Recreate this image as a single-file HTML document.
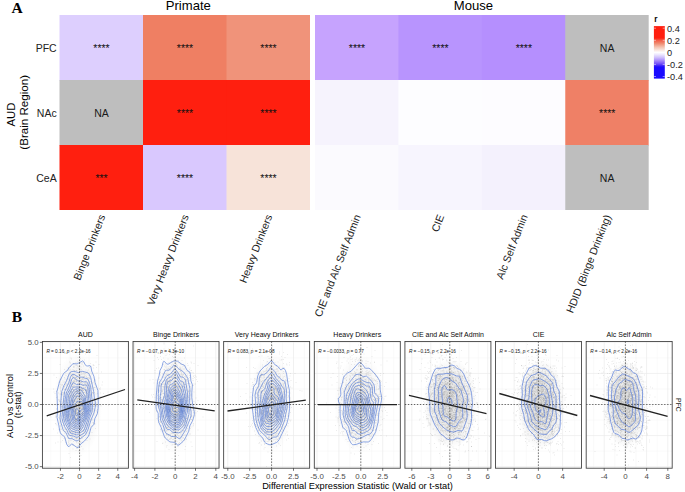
<!DOCTYPE html>
<html><head><meta charset="utf-8"><style>
html,body{margin:0;padding:0;background:#fff;}
svg{display:block;}
</style></head><body>
<svg width="685" height="492" viewBox="0 0 685 492" font-family="'Liberation Sans', sans-serif">
<rect width="685" height="492" fill="#fff"/>
<rect x="59.50" y="15.00" width="84.20" height="65.70" fill="#DDCFFE"/>
<rect x="143.00" y="15.00" width="84.20" height="65.70" fill="#EF7F63"/>
<rect x="226.50" y="15.00" width="83.50" height="65.70" fill="#F0937A"/>
<rect x="315.00" y="15.00" width="84.12" height="65.70" fill="#C6A3FE"/>
<rect x="398.42" y="15.00" width="84.12" height="65.70" fill="#B894FE"/>
<rect x="481.84" y="15.00" width="84.12" height="65.70" fill="#B58FFE"/>
<rect x="565.26" y="15.00" width="83.42" height="65.70" fill="#BEBEBE"/>
<rect x="59.50" y="80.00" width="84.20" height="65.70" fill="#BEBEBE"/>
<rect x="143.00" y="80.00" width="84.20" height="65.70" fill="#FF1F0F"/>
<rect x="226.50" y="80.00" width="83.50" height="65.70" fill="#FF1F0F"/>
<rect x="315.00" y="80.00" width="84.12" height="65.70" fill="#F6F3FD"/>
<rect x="398.42" y="80.00" width="84.12" height="65.70" fill="#FDFDFF"/>
<rect x="481.84" y="80.00" width="84.12" height="65.70" fill="#FDFCFF"/>
<rect x="565.26" y="80.00" width="83.42" height="65.70" fill="#EF8066"/>
<rect x="59.50" y="145.00" width="84.20" height="65.00" fill="#FF1F0F"/>
<rect x="143.00" y="145.00" width="84.20" height="65.00" fill="#D9C8FE"/>
<rect x="226.50" y="145.00" width="83.50" height="65.00" fill="#F7E3D9"/>
<rect x="315.00" y="145.00" width="84.12" height="65.00" fill="#FBFAFE"/>
<rect x="398.42" y="145.00" width="84.12" height="65.00" fill="#F7F5FE"/>
<rect x="481.84" y="145.00" width="84.12" height="65.00" fill="#F4F1FD"/>
<rect x="565.26" y="145.00" width="83.42" height="65.00" fill="#BEBEBE"/>
<text x="101.55" y="52.00" font-size="10.5" text-anchor="middle" fill="#111">****</text>
<text x="185.05" y="52.00" font-size="10.5" text-anchor="middle" fill="#111">****</text>
<text x="268.55" y="52.00" font-size="10.5" text-anchor="middle" fill="#111">****</text>
<text x="357.01" y="52.00" font-size="10.5" text-anchor="middle" fill="#111">****</text>
<text x="440.43" y="52.00" font-size="10.5" text-anchor="middle" fill="#111">****</text>
<text x="523.85" y="52.00" font-size="10.5" text-anchor="middle" fill="#111">****</text>
<text x="607.17" y="51.80" font-size="10.5" text-anchor="middle" fill="#1a1a1a">NA</text>
<text x="101.45" y="116.80" font-size="10.5" text-anchor="middle" fill="#1a1a1a">NA</text>
<text x="185.05" y="117.00" font-size="10.5" text-anchor="middle" fill="#111">****</text>
<text x="268.55" y="117.00" font-size="10.5" text-anchor="middle" fill="#111">****</text>
<text x="607.27" y="117.00" font-size="10.5" text-anchor="middle" fill="#111">****</text>
<text x="101.55" y="182.00" font-size="10.5" text-anchor="middle" fill="#111">***</text>
<text x="185.05" y="182.00" font-size="10.5" text-anchor="middle" fill="#111">****</text>
<text x="268.55" y="182.00" font-size="10.5" text-anchor="middle" fill="#111">****</text>
<text x="607.17" y="181.80" font-size="10.5" text-anchor="middle" fill="#1a1a1a">NA</text>
<text x="188.3" y="9.9" font-size="13.1" text-anchor="middle" fill="#000">Primate</text>
<text x="473.5" y="9.9" font-size="13.1" text-anchor="middle" fill="#000">Mouse</text>
<text x="11.4" y="12.7" font-size="15.5" font-family="Liberation Serif, serif" font-weight="bold" fill="#000">A</text>
<text x="11.8" y="321.5" font-size="15.5" font-family="Liberation Serif, serif" font-weight="bold" fill="#000">B</text>
<text x="56.7" y="52.00" font-size="10.5" text-anchor="end" fill="#222">PFC</text>
<text x="56.7" y="117.00" font-size="10.5" text-anchor="end" fill="#222">NAc</text>
<text x="56.7" y="182.00" font-size="10.5" text-anchor="end" fill="#222">CeA</text>
<text transform="translate(14.5,114.6) rotate(-90)" font-size="11.3" text-anchor="middle" fill="#000">AUD</text>
<text transform="translate(27.6,112.3) rotate(-90)" font-size="11.6" text-anchor="middle" fill="#000">(Brain Region)</text>
<text transform="translate(102.10,215) rotate(-68.5)" font-size="10.6" text-anchor="end" dy="0.35em" fill="#1A1A1A">Binge Drinkers</text>
<text transform="translate(185.60,215) rotate(-68.5)" font-size="10.6" text-anchor="end" dy="0.35em" fill="#1A1A1A">Very Heavy Drinkers</text>
<text transform="translate(269.10,215) rotate(-68.5)" font-size="10.6" text-anchor="end" dy="0.35em" fill="#1A1A1A">Heavy Drinkers</text>
<text transform="translate(357.56,215) rotate(-68.5)" font-size="10.6" text-anchor="end" dy="0.35em" fill="#1A1A1A">CIE and Alc Self Admin</text>
<text transform="translate(440.98,215) rotate(-68.5)" font-size="10.6" text-anchor="end" dy="0.35em" fill="#1A1A1A">CIE</text>
<text transform="translate(524.40,215) rotate(-68.5)" font-size="10.6" text-anchor="end" dy="0.35em" fill="#1A1A1A">Alc Self Admin</text>
<text transform="translate(607.82,215) rotate(-68.5)" font-size="10.6" text-anchor="end" dy="0.35em" fill="#1A1A1A">HDID (Binge Drinking)</text>
<defs><linearGradient id="cb" x1="0" y1="0" x2="0" y2="1"><stop offset="0" stop-color="#FF1F0F"/><stop offset="0.226" stop-color="#FF1F0F"/><stop offset="0.27" stop-color="#F45A45"/><stop offset="0.33" stop-color="#EF8A70"/><stop offset="0.4" stop-color="#F4C2B0"/><stop offset="0.47" stop-color="#FBEDE8"/><stop offset="0.5" stop-color="#FFFFFF"/><stop offset="0.54" stop-color="#EEE8FE"/><stop offset="0.595" stop-color="#D0C2FC"/><stop offset="0.65" stop-color="#AC90FA"/><stop offset="0.708" stop-color="#7C5AF8"/><stop offset="0.735" stop-color="#5E3CF8"/><stop offset="0.763" stop-color="#2E18FA"/><stop offset="0.79" stop-color="#1A0AFF"/><stop offset="1" stop-color="#1A0AFF"/></linearGradient></defs>
<rect x="653.9" y="26.1" width="10.9" height="52.5" fill="url(#cb)"/>
<line x1="653.9" x2="656" y1="28.2" y2="28.2" stroke="#fff" stroke-width="0.5"/>
<line x1="662.7" x2="664.8" y1="28.2" y2="28.2" stroke="#fff" stroke-width="0.5"/>
<text x="667.0" y="31.60" font-size="9.2" fill="#222">0.4</text>
<line x1="653.9" x2="656" y1="40.3" y2="40.3" stroke="#fff" stroke-width="0.5"/>
<line x1="662.7" x2="664.8" y1="40.3" y2="40.3" stroke="#fff" stroke-width="0.5"/>
<text x="667.0" y="43.70" font-size="9.2" fill="#222">0.2</text>
<line x1="653.9" x2="656" y1="52.4" y2="52.4" stroke="#fff" stroke-width="0.5"/>
<line x1="662.7" x2="664.8" y1="52.4" y2="52.4" stroke="#fff" stroke-width="0.5"/>
<text x="667.0" y="55.80" font-size="9.2" fill="#222">0</text>
<line x1="653.9" x2="656" y1="64.4" y2="64.4" stroke="#fff" stroke-width="0.5"/>
<line x1="662.7" x2="664.8" y1="64.4" y2="64.4" stroke="#fff" stroke-width="0.5"/>
<text x="667.0" y="67.80" font-size="9.2" fill="#222">-0.2</text>
<line x1="653.9" x2="656" y1="76.5" y2="76.5" stroke="#fff" stroke-width="0.5"/>
<line x1="662.7" x2="664.8" y1="76.5" y2="76.5" stroke="#fff" stroke-width="0.5"/>
<text x="667.0" y="79.90" font-size="9.2" fill="#222">-0.4</text>
<text x="654.3" y="21.9" font-size="8.2" font-weight="bold" fill="#000">r</text>
<defs><radialGradient id="cloud" cx="0.5" cy="0.5" r="0.5"><stop offset="0" stop-color="#C8C8C8" stop-opacity="0.55"/><stop offset="0.6" stop-color="#C8C8C8" stop-opacity="0.35"/><stop offset="1" stop-color="#C8C8C8" stop-opacity="0"/></radialGradient></defs>
<g font-family="Liberation Sans, sans-serif">
<path d="M42.40 451.11H128.40M42.40 420.04H128.40M42.40 388.96H128.40M42.40 357.89H128.40M50.90 341.5V468.2M70.00 341.5V468.2M89.10 341.5V468.2M108.20 341.5V468.2M127.30 341.5V468.2" stroke="#F3F3F3" stroke-width="0.45" fill="none"/>
<path d="M42.40 466.65H128.40M42.40 435.57H128.40M42.40 404.50H128.40M42.40 373.43H128.40M42.40 342.35H128.40M60.45 341.5V468.2M79.55 341.5V468.2M98.65 341.5V468.2M117.75 341.5V468.2" stroke="#EBEBEB" stroke-width="0.7" fill="none"/>
<ellipse cx="77.6" cy="404.3" rx="24.8" ry="52.1" fill="url(#cloud)" opacity="0.55"/>
<path transform="scale(0.5)" d="M148 690h0m1 12h0m10 6h0m12 0h0m23 3h0m-38 4h0m-14 1h0m19 1h0m-18 1h0m26 2h0m-30 4h0m16 0h0m4 0h0m33 0h0m-40 1h0m14 0h0m-25 1h0m19 0h0m3 0h0m2 0h0m-19 1h0m4 0h0m31 0h0m-34 1h0m-27 1h0m44 0h0m34 0h0m-12 1h0m1 0h0m-35 1h0m2 0h0m26 0h0m8 0h0m-40 1h0m8 0h0m11 0h0m-26 1h0m6 0h0m9 0h0m26 0h0m-33 1h0m13 0h0m-25 1h0m10 0h0m32 0h0m14 0h0m-57 1h0m18 0h0m3 0h0m30 0h0m-50 2h0m21 0h0m-29 1h0m11 0h0m6 0h0m17 0h0m-4 1h0m2 0h0m11 0h0m5 0h0m-39 1h0m10 0h0m1 0h0m3 0h0m1 0h0m1 0h0m-12 1h0m17 0h0m16 0h0m-26 2h0m14 0h0m3 0h0m14 0h0m23 0h0m-40 1h0m10 0h0m3 0h0m-36 1h0m2 0h0m26 0h0m8 0h0m18 0h0m-53 1h0m5 0h0m25 0h0m8 0h0m-49 1h0m8 0h0m20 0h0m5 0h0m2 0h0m2 0h0m2 0h0m14 0h0m-41 1h0m4 0h0m3 0h0m1 0h0m8 0h0m4 0h0m-54 1h0m29 0h0m5 0h0m2 0h0m13 0h0m13 0h0m4 0h0m-42 1h0m15 0h0m8 0h0m5 0h0m18 0h0m-33 1h0m0 0h0m1 0h0m7 0h0m17 0h0m11 0h0m-46 1h0m11 0h0m21 0h0m1 0h0m1 0h0m4 0h0m-24 1h0m3 0h0m1 0h0m1 0h0m12 0h0m-53 1h0m16 0h0m16 0h0m1 0h0m4 0h0m2 0h0m13 0h0m3 0h0m0 0h0m5 0h0m2 0h0m2 0h0m2 0h0m-32 1h0m4 0h0m1 0h0m9 0h0m37 0h0m-62 1h0m28 0h0m1 0h0m13 0h0m1 0h0m-59 1h0m3 0h0m7 0h0m19 0h0m6 0h0m0 0h0m5 0h0m7 0h0m6 0h0m9 0h0m-48 1h0m4 0h0m5 0h0m7 0h0m2 0h0m0 0h0m7 0h0m5 0h0m1 0h0m5 0h0m5 0h0m-56 1h0m21 0h0m3 0h0m10 0h0m9 0h0m1 0h0m4 0h0m9 0h0m15 0h0m-50 1h0m6 0h0m3 0h0m6 0h0m1 0h0m15 0h0m-46 1h0m13 0h0m9 0h0m1 0h0m4 0h0m5 0h0m30 0h0m-68 1h0m10 0h0m15 0h0m3 0h0m1 0h0m3 0h0m0 0h0m1 0h0m10 0h0m2 0h0m16 0h0m-63 1h0m19 0h0m10 0h0m0 0h0m15 0h0m1 0h0m9 0h0m4 0h0m1 0h0m1 0h0m5 0h0m22 0h0m-86 1h0m9 0h0m12 0h0m3 0h0m2 0h0m14 0h0m1 0h0m2 0h0m10 0h0m14 0h0m-62 1h0m16 0h0m7 0h0m5 0h0m5 0h0m1 0h0m4 0h0m2 0h0m6 0h0m0 0h0m13 0h0m-47 1h0m5 0h0m0 0h0m8 0h0m6 0h0m17 0h0m12 0h0m-52 1h0m1 0h0m10 0h0m2 0h0m11 0h0m9 0h0m4 0h0m4 0h0m3 0h0m13 0h0m-69 1h0m5 0h0m10 0h0m2 0h0m8 0h0m0 0h0m0 0h0m3 0h0m11 0h0m4 0h0m4 0h0m8 0h0m-52 1h0m1 0h0m7 0h0m25 0h0m3 0h0m8 0h0m5 0h0m3 0h0m5 0h0m24 0h0m-71 1h0m11 0h0m3 0h0m2 0h0m16 0h0m2 0h0m4 0h0m3 0h0m2 0h0m-58 1h0m8 0h0m14 0h0m12 0h0m3 0h0m2 0h0m11 0h0m3 0h0m8 0h0m0 0h0m13 0h0m-63 1h0m8 0h0m6 0h0m2 0h0m1 0h0m0 0h0m14 0h0m21 0h0m-59 1h0m7 0h0m13 0h0m3 0h0m9 0h0m0 0h0m9 0h0m8 0h0m7 0h0m5 0h0m-46 1h0m12 0h0m7 0h0m2 0h0m1 0h0m0 0h0m4 0h0m4 0h0m3 0h0m1 0h0m18 0h0m1 0h0m-70 1h0m38 0h0m1 0h0m1 0h0m7 0h0m2 0h0m9 0h0m8 0h0m1 0h0m14 0h0m-74 1h0m29 0h0m2 0h0m0 0h0m1 0h0m4 0h0m1 0h0m0 0h0m1 0h0m13 0h0m1 0h0m4 0h0m16 0h0m-92 1h0m24 0h0m3 0h0m3 0h0m9 0h0m6 0h0m0 0h0m2 0h0m7 0h0m2 0h0m2 0h0m5 0h0m1 0h0m-43 1h0m1 0h0m3 0h0m12 0h0m0 0h0m1 0h0m2 0h0m0 0h0m6 0h0m5 0h0m0 0h0m6 0h0m9 0h0m3 0h0m24 0h0m-63 1h0m6 0h0m5 0h0m5 0h0m8 0h0m2 0h0m1 0h0m1 0h0m0 0h0m2 0h0m4 0h0m2 0h0m0 0h0m4 0h0m13 0h0m-50 1h0m7 0h0m0 0h0m8 0h0m0 0h0m3 0h0m0 0h0m4 0h0m3 0h0m1 0h0m1 0h0m4 0h0m0 0h0m0 0h0m1 0h0m2 0h0m5 0h0m1 0h0m-67 1h0m8 0h0m22 0h0m8 0h0m1 0h0m3 0h0m1 0h0m4 0h0m2 0h0m1 0h0m5 0h0m4 0h0m1 0h0m1 0h0m8 0h0m-69 1h0m24 0h0m0 0h0m1 0h0m4 0h0m0 0h0m2 0h0m3 0h0m2 0h0m4 0h0m0 0h0m0 0h0m1 0h0m0 0h0m0 0h0m0 0h0m1 0h0m2 0h0m1 0h0m2 0h0m13 0h0m-65 1h0m25 0h0m4 0h0m4 0h0m2 0h0m0 0h0m5 0h0m0 0h0m3 0h0m5 0h0m10 0h0m7 0h0m3 0h0m1 0h0m1 0h0m38 0h0m-91 1h0m3 0h0m2 0h0m13 0h0m13 0h0m6 0h0m2 0h0m2 0h0m1 0h0m1 0h0m1 0h0m2 0h0m2 0h0m5 0h0m7 0h0m1 0h0m3 0h0m-72 1h0m10 0h0m6 0h0m1 0h0m6 0h0m1 0h0m3 0h0m3 0h0m3 0h0m2 0h0m1 0h0m2 0h0m1 0h0m3 0h0m1 0h0m22 0h0m3 0h0m16 0h0m-91 1h0m12 0h0m7 0h0m11 0h0m14 0h0m0 0h0m6 0h0m5 0h0m6 0h0m2 0h0m0 0h0m2 0h0m1 0h0m11 0h0m8 0h0m12 0h0m-87 1h0m5 0h0m2 0h0m13 0h0m6 0h0m1 0h0m2 0h0m6 0h0m2 0h0m0 0h0m1 0h0m2 0h0m1 0h0m1 0h0m11 0h0m11 0h0m8 0h0m-70 1h0m1 0h0m10 0h0m6 0h0m7 0h0m0 0h0m6 0h0m6 0h0m3 0h0m6 0h0m10 0h0m3 0h0m2 0h0m-57 1h0m11 0h0m2 0h0m2 0h0m7 0h0m0 0h0m6 0h0m1 0h0m5 0h0m0 0h0m4 0h0m6 0h0m3 0h0m2 0h0m4 0h0m-39 1h0m3 0h0m1 0h0m3 0h0m2 0h0m1 0h0m5 0h0m2 0h0m3 0h0m1 0h0m3 0h0m2 0h0m1 0h0m8 0h0m3 0h0m3 0h0m1 0h0m-44 1h0m0 0h0m4 0h0m1 0h0m2 0h0m0 0h0m3 0h0m1 0h0m0 0h0m3 0h0m2 0h0m4 0h0m3 0h0m3 0h0m6 0h0m1 0h0m0 0h0m1 0h0m-43 1h0m0 0h0m10 0h0m1 0h0m6 0h0m5 0h0m1 0h0m2 0h0m2 0h0m2 0h0m1 0h0m0 0h0m15 0h0m1 0h0m3 0h0m3 0h0m20 0h0m-85 1h0m21 0h0m0 0h0m5 0h0m1 0h0m3 0h0m0 0h0m2 0h0m1 0h0m1 0h0m2 0h0m1 0h0m1 0h0m0 0h0m1 0h0m3 0h0m4 0h0m2 0h0m1 0h0m0 0h0m12 0h0m2 0h0m24 0h0m-89 1h0m26 0h0m2 0h0m6 0h0m16 0h0m10 0h0m0 0h0m2 0h0m4 0h0m-46 1h0m5 0h0m1 0h0m6 0h0m2 0h0m6 0h0m1 0h0m3 0h0m0 0h0m11 0h0m0 0h0m4 0h0m6 0h0m-50 1h0m11 0h0m7 0h0m3 0h0m3 0h0m3 0h0m1 0h0m1 0h0m6 0h0m1 0h0m0 0h0m7 0h0m16 0h0m-49 1h0m6 0h0m7 0h0m1 0h0m3 0h0m3 0h0m2 0h0m2 0h0m4 0h0m2 0h0m2 0h0m0 0h0m1 0h0m17 0h0m-71 1h0m6 0h0m12 0h0m10 0h0m3 0h0m2 0h0m1 0h0m3 0h0m4 0h0m1 0h0m0 0h0m1 0h0m1 0h0m3 0h0m1 0h0m4 0h0m7 0h0m16 0h0m2 0h0m3 0h0m-78 1h0m10 0h0m7 0h0m3 0h0m5 0h0m0 0h0m2 0h0m3 0h0m1 0h0m4 0h0m1 0h0m5 0h0m0 0h0m3 0h0m0 0h0m5 0h0m1 0h0m1 0h0m7 0h0m3 0h0m8 0h0m-70 1h0m13 0h0m1 0h0m4 0h0m2 0h0m2 0h0m3 0h0m1 0h0m2 0h0m2 0h0m1 0h0m3 0h0m8 0h0m5 0h0m2 0h0m0 0h0m0 0h0m0 0h0m3 0h0m13 0h0m5 0h0m-60 1h0m1 0h0m9 0h0m2 0h0m3 0h0m0 0h0m2 0h0m1 0h0m2 0h0m1 0h0m2 0h0m3 0h0m1 0h0m9 0h0m2 0h0m1 0h0m0 0h0m1 0h0m23 0h0m-72 1h0m1 0h0m10 0h0m2 0h0m11 0h0m2 0h0m4 0h0m0 0h0m1 0h0m4 0h0m0 0h0m4 0h0m1 0h0m0 0h0m1 0h0m2 0h0m0 0h0m2 0h0m1 0h0m2 0h0m1 0h0m9 0h0m0 0h0m-54 1h0m4 0h0m7 0h0m4 0h0m2 0h0m2 0h0m4 0h0m0 0h0m1 0h0m5 0h0m2 0h0m2 0h0m1 0h0m3 0h0m0 0h0m1 0h0m0 0h0m2 0h0m1 0h0m1 0h0m13 0h0m7 0h0m-58 1h0m5 0h0m2 0h0m1 0h0m9 0h0m1 0h0m8 0h0m1 0h0m2 0h0m0 0h0m0 0h0m3 0h0m0 0h0m1 0h0m1 0h0m0 0h0m1 0h0m4 0h0m2 0h0m9 0h0m1 0h0m1 0h0m-42 1h0m1 0h0m6 0h0m3 0h0m2 0h0m0 0h0m4 0h0m0 0h0m3 0h0m1 0h0m1 0h0m1 0h0m2 0h0m1 0h0m1 0h0m1 0h0m5 0h0m1 0h0m1 0h0m8 0h0m9 0h0m4 0h0m0 0h0m-70 1h0m6 0h0m1 0h0m5 0h0m11 0h0m6 0h0m4 0h0m8 0h0m0 0h0m1 0h0m3 0h0m0 0h0m2 0h0m6 0h0m8 0h0m6 0h0m-66 1h0m5 0h0m22 0h0m7 0h0m1 0h0m0 0h0m1 0h0m3 0h0m4 0h0m1 0h0m0 0h0m3 0h0m2 0h0m-44 1h0m3 0h0m4 0h0m5 0h0m4 0h0m1 0h0m8 0h0m3 0h0m0 0h0m7 0h0m2 0h0m1 0h0m2 0h0m6 0h0m6 0h0m-75 1h0m9 0h0m1 0h0m19 0h0m0 0h0m4 0h0m1 0h0m3 0h0m1 0h0m8 0h0m1 0h0m0 0h0m5 0h0m2 0h0m2 0h0m3 0h0m1 0h0m3 0h0m0 0h0m1 0h0m4 0h0m0 0h0m2 0h0m5 0h0m0 0h0m2 0h0m20 0h0m-81 1h0m5 0h0m6 0h0m5 0h0m4 0h0m0 0h0m2 0h0m6 0h0m4 0h0m2 0h0m2 0h0m4 0h0m1 0h0m4 0h0m1 0h0m2 0h0m2 0h0m4 0h0m3 0h0m10 0h0m3 0h0m0 0h0m2 0h0m4 0h0m20 0h0m-90 1h0m6 0h0m5 0h0m1 0h0m1 0h0m0 0h0m3 0h0m2 0h0m1 0h0m7 0h0m5 0h0m0 0h0m3 0h0m2 0h0m1 0h0m0 0h0m0 0h0m0 0h0m2 0h0m2 0h0m3 0h0m1 0h0m6 0h0m3 0h0m0 0h0m7 0h0m1 0h0m13 0h0m-78 1h0m0 0h0m10 0h0m9 0h0m0 0h0m1 0h0m3 0h0m5 0h0m2 0h0m3 0h0m0 0h0m3 0h0m3 0h0m3 0h0m1 0h0m8 0h0m2 0h0m0 0h0m6 0h0m4 0h0m1 0h0m6 0h0m-72 1h0m3 0h0m4 0h0m0 0h0m11 0h0m1 0h0m1 0h0m0 0h0m0 0h0m5 0h0m1 0h0m6 0h0m2 0h0m1 0h0m9 0h0m2 0h0m0 0h0m0 0h0m2 0h0m6 0h0m4 0h0m-54 1h0m2 0h0m6 0h0m1 0h0m1 0h0m0 0h0m3 0h0m2 0h0m3 0h0m1 0h0m0 0h0m2 0h0m0 0h0m0 0h0m3 0h0m1 0h0m2 0h0m1 0h0m0 0h0m3 0h0m4 0h0m0 0h0m1 0h0m1 0h0m2 0h0m2 0h0m10 0h0m-62 1h0m21 0h0m3 0h0m1 0h0m2 0h0m2 0h0m4 0h0m1 0h0m1 0h0m2 0h0m5 0h0m1 0h0m0 0h0m3 0h0m3 0h0m1 0h0m1 0h0m1 0h0m0 0h0m1 0h0m0 0h0m2 0h0m2 0h0m2 0h0m2 0h0m7 0h0m-49 1h0m6 0h0m3 0h0m3 0h0m2 0h0m0 0h0m0 0h0m4 0h0m4 0h0m1 0h0m2 0h0m2 0h0m1 0h0m0 0h0m2 0h0m1 0h0m2 0h0m2 0h0m2 0h0m0 0h0m1 0h0m1 0h0m6 0h0m3 0h0m4 0h0m-73 1h0m0 0h0m21 0h0m7 0h0m4 0h0m1 0h0m5 0h0m1 0h0m3 0h0m1 0h0m2 0h0m1 0h0m1 0h0m3 0h0m2 0h0m4 0h0m4 0h0m5 0h0m10 0h0m-49 1h0m3 0h0m2 0h0m0 0h0m1 0h0m0 0h0m2 0h0m3 0h0m0 0h0m0 0h0m1 0h0m1 0h0m2 0h0m4 0h0m1 0h0m0 0h0m1 0h0m4 0h0m2 0h0m1 0h0m0 0h0m1 0h0m0 0h0m1 0h0m1 0h0m6 0h0m1 0h0m0 0h0m18 0h0m-70 1h0m16 0h0m1 0h0m1 0h0m1 0h0m1 0h0m1 0h0m0 0h0m2 0h0m3 0h0m1 0h0m0 0h0m1 0h0m0 0h0m1 0h0m1 0h0m3 0h0m4 0h0m5 0h0m2 0h0m1 0h0m1 0h0m6 0h0m3 0h0m1 0h0m1 0h0m2 0h0m3 0h0m2 0h0m-60 1h0m3 0h0m2 0h0m4 0h0m7 0h0m2 0h0m2 0h0m1 0h0m2 0h0m1 0h0m5 0h0m1 0h0m1 0h0m4 0h0m6 0h0m5 0h0m6 0h0m1 0h0m10 0h0m-70 1h0m0 0h0m12 0h0m3 0h0m10 0h0m0 0h0m2 0h0m2 0h0m0 0h0m4 0h0m2 0h0m0 0h0m3 0h0m2 0h0m2 0h0m2 0h0m1 0h0m1 0h0m6 0h0m1 0h0m1 0h0m-63 1h0m8 0h0m11 0h0m5 0h0m1 0h0m2 0h0m3 0h0m4 0h0m1 0h0m0 0h0m1 0h0m1 0h0m2 0h0m0 0h0m1 0h0m4 0h0m2 0h0m1 0h0m3 0h0m1 0h0m3 0h0m7 0h0m1 0h0m11 0h0m8 0h0m-66 1h0m1 0h0m1 0h0m2 0h0m0 0h0m5 0h0m0 0h0m5 0h0m4 0h0m3 0h0m1 0h0m1 0h0m0 0h0m2 0h0m6 0h0m1 0h0m6 0h0m0 0h0m1 0h0m1 0h0m1 0h0m1 0h0m3 0h0m1 0h0m3 0h0m5 0h0m2 0h0m-51 1h0m4 0h0m4 0h0m5 0h0m3 0h0m1 0h0m2 0h0m2 0h0m0 0h0m0 0h0m1 0h0m1 0h0m2 0h0m0 0h0m3 0h0m4 0h0m11 0h0m1 0h0m1 0h0m17 0h0m-68 1h0m2 0h0m5 0h0m4 0h0m11 0h0m2 0h0m3 0h0m1 0h0m2 0h0m0 0h0m1 0h0m1 0h0m1 0h0m3 0h0m1 0h0m1 0h0m4 0h0m0 0h0m1 0h0m3 0h0m15 0h0m6 0h0m-71 1h0m3 0h0m12 0h0m3 0h0m4 0h0m5 0h0m0 0h0m1 0h0m1 0h0m0 0h0m1 0h0m1 0h0m0 0h0m0 0h0m2 0h0m2 0h0m2 0h0m1 0h0m4 0h0m5 0h0m1 0h0m6 0h0m-49 1h0m2 0h0m0 0h0m2 0h0m2 0h0m3 0h0m0 0h0m2 0h0m3 0h0m1 0h0m4 0h0m3 0h0m2 0h0m3 0h0m0 0h0m2 0h0m0 0h0m5 0h0m3 0h0m0 0h0m0 0h0m0 0h0m1 0h0m2 0h0m0 0h0m5 0h0m1 0h0m1 0h0m8 0h0m-56 1h0m4 0h0m0 0h0m3 0h0m3 0h0m1 0h0m2 0h0m3 0h0m8 0h0m5 0h0m0 0h0m0 0h0m1 0h0m1 0h0m0 0h0m1 0h0m4 0h0m2 0h0m0 0h0m1 0h0m3 0h0m-57 1h0m6 0h0m3 0h0m3 0h0m11 0h0m2 0h0m3 0h0m1 0h0m1 0h0m0 0h0m3 0h0m0 0h0m3 0h0m0 0h0m2 0h0m1 0h0m3 0h0m0 0h0m0 0h0m2 0h0m6 0h0m2 0h0m0 0h0m4 0h0m1 0h0m1 0h0m3 0h0m3 0h0m1 0h0m3 0h0m8 0h0m5 0h0m-65 1h0m0 0h0m2 0h0m4 0h0m3 0h0m7 0h0m1 0h0m0 0h0m1 0h0m2 0h0m3 0h0m2 0h0m1 0h0m1 0h0m1 0h0m4 0h0m3 0h0m2 0h0m3 0h0m9 0h0m-65 1h0m10 0h0m10 0h0m0 0h0m3 0h0m1 0h0m2 0h0m0 0h0m4 0h0m0 0h0m1 0h0m0 0h0m4 0h0m2 0h0m0 0h0m1 0h0m3 0h0m1 0h0m0 0h0m4 0h0m3 0h0m1 0h0m3 0h0m1 0h0m4 0h0m10 0h0m-67 1h0m14 0h0m6 0h0m6 0h0m4 0h0m2 0h0m3 0h0m3 0h0m10 0h0m8 0h0m1 0h0m2 0h0m-70 1h0m9 0h0m10 0h0m7 0h0m0 0h0m3 0h0m5 0h0m2 0h0m0 0h0m3 0h0m1 0h0m7 0h0m6 0h0m1 0h0m0 0h0m0 0h0m1 0h0m1 0h0m3 0h0m1 0h0m1 0h0m6 0h0m4 0h0m2 0h0m-58 1h0m12 0h0m8 0h0m4 0h0m3 0h0m2 0h0m2 0h0m2 0h0m0 0h0m1 0h0m18 0h0m-41 1h0m7 0h0m1 0h0m1 0h0m6 0h0m2 0h0m2 0h0m2 0h0m1 0h0m2 0h0m0 0h0m11 0h0m2 0h0m1 0h0m5 0h0m1 0h0m2 0h0m1 0h0m9 0h0m-64 1h0m10 0h0m2 0h0m7 0h0m2 0h0m9 0h0m1 0h0m0 0h0m2 0h0m2 0h0m0 0h0m1 0h0m1 0h0m4 0h0m1 0h0m3 0h0m1 0h0m6 0h0m-57 1h0m16 0h0m5 0h0m4 0h0m3 0h0m1 0h0m1 0h0m2 0h0m2 0h0m2 0h0m0 0h0m1 0h0m1 0h0m0 0h0m3 0h0m2 0h0m2 0h0m0 0h0m6 0h0m2 0h0m2 0h0m1 0h0m3 0h0m2 0h0m5 0h0m-56 1h0m4 0h0m3 0h0m8 0h0m6 0h0m1 0h0m4 0h0m2 0h0m0 0h0m1 0h0m1 0h0m1 0h0m4 0h0m1 0h0m0 0h0m1 0h0m6 0h0m2 0h0m2 0h0m9 0h0m3 0h0m-63 1h0m5 0h0m1 0h0m8 0h0m1 0h0m2 0h0m2 0h0m1 0h0m1 0h0m8 0h0m0 0h0m1 0h0m1 0h0m1 0h0m0 0h0m1 0h0m2 0h0m1 0h0m0 0h0m5 0h0m4 0h0m1 0h0m1 0h0m18 0h0m-55 1h0m4 0h0m0 0h0m3 0h0m0 0h0m10 0h0m3 0h0m0 0h0m2 0h0m1 0h0m2 0h0m0 0h0m1 0h0m1 0h0m7 0h0m9 0h0m8 0h0m-58 1h0m1 0h0m5 0h0m1 0h0m3 0h0m7 0h0m3 0h0m4 0h0m0 0h0m3 0h0m3 0h0m0 0h0m1 0h0m0 0h0m2 0h0m1 0h0m4 0h0m3 0h0m0 0h0m0 0h0m2 0h0m0 0h0m1 0h0m0 0h0m9 0h0m-57 1h0m8 0h0m18 0h0m5 0h0m1 0h0m8 0h0m1 0h0m3 0h0m2 0h0m9 0h0m3 0h0m-40 1h0m2 0h0m1 0h0m2 0h0m7 0h0m2 0h0m0 0h0m8 0h0m1 0h0m6 0h0m3 0h0m8 0h0m-53 1h0m16 0h0m0 0h0m6 0h0m2 0h0m1 0h0m2 0h0m3 0h0m4 0h0m2 0h0m3 0h0m22 0h0m-67 1h0m20 0h0m1 0h0m6 0h0m1 0h0m0 0h0m3 0h0m12 0h0m11 0h0m14 0h0m-76 1h0m20 0h0m10 0h0m1 0h0m3 0h0m9 0h0m5 0h0m5 0h0m8 0h0m1 0h0m2 0h0m13 0h0m1 0h0m-77 1h0m21 0h0m6 0h0m0 0h0m2 0h0m3 0h0m5 0h0m1 0h0m2 0h0m2 0h0m1 0h0m1 0h0m3 0h0m19 0h0m12 0h0m-67 1h0m20 0h0m13 0h0m0 0h0m2 0h0m2 0h0m3 0h0m13 0h0m-62 1h0m14 0h0m1 0h0m11 0h0m5 0h0m4 0h0m3 0h0m1 0h0m3 0h0m1 0h0m4 0h0m2 0h0m1 0h0m6 0h0m2 0h0m2 0h0m-48 1h0m3 0h0m4 0h0m0 0h0m9 0h0m6 0h0m3 0h0m1 0h0m8 0h0m5 0h0m1 0h0m8 0h0m3 0h0m-58 1h0m2 0h0m19 0h0m5 0h0m5 0h0m4 0h0m11 0h0m6 0h0m9 0h0m4 0h0m-51 1h0m5 0h0m0 0h0m4 0h0m2 0h0m6 0h0m4 0h0m4 0h0m2 0h0m0 0h0m-34 1h0m17 0h0m3 0h0m4 0h0m2 0h0m7 0h0m1 0h0m2 0h0m0 0h0m8 0h0m2 0h0m-25 1h0m2 0h0m3 0h0m4 0h0m0 0h0m0 0h0m4 0h0m5 0h0m1 0h0m7 0h0m-45 1h0m8 0h0m5 0h0m1 0h0m6 0h0m1 0h0m1 0h0m5 0h0m2 0h0m3 0h0m11 0h0m-31 1h0m3 0h0m4 0h0m6 0h0m1 0h0m5 0h0m1 0h0m1 0h0m3 0h0m13 0h0m14 0h0m-84 1h0m12 0h0m4 0h0m7 0h0m8 0h0m1 0h0m2 0h0m16 0h0m2 0h0m3 0h0m-44 1h0m4 0h0m8 0h0m2 0h0m14 0h0m0 0h0m3 0h0m6 0h0m6 0h0m6 0h0m1 0h0m3 0h0m1 0h0m8 0h0m-45 1h0m17 0h0m2 0h0m5 0h0m-40 1h0m7 0h0m31 0h0m1 0h0m5 0h0m2 0h0m3 0h0m8 0h0m-49 1h0m14 0h0m7 0h0m19 0h0m4 0h0m-41 1h0m2 0h0m5 0h0m5 0h0m1 0h0m2 0h0m5 0h0m8 0h0m2 0h0m4 0h0m4 0h0m-28 1h0m2 0h0m4 0h0m4 0h0m1 0h0m1 0h0m0 0h0m17 0h0m5 0h0m-34 1h0m5 0h0m10 0h0m13 0h0m16 0h0m-69 1h0m14 0h0m5 0h0m7 0h0m0 0h0m1 0h0m5 0h0m4 0h0m0 0h0m4 0h0m2 0h0m2 0h0m8 0h0m10 0h0m-43 1h0m4 0h0m12 0h0m15 0h0m3 0h0m3 0h0m3 1h0m-30 1h0m1 0h0m17 0h0m-24 1h0m1 0h0m4 0h0m7 0h0m6 0h0m5 0h0m-23 1h0m3 0h0m3 0h0m7 0h0m28 0h0m-21 1h0m4 0h0m2 0h0m-12 1h0m4 0h0m-32 1h0m21 0h0m18 0h0m-25 1h0m5 0h0m5 0h0m11 0h0m13 0h0m-36 1h0m8 0h0m8 0h0m2 0h0m2 0h0m-28 1h0m22 0h0m3 0h0m11 0h0m-33 1h0m22 0h0m3 0h0m24 0h0m-34 1h0m4 0h0m-25 2h0m17 0h0m12 0h0m20 0h0m-37 1h0m1 0h0m9 1h0m14 0h0m-45 1h0m6 0h0m31 0h0m11 0h0m-32 1h0m5 0h0m24 0h0m-50 1h0m43 0h0m3 0h0m2 0h0m-21 1h0m-2 2h0m2 0h0m9 0h0m12 1h0m-13 1h0m11 0h0m-2 1h0m8 1h0m-8 1h0m-1 2h0m0 1h0m-8 1h0m20 0h0m-14 3h0m6 1h0m0 0h0m-20 5h0m24 4h0m-21 4h0m18 5h0" stroke="#999999" stroke-opacity="0.35" stroke-width="1.1" stroke-linecap="square" fill="none"/>
<path d="M98.3 403.3 98.1 408.4 97.4 413.6 94.8 418.7 94.0 424.2 93.4 425.2 91.6 426.6 91.0 427.6 89.2 434.3 88.0 436.9 84.4 441.1 80.7 444.0 78.3 447.6 77.1 447.5 71.7 443.8 69.3 446.4 68.1 446.4 66.8 444.5 64.6 436.8 61.2 434.2 60.3 432.6 59.6 430.3 58.8 425.2 57.0 417.5 57.6 411.0 56.9 391.7 59.6 381.4 63.5 373.7 64.5 372.5 66.9 371.0 69.3 367.5 72.9 363.7 77.1 363.9 82.6 360.9 83.8 361.8 85.1 364.7 86.2 365.7 87.4 366.0 89.8 365.7 90.4 366.0 91.0 367.3 91.7 371.1 93.9 376.3 95.1 382.7 97.9 390.4 98.3 403.3ZM95.3 402.0 95.5 405.9 94.2 412.3 91.0 420.0 87.7 430.3 85.6 434.6 78.9 439.9 77.1 440.9 75.3 440.6 72.3 438.7 68.7 438.6 66.0 432.9 63.5 430.3 62.8 429.0 60.2 420.0 59.9 417.5 60.9 411.0 60.7 403.3 61.7 391.7 63.9 385.6 66.3 381.4 69.3 373.7 70.5 372.0 71.7 371.5 74.1 371.3 78.3 372.6 81.4 371.4 82.6 371.4 87.4 372.6 89.2 374.2 90.7 377.6 93.7 391.7 94.4 398.1 95.3 402.0ZM92.3 402.0 92.6 407.2 91.9 412.3 89.4 418.7 86.8 427.8 85.0 432.2 83.8 433.5 81.4 434.7 78.9 436.6 77.1 437.3 75.9 437.2 73.5 436.1 69.8 435.5 68.7 434.3 66.9 430.3 64.5 426.5 62.3 420.0 61.9 417.5 62.9 409.7 63.1 403.3 64.6 391.7 68.7 382.8 70.5 377.1 71.7 375.0 72.9 374.4 74.1 374.5 78.3 377.0 82.6 377.2 84.4 378.1 87.4 378.7 88.0 379.2 89.2 381.8 90.6 386.6 92.3 402.0ZM91.0 405.9 90.9 409.7 90.3 412.3 83.9 430.3 77.7 434.7 76.5 434.8 70.5 433.0 65.4 423.9 63.7 418.7 63.5 416.2 64.5 408.4 65.0 400.7 66.2 393.0 69.3 386.6 71.7 379.5 72.9 377.8 73.5 377.6 74.7 378.1 77.7 381.1 80.7 380.8 83.2 381.9 86.2 381.7 87.5 382.7 89.0 386.6 91.0 405.9ZM89.9 405.9 89.7 409.7 89.1 412.3 83.2 426.8 81.8 429.0 79.5 431.6 77.7 432.7 76.5 432.7 71.1 430.6 69.9 429.0 66.6 422.6 65.3 418.7 64.9 414.9 67.0 395.6 67.9 393.0 69.9 389.6 71.7 384.7 72.9 382.8 74.1 382.9 76.5 384.6 80.1 384.1 83.2 385.3 85.6 384.8 86.8 385.4 87.9 389.1 88.7 399.4 89.9 405.9ZM88.6 405.9 88.8 408.4 88.1 412.3 85.0 419.4 80.0 429.0 78.3 430.6 77.1 430.9 71.7 428.5 69.9 426.4 67.5 421.3 66.4 417.5 66.2 413.6 67.8 403.3 68.4 395.6 72.9 387.4 74.1 387.0 80.1 387.0 85.6 389.7 86.8 393.4 87.4 402.0 88.6 405.9ZM87.7 407.2 87.7 409.7 86.6 413.6 84.4 418.2 81.5 422.6 78.9 428.1 77.7 428.9 76.5 428.8 71.7 426.3 69.9 424.0 68.2 420.0 67.3 416.2 67.2 413.6 69.6 402.0 70.0 396.9 72.9 391.6 74.1 390.1 75.9 389.0 77.7 388.8 80.1 389.6 82.0 391.0 85.0 395.9 86.1 402.0 87.7 407.2ZM86.8 408.4 86.6 411.0 85.6 413.8 83.8 417.1 81.4 420.3 78.3 426.4 77.1 427.0 75.9 426.9 72.3 424.8 70.6 422.6 69.1 418.7 68.3 414.9 68.4 412.3 72.0 396.9 74.4 393.0 76.5 390.8 77.7 390.7 79.6 391.7 83.8 397.2 84.7 399.4 86.8 408.4ZM85.6 405.9 86.0 409.7 85.4 412.3 84.4 414.3 80.9 418.7 77.7 424.8 76.5 425.3 74.7 424.8 72.9 423.3 71.7 421.3 69.9 415.0 69.8 411.0 70.4 407.2 72.0 403.3 73.2 398.1 76.5 393.2 77.1 392.9 78.3 393.1 83.2 398.7 84.4 401.5 85.6 405.9ZM85.2 407.2 85.2 409.7 84.5 412.3 80.7 416.7 77.9 422.6 76.5 423.7 74.7 423.2 73.5 421.9 72.7 420.0 71.0 409.7 71.5 407.2 74.7 399.5 77.1 396.0 78.3 396.1 83.0 400.7 85.2 407.2ZM84.4 407.2 84.4 409.7 83.8 411.4 80.7 414.1 77.3 421.3 76.5 421.9 75.3 421.8 74.0 420.0 72.3 411.0 72.4 408.4 73.5 406.0 75.9 402.7 77.1 401.6 78.3 401.2 81.4 401.5 82.6 402.3 83.8 404.7 84.4 407.2ZM83.3 407.2 83.2 409.3 82.6 409.9 81.4 409.9 80.7 410.3 77.7 418.2 76.5 419.7 75.9 419.8 75.3 419.3 74.7 417.7 73.7 412.3 73.6 409.7 74.1 407.9 75.3 406.4 76.5 405.7 77.7 405.5 80.1 406.0 82.0 404.9 82.6 405.3 83.3 407.2ZM78.6 411.0 78.3 413.3 77.7 414.8 76.5 415.8 75.9 415.1 75.3 413.2 75.3 409.7 75.9 408.9 77.1 408.7 78.3 409.7 78.6 411.0Z" stroke="#5C80D8" stroke-width="0.68" fill="none" stroke-linejoin="round"/>
<line x1="42.40" x2="128.40" y1="404.5" y2="404.5" stroke="#000" stroke-width="0.6" stroke-dasharray="1.3 1.7"/>
<line x1="79.55" x2="79.55" y1="341.5" y2="468.2" stroke="#000" stroke-width="0.6" stroke-dasharray="1.3 1.7"/>
<line x1="46.7" y1="415.8" x2="125" y2="389.5" stroke="#222" stroke-width="1.3"/>
<text x="46.40" y="352.60" font-size="4.7" fill="#111"><tspan font-style="italic">R</tspan> = 0.16, <tspan font-style="italic">p</tspan> &lt; 2.2e-16</text>
<rect x="42.40" y="341.5" width="86.00" height="126.70" fill="none" stroke="#3A3A3A" stroke-width="0.85"/>
<text x="85.40" y="336.9" font-size="7.0" text-anchor="middle" fill="#0A0A0A">AUD</text>
<line x1="60.45" x2="60.45" y1="468.2" y2="470.8" stroke="#333" stroke-width="0.7"/>
<text x="60.45" y="478.9" font-size="7.9" text-anchor="middle" fill="#4D4D4D">-2</text>
<line x1="79.55" x2="79.55" y1="468.2" y2="470.8" stroke="#333" stroke-width="0.7"/>
<text x="79.55" y="478.9" font-size="7.9" text-anchor="middle" fill="#4D4D4D">0</text>
<line x1="98.65" x2="98.65" y1="468.2" y2="470.8" stroke="#333" stroke-width="0.7"/>
<text x="98.65" y="478.9" font-size="7.9" text-anchor="middle" fill="#4D4D4D">2</text>
<line x1="117.75" x2="117.75" y1="468.2" y2="470.8" stroke="#333" stroke-width="0.7"/>
<text x="117.75" y="478.9" font-size="7.9" text-anchor="middle" fill="#4D4D4D">4</text>
<path d="M133.03 451.11H219.03M133.03 420.04H219.03M133.03 388.96H219.03M133.03 357.89H219.03M144.75 341.5V468.2M165.05 341.5V468.2M185.35 341.5V468.2M205.65 341.5V468.2" stroke="#F3F3F3" stroke-width="0.45" fill="none"/>
<path d="M133.03 466.65H219.03M133.03 435.57H219.03M133.03 404.50H219.03M133.03 373.43H219.03M133.03 342.35H219.03M134.60 341.5V468.2M154.90 341.5V468.2M175.20 341.5V468.2M195.50 341.5V468.2M215.80 341.5V468.2" stroke="#EBEBEB" stroke-width="0.7" fill="none"/>
<ellipse cx="175.2" cy="403.1" rx="23.0" ry="50.7" fill="url(#cloud)" opacity="0.55"/>
<path transform="scale(0.5)" d="M328 686h0m0 2h0m59 4h0m-38 5h0m-21 1h0m9 0h0m-24 1h0m9 0h0m31 2h0m-24 1h0m14 2h0m-20 1h0m24 1h0m1 0h0m-22 1h0m8 1h0m5 1h0m19 0h0m-26 2h0m-23 1h0m12 1h0m24 0h0m-30 2h0m32 0h0m-20 1h0m42 0h0m-33 2h0m-19 1h0m6 0h0m-15 2h0m44 0h0m5 0h0m7 0h0m-38 1h0m17 1h0m4 0h0m7 1h0m28 0h0m-44 1h0m8 1h0m12 0h0m25 0h0m-8 1h0m13 0h0m-57 1h0m22 0h0m9 0h0m-35 1h0m17 0h0m3 0h0m15 0h0m5 0h0m-20 1h0m6 0h0m1 0h0m-10 1h0m7 0h0m19 0h0m6 0h0m20 0h0m-67 1h0m4 0h0m22 0h0m-15 1h0m10 0h0m16 0h0m-35 1h0m5 0h0m6 0h0m12 0h0m6 0h0m10 0h0m-25 1h0m1 0h0m3 0h0m-32 1h0m16 0h0m8 0h0m8 0h0m10 0h0m2 0h0m3 0h0m16 0h0m-67 1h0m23 0h0m1 0h0m2 0h0m12 0h0m10 0h0m7 0h0m-21 1h0m2 0h0m-21 1h0m1 0h0m6 0h0m4 0h0m12 0h0m6 0h0m5 0h0m6 0h0m11 0h0m-42 1h0m4 0h0m23 0h0m-54 1h0m20 0h0m1 0h0m19 0h0m32 0h0m1 0h0m-47 1h0m11 0h0m5 0h0m9 0h0m1 0h0m-15 1h0m4 0h0m9 0h0m14 0h0m-40 1h0m18 0h0m1 0h0m24 0h0m-56 1h0m31 0h0m11 0h0m21 0h0m-74 1h0m34 0h0m13 0h0m22 0h0m8 0h0m-57 1h0m13 0h0m2 0h0m0 0h0m9 0h0m9 0h0m-38 1h0m3 0h0m5 0h0m3 0h0m12 0h0m0 0h0m2 0h0m17 0h0m-33 1h0m17 0h0m12 0h0m1 0h0m3 0h0m-46 1h0m11 0h0m15 0h0m3 0h0m1 0h0m8 0h0m2 0h0m4 0h0m10 0h0m-40 1h0m1 0h0m1 0h0m3 0h0m3 0h0m6 0h0m0 0h0m6 0h0m11 0h0m13 0h0m9 0h0m-58 1h0m24 0h0m9 0h0m9 0h0m19 0h0m-53 1h0m0 0h0m7 0h0m2 0h0m1 0h0m6 0h0m11 0h0m5 0h0m17 0h0m-63 1h0m3 0h0m12 0h0m3 0h0m13 0h0m0 0h0m3 0h0m3 0h0m9 0h0m23 0h0m-64 1h0m14 0h0m1 0h0m4 0h0m8 0h0m0 0h0m10 0h0m7 0h0m6 0h0m10 0h0m-53 1h0m10 0h0m0 0h0m12 0h0m0 0h0m-19 1h0m5 0h0m9 0h0m10 0h0m7 0h0m7 0h0m9 0h0m-40 1h0m3 0h0m-43 1h0m12 0h0m15 0h0m1 0h0m6 0h0m1 0h0m0 0h0m2 0h0m2 0h0m19 0h0m7 0h0m1 0h0m2 0h0m19 0h0m-93 1h0m12 0h0m6 0h0m17 0h0m1 0h0m4 0h0m32 0h0m-43 1h0m3 0h0m3 0h0m4 0h0m0 0h0m21 0h0m0 0h0m13 0h0m5 0h0m8 0h0m-63 1h0m4 0h0m3 0h0m7 0h0m7 0h0m4 0h0m4 0h0m2 0h0m10 0h0m6 0h0m-51 1h0m6 0h0m9 0h0m0 0h0m1 0h0m0 0h0m3 0h0m2 0h0m7 0h0m2 0h0m2 0h0m0 0h0m1 0h0m0 0h0m4 0h0m6 0h0m12 0h0m21 0h0m-58 1h0m1 0h0m0 0h0m1 0h0m2 0h0m1 0h0m7 0h0m4 0h0m8 0h0m5 0h0m0 0h0m2 0h0m-50 1h0m16 0h0m0 0h0m7 0h0m5 0h0m4 0h0m18 0h0m-60 1h0m7 0h0m6 0h0m5 0h0m12 0h0m2 0h0m9 0h0m4 0h0m0 0h0m10 0h0m0 0h0m1 0h0m4 0h0m-53 1h0m7 0h0m8 0h0m5 0h0m1 0h0m2 0h0m8 0h0m8 0h0m1 0h0m1 0h0m20 0h0m1 0h0m2 0h0m-56 1h0m1 0h0m4 0h0m5 0h0m1 0h0m7 0h0m7 0h0m1 0h0m0 0h0m17 0h0m3 0h0m2 0h0m9 0h0m8 0h0m3 0h0m-69 1h0m2 0h0m2 0h0m4 0h0m1 0h0m1 0h0m5 0h0m1 0h0m3 0h0m0 0h0m5 0h0m1 0h0m4 0h0m3 0h0m4 0h0m6 0h0m5 0h0m1 0h0m0 0h0m1 0h0m-50 1h0m18 0h0m0 0h0m6 0h0m0 0h0m3 0h0m2 0h0m1 0h0m1 0h0m3 0h0m0 0h0m3 0h0m-40 1h0m2 0h0m23 0h0m2 0h0m7 0h0m12 0h0m21 0h0m2 0h0m-68 1h0m0 0h0m4 0h0m9 0h0m2 0h0m2 0h0m12 0h0m4 0h0m2 0h0m0 0h0m4 0h0m2 0h0m6 0h0m8 0h0m-56 1h0m4 0h0m4 0h0m0 0h0m3 0h0m2 0h0m3 0h0m1 0h0m2 0h0m10 0h0m1 0h0m2 0h0m2 0h0m4 0h0m0 0h0m2 0h0m0 0h0m0 0h0m2 0h0m3 0h0m3 0h0m1 0h0m5 0h0m8 0h0m-53 1h0m6 0h0m2 0h0m0 0h0m4 0h0m0 0h0m5 0h0m0 0h0m11 0h0m3 0h0m2 0h0m1 0h0m2 0h0m1 0h0m5 0h0m12 0h0m-51 1h0m4 0h0m2 0h0m3 0h0m7 0h0m1 0h0m3 0h0m7 0h0m1 0h0m3 0h0m1 0h0m3 0h0m4 0h0m2 0h0m2 0h0m-49 1h0m4 0h0m0 0h0m5 0h0m2 0h0m0 0h0m6 0h0m2 0h0m7 0h0m3 0h0m6 0h0m19 0h0m-42 1h0m8 0h0m3 0h0m6 0h0m5 0h0m3 0h0m2 0h0m-47 1h0m16 0h0m7 0h0m1 0h0m2 0h0m1 0h0m4 0h0m10 0h0m3 0h0m12 0h0m-44 1h0m14 0h0m3 0h0m0 0h0m1 0h0m1 0h0m1 0h0m3 0h0m4 0h0m8 0h0m0 0h0m1 0h0m4 0h0m-52 1h0m1 0h0m8 0h0m1 0h0m9 0h0m1 0h0m1 0h0m2 0h0m4 0h0m3 0h0m0 0h0m2 0h0m1 0h0m6 0h0m0 0h0m2 0h0m4 0h0m1 0h0m0 0h0m6 0h0m4 0h0m2 0h0m3 0h0m-61 1h0m4 0h0m15 0h0m3 0h0m3 0h0m2 0h0m1 0h0m3 0h0m10 0h0m3 0h0m0 0h0m10 0h0m2 0h0m-55 1h0m6 0h0m2 0h0m8 0h0m0 0h0m4 0h0m1 0h0m1 0h0m2 0h0m5 0h0m1 0h0m3 0h0m2 0h0m2 0h0m0 0h0m5 0h0m6 0h0m1 0h0m0 0h0m11 0h0m1 0h0m2 0h0m1 0h0m-67 1h0m4 0h0m7 0h0m7 0h0m1 0h0m9 0h0m0 0h0m2 0h0m3 0h0m0 0h0m1 0h0m2 0h0m10 0h0m2 0h0m0 0h0m4 0h0m5 0h0m6 0h0m-54 1h0m9 0h0m7 0h0m1 0h0m2 0h0m5 0h0m1 0h0m2 0h0m1 0h0m0 0h0m5 0h0m2 0h0m1 0h0m3 0h0m15 0h0m11 0h0m-71 1h0m0 0h0m20 0h0m2 0h0m2 0h0m2 0h0m5 0h0m1 0h0m0 0h0m4 0h0m2 0h0m1 0h0m7 0h0m9 0h0m-46 1h0m5 0h0m1 0h0m7 0h0m4 0h0m2 0h0m4 0h0m4 0h0m1 0h0m0 0h0m1 0h0m2 0h0m4 0h0m3 0h0m8 0h0m3 0h0m3 0h0m-52 1h0m2 0h0m0 0h0m5 0h0m6 0h0m2 0h0m0 0h0m1 0h0m2 0h0m8 0h0m8 0h0m2 0h0m10 0h0m7 0h0m-66 1h0m10 0h0m19 0h0m10 0h0m12 0h0m4 0h0m-61 1h0m13 0h0m2 0h0m8 0h0m11 0h0m5 0h0m1 0h0m1 0h0m1 0h0m2 0h0m0 0h0m1 0h0m3 0h0m1 0h0m2 0h0m7 0h0m3 0h0m1 0h0m1 0h0m4 0h0m8 0h0m-79 1h0m19 0h0m9 0h0m2 0h0m3 0h0m0 0h0m3 0h0m6 0h0m7 0h0m2 0h0m0 0h0m1 0h0m3 0h0m0 0h0m1 0h0m3 0h0m1 0h0m3 0h0m2 0h0m8 0h0m-61 1h0m22 0h0m2 0h0m4 0h0m5 0h0m1 0h0m3 0h0m1 0h0m7 0h0m13 0h0m5 0h0m4 0h0m-51 1h0m0 0h0m3 0h0m0 0h0m6 0h0m3 0h0m1 0h0m1 0h0m0 0h0m2 0h0m0 0h0m3 0h0m0 0h0m1 0h0m0 0h0m1 0h0m1 0h0m3 0h0m5 0h0m2 0h0m8 0h0m4 0h0m-55 1h0m12 0h0m3 0h0m0 0h0m4 0h0m7 0h0m1 0h0m1 0h0m0 0h0m0 0h0m5 0h0m1 0h0m2 0h0m0 0h0m0 0h0m12 0h0m7 0h0m2 0h0m-72 1h0m8 0h0m14 0h0m1 0h0m0 0h0m1 0h0m5 0h0m4 0h0m10 0h0m5 0h0m3 0h0m10 0h0m3 0h0m0 0h0m5 0h0m-64 1h0m11 0h0m0 0h0m1 0h0m7 0h0m4 0h0m6 0h0m2 0h0m5 0h0m0 0h0m5 0h0m5 0h0m2 0h0m0 0h0m12 0h0m2 0h0m5 0h0m1 0h0m-57 1h0m15 0h0m9 0h0m2 0h0m0 0h0m1 0h0m0 0h0m3 0h0m1 0h0m1 0h0m5 0h0m3 0h0m3 0h0m0 0h0m2 0h0m2 0h0m1 0h0m2 0h0m3 0h0m18 0h0m-78 1h0m5 0h0m11 0h0m7 0h0m1 0h0m1 0h0m1 0h0m4 0h0m2 0h0m2 0h0m1 0h0m3 0h0m0 0h0m0 0h0m2 0h0m13 0h0m5 0h0m8 0h0m-58 1h0m21 0h0m5 0h0m1 0h0m1 0h0m4 0h0m3 0h0m6 0h0m2 0h0m3 0h0m-44 1h0m8 0h0m2 0h0m1 0h0m0 0h0m1 0h0m1 0h0m5 0h0m4 0h0m8 0h0m0 0h0m2 0h0m8 0h0m0 0h0m5 0h0m10 0h0m1 0h0m-63 1h0m5 0h0m1 0h0m0 0h0m3 0h0m0 0h0m6 0h0m6 0h0m1 0h0m6 0h0m0 0h0m0 0h0m2 0h0m5 0h0m1 0h0m2 0h0m5 0h0m0 0h0m0 0h0m0 0h0m1 0h0m0 0h0m0 0h0m0 0h0m3 0h0m5 0h0m-56 1h0m13 0h0m3 0h0m1 0h0m1 0h0m3 0h0m9 0h0m0 0h0m2 0h0m0 0h0m2 0h0m1 0h0m1 0h0m5 0h0m1 0h0m1 0h0m5 0h0m9 0h0m1 0h0m0 0h0m2 0h0m2 0h0m21 0h0m-60 1h0m2 0h0m3 0h0m0 0h0m2 0h0m5 0h0m2 0h0m2 0h0m0 0h0m7 0h0m0 0h0m2 0h0m2 0h0m2 0h0m0 0h0m1 0h0m8 0h0m3 0h0m-76 1h0m14 0h0m7 0h0m5 0h0m0 0h0m4 0h0m8 0h0m3 0h0m2 0h0m4 0h0m2 0h0m1 0h0m2 0h0m0 0h0m1 0h0m1 0h0m3 0h0m0 0h0m1 0h0m1 0h0m1 0h0m0 0h0m3 0h0m1 0h0m1 0h0m1 0h0m5 0h0m16 0h0m-63 1h0m9 0h0m4 0h0m14 0h0m2 0h0m3 0h0m1 0h0m11 0h0m-54 1h0m5 0h0m15 0h0m3 0h0m0 0h0m2 0h0m5 0h0m0 0h0m1 0h0m0 0h0m1 0h0m1 0h0m4 0h0m5 0h0m2 0h0m1 0h0m5 0h0m7 0h0m-56 1h0m12 0h0m10 0h0m0 0h0m2 0h0m2 0h0m3 0h0m0 0h0m0 0h0m1 0h0m0 0h0m1 0h0m0 0h0m3 0h0m1 0h0m2 0h0m1 0h0m2 0h0m3 0h0m2 0h0m5 0h0m0 0h0m5 0h0m20 0h0m-67 1h0m5 0h0m4 0h0m0 0h0m0 0h0m3 0h0m11 0h0m6 0h0m1 0h0m2 0h0m0 0h0m1 0h0m1 0h0m7 0h0m19 0h0m-57 1h0m1 0h0m7 0h0m0 0h0m2 0h0m0 0h0m6 0h0m1 0h0m0 0h0m5 0h0m1 0h0m0 0h0m3 0h0m3 0h0m2 0h0m0 0h0m2 0h0m2 0h0m3 0h0m1 0h0m2 0h0m3 0h0m-50 1h0m0 0h0m6 0h0m7 0h0m11 0h0m2 0h0m1 0h0m4 0h0m3 0h0m0 0h0m1 0h0m3 0h0m1 0h0m1 0h0m0 0h0m2 0h0m0 0h0m1 0h0m5 0h0m8 0h0m4 0h0m2 0h0m-68 1h0m12 0h0m1 0h0m5 0h0m6 0h0m1 0h0m0 0h0m1 0h0m0 0h0m2 0h0m1 0h0m4 0h0m0 0h0m3 0h0m0 0h0m2 0h0m1 0h0m3 0h0m0 0h0m2 0h0m1 0h0m1 0h0m2 0h0m2 0h0m0 0h0m12 0h0m-63 1h0m0 0h0m6 0h0m0 0h0m5 0h0m6 0h0m5 0h0m2 0h0m0 0h0m2 0h0m2 0h0m0 0h0m2 0h0m2 0h0m1 0h0m0 0h0m0 0h0m0 0h0m0 0h0m1 0h0m0 0h0m4 0h0m0 0h0m2 0h0m3 0h0m2 0h0m1 0h0m3 0h0m9 0h0m1 0h0m-51 1h0m13 0h0m2 0h0m3 0h0m2 0h0m3 0h0m1 0h0m4 0h0m0 0h0m2 0h0m3 0h0m1 0h0m1 0h0m2 0h0m0 0h0m1 0h0m1 0h0m5 0h0m0 0h0m1 0h0m8 0h0m9 0h0m-68 1h0m3 0h0m0 0h0m8 0h0m6 0h0m1 0h0m5 0h0m4 0h0m3 0h0m1 0h0m1 0h0m0 0h0m1 0h0m6 0h0m2 0h0m2 0h0m1 0h0m0 0h0m5 0h0m1 0h0m6 0h0m2 0h0m3 0h0m5 0h0m-65 1h0m5 0h0m7 0h0m0 0h0m1 0h0m1 0h0m4 0h0m2 0h0m2 0h0m1 0h0m5 0h0m0 0h0m6 0h0m6 0h0m1 0h0m1 0h0m0 0h0m1 0h0m8 0h0m2 0h0m2 0h0m-53 1h0m4 0h0m2 0h0m4 0h0m0 0h0m4 0h0m3 0h0m4 0h0m4 0h0m0 0h0m6 0h0m2 0h0m1 0h0m0 0h0m2 0h0m0 0h0m4 0h0m0 0h0m2 0h0m2 0h0m3 0h0m2 0h0m3 0h0m1 0h0m17 0h0m-65 1h0m10 0h0m1 0h0m2 0h0m3 0h0m2 0h0m1 0h0m2 0h0m1 0h0m1 0h0m0 0h0m1 0h0m1 0h0m0 0h0m1 0h0m0 0h0m2 0h0m4 0h0m2 0h0m5 0h0m2 0h0m1 0h0m6 0h0m1 0h0m1 0h0m1 0h0m6 0h0m-63 1h0m9 0h0m1 0h0m0 0h0m0 0h0m4 0h0m2 0h0m5 0h0m4 0h0m2 0h0m2 0h0m0 0h0m2 0h0m1 0h0m1 0h0m6 0h0m0 0h0m0 0h0m1 0h0m1 0h0m2 0h0m1 0h0m-41 1h0m3 0h0m10 0h0m5 0h0m2 0h0m0 0h0m3 0h0m0 0h0m3 0h0m4 0h0m1 0h0m1 0h0m1 0h0m2 0h0m2 0h0m0 0h0m3 0h0m2 0h0m0 0h0m6 0h0m0 0h0m1 0h0m4 0h0m-48 1h0m6 0h0m2 0h0m1 0h0m2 0h0m0 0h0m0 0h0m1 0h0m0 0h0m1 0h0m5 0h0m2 0h0m2 0h0m0 0h0m6 0h0m0 0h0m1 0h0m4 0h0m0 0h0m0 0h0m1 0h0m1 0h0m4 0h0m6 0h0m7 0h0m2 0h0m-55 1h0m5 0h0m1 0h0m2 0h0m1 0h0m4 0h0m0 0h0m1 0h0m4 0h0m0 0h0m2 0h0m0 0h0m2 0h0m4 0h0m1 0h0m4 0h0m4 0h0m1 0h0m2 0h0m4 0h0m10 0h0m1 0h0m1 0h0m3 0h0m-69 1h0m8 0h0m9 0h0m2 0h0m3 0h0m4 0h0m0 0h0m1 0h0m2 0h0m3 0h0m2 0h0m2 0h0m5 0h0m0 0h0m0 0h0m1 0h0m7 0h0m0 0h0m2 0h0m0 0h0m1 0h0m5 0h0m1 0h0m15 0h0m4 0h0m-65 1h0m1 0h0m8 0h0m4 0h0m2 0h0m0 0h0m3 0h0m3 0h0m1 0h0m2 0h0m1 0h0m7 0h0m1 0h0m1 0h0m0 0h0m0 0h0m1 0h0m1 0h0m3 0h0m0 0h0m0 0h0m0 0h0m4 0h0m0 0h0m1 0h0m0 0h0m8 0h0m6 0h0m-70 1h0m7 0h0m4 0h0m5 0h0m1 0h0m6 0h0m3 0h0m0 0h0m0 0h0m2 0h0m1 0h0m1 0h0m0 0h0m2 0h0m2 0h0m1 0h0m1 0h0m0 0h0m1 0h0m2 0h0m0 0h0m1 0h0m1 0h0m0 0h0m3 0h0m1 0h0m2 0h0m5 0h0m0 0h0m0 0h0m2 0h0m5 0h0m4 0h0m19 0h0m-70 1h0m3 0h0m6 0h0m2 0h0m8 0h0m1 0h0m0 0h0m3 0h0m5 0h0m2 0h0m3 0h0m0 0h0m2 0h0m4 0h0m0 0h0m5 0h0m7 0h0m-77 1h0m36 0h0m2 0h0m0 0h0m5 0h0m4 0h0m2 0h0m3 0h0m2 0h0m5 0h0m1 0h0m0 0h0m0 0h0m2 0h0m3 0h0m1 0h0m6 0h0m16 0h0m-64 1h0m6 0h0m12 0h0m0 0h0m0 0h0m1 0h0m4 0h0m2 0h0m5 0h0m0 0h0m2 0h0m1 0h0m1 0h0m7 0h0m4 0h0m1 0h0m2 0h0m19 0h0m2 0h0m-67 1h0m9 0h0m6 0h0m2 0h0m2 0h0m4 0h0m6 0h0m0 0h0m1 0h0m7 0h0m5 0h0m11 0h0m-56 1h0m11 0h0m1 0h0m2 0h0m7 0h0m0 0h0m5 0h0m2 0h0m4 0h0m2 0h0m0 0h0m0 0h0m1 0h0m3 0h0m4 0h0m3 0h0m3 0h0m-49 1h0m12 0h0m9 0h0m1 0h0m1 0h0m1 0h0m1 0h0m2 0h0m2 0h0m2 0h0m1 0h0m1 0h0m0 0h0m1 0h0m1 0h0m2 0h0m2 0h0m1 0h0m1 0h0m9 0h0m10 0h0m-57 1h0m7 0h0m1 0h0m5 0h0m5 0h0m1 0h0m5 0h0m1 0h0m0 0h0m2 0h0m1 0h0m6 0h0m1 0h0m0 0h0m5 0h0m26 0h0m-64 1h0m1 0h0m1 0h0m10 0h0m9 0h0m5 0h0m3 0h0m0 0h0m1 0h0m3 0h0m0 0h0m6 0h0m11 0h0m6 0h0m-56 1h0m8 0h0m3 0h0m1 0h0m2 0h0m1 0h0m0 0h0m1 0h0m1 0h0m4 0h0m1 0h0m0 0h0m4 0h0m1 0h0m0 0h0m1 0h0m0 0h0m3 0h0m2 0h0m0 0h0m3 0h0m4 0h0m3 0h0m8 0h0m7 0h0m6 0h0m-71 1h0m5 0h0m2 0h0m1 0h0m6 0h0m2 0h0m1 0h0m0 0h0m2 0h0m0 0h0m2 0h0m0 0h0m5 0h0m1 0h0m0 0h0m1 0h0m0 0h0m8 0h0m5 0h0m1 0h0m3 0h0m3 0h0m1 0h0m3 0h0m12 0h0m-65 1h0m0 0h0m6 0h0m4 0h0m3 0h0m7 0h0m5 0h0m1 0h0m2 0h0m3 0h0m1 0h0m4 0h0m3 0h0m3 0h0m8 0h0m8 0h0m5 0h0m2 0h0m23 0h0m-77 1h0m7 0h0m5 0h0m5 0h0m2 0h0m3 0h0m6 0h0m1 0h0m2 0h0m5 0h0m0 0h0m1 0h0m0 0h0m11 0h0m-50 1h0m8 0h0m2 0h0m9 0h0m5 0h0m3 0h0m5 0h0m1 0h0m0 0h0m11 0h0m1 0h0m13 0h0m-71 1h0m11 0h0m5 0h0m9 0h0m1 0h0m2 0h0m7 0h0m2 0h0m3 0h0m3 0h0m12 0h0m4 0h0m0 0h0m1 0h0m-35 1h0m8 0h0m0 0h0m0 0h0m2 0h0m2 0h0m0 0h0m3 0h0m8 0h0m0 0h0m1 0h0m6 0h0m5 0h0m3 0h0m-57 1h0m2 0h0m7 0h0m0 0h0m7 0h0m2 0h0m7 0h0m3 0h0m1 0h0m3 0h0m3 0h0m1 0h0m0 0h0m1 0h0m1 0h0m13 0h0m8 0h0m3 0h0m1 0h0m-66 1h0m13 0h0m1 0h0m5 0h0m8 0h0m0 0h0m9 0h0m3 0h0m1 0h0m0 0h0m1 0h0m3 0h0m4 0h0m2 0h0m4 0h0m14 0h0m-57 1h0m10 0h0m1 0h0m2 0h0m2 0h0m7 0h0m0 0h0m1 0h0m17 0h0m1 0h0m4 0h0m-52 1h0m5 0h0m0 0h0m3 0h0m5 0h0m1 0h0m2 0h0m2 0h0m2 0h0m1 0h0m0 0h0m0 0h0m2 0h0m1 0h0m1 0h0m1 0h0m7 0h0m0 0h0m3 0h0m2 0h0m5 0h0m2 0h0m6 0h0m-52 1h0m6 0h0m9 0h0m3 0h0m1 0h0m5 0h0m0 0h0m5 0h0m4 0h0m1 0h0m2 0h0m0 0h0m14 0h0m1 0h0m-49 1h0m14 0h0m4 0h0m1 0h0m1 0h0m2 0h0m3 0h0m18 0h0m4 0h0m5 0h0m-57 1h0m4 0h0m14 0h0m1 0h0m9 0h0m2 0h0m6 0h0m4 0h0m0 0h0m3 0h0m8 0h0m0 0h0m-42 1h0m3 0h0m9 0h0m4 0h0m0 0h0m5 0h0m2 0h0m6 0h0m1 0h0m4 0h0m14 0h0m-48 1h0m16 0h0m0 0h0m1 0h0m7 0h0m0 0h0m1 0h0m4 0h0m3 0h0m29 0h0m-56 1h0m7 0h0m6 0h0m7 0h0m13 0h0m1 0h0m1 0h0m1 0h0m3 0h0m-40 1h0m3 0h0m2 0h0m9 0h0m4 0h0m0 0h0m1 0h0m6 0h0m1 0h0m0 0h0m1 0h0m3 0h0m-26 1h0m2 0h0m2 0h0m2 0h0m4 0h0m2 0h0m0 0h0m3 0h0m2 0h0m9 0h0m3 0h0m3 0h0m10 0h0m11 0h0m-65 1h0m19 0h0m5 0h0m1 0h0m1 0h0m3 0h0m4 0h0m2 0h0m12 0h0m2 0h0m2 0h0m-49 1h0m6 0h0m6 0h0m10 0h0m14 0h0m0 0h0m4 0h0m0 0h0m5 0h0m17 0h0m-59 1h0m9 0h0m18 0h0m2 0h0m10 0h0m-33 1h0m15 0h0m8 0h0m16 0h0m10 0h0m-49 1h0m1 0h0m2 0h0m0 0h0m16 0h0m3 0h0m1 0h0m0 0h0m10 0h0m4 0h0m-42 1h0m1 0h0m7 0h0m0 0h0m6 0h0m0 0h0m12 0h0m5 0h0m1 0h0m-19 1h0m0 0h0m7 0h0m0 0h0m1 0h0m26 0h0m6 0h0m-59 1h0m9 0h0m4 0h0m4 0h0m9 0h0m-27 1h0m26 0h0m3 0h0m8 0h0m6 0h0m-36 1h0m2 0h0m15 0h0m51 0h0m-70 1h0m7 0h0m3 0h0m11 0h0m1 0h0m0 0h0m3 0h0m1 0h0m5 0h0m0 0h0m10 0h0m2 0h0m-47 1h0m5 0h0m7 0h0m19 0h0m2 0h0m6 0h0m4 0h0m1 0h0m1 0h0m7 0h0m3 0h0m-45 1h0m12 0h0m3 0h0m26 0h0m-17 1h0m12 0h0m-5 1h0m-19 1h0m0 0h0m3 0h0m6 0h0m1 0h0m0 0h0m6 0h0m4 0h0m-20 1h0m4 0h0m-14 1h0m0 0h0m7 0h0m20 0h0m18 0h0m2 0h0m-48 1h0m21 0h0m10 0h0m6 0h0m-37 1h0m3 0h0m4 0h0m15 0h0m21 0h0m-39 1h0m2 0h0m12 0h0m15 0h0m4 0h0m-33 1h0m4 0h0m4 0h0m6 0h0m1 0h0m5 0h0m1 0h0m7 0h0m-20 1h0m-16 1h0m1 0h0m13 0h0m17 0h0m1 0h0m6 1h0m-32 1h0m6 0h0m7 0h0m4 0h0m6 0h0m2 0h0m5 0h0m-22 1h0m25 0h0m-28 1h0m0 0h0m22 0h0m11 0h0m-35 1h0m7 0h0m2 0h0m25 0h0m-22 1h0m10 0h0m4 0h0m-12 1h0m16 0h0m-5 1h0m-49 1h0m40 0h0m-23 1h0m51 0h0m-34 1h0m3 0h0m8 0h0m-33 1h0m-1 1h0m32 0h0m2 1h0m-13 1h0m12 0h0m-14 1h0m-10 1h0m21 1h0m1 1h0m15 0h0m13 0h0m-51 1h0m19 4h0m-14 1h0m32 0h0m-20 8h0m7 4h0m-13 6h0" stroke="#999999" stroke-opacity="0.35" stroke-width="1.1" stroke-linecap="square" fill="none"/>
<path d="M194.3 412.0 194.3 414.5 193.4 418.4 192.3 421.3 189.8 425.9 188.7 431.4 184.8 439.1 183.0 441.5 179.2 444.8 178.0 445.3 177.4 445.1 175.8 443.0 174.9 442.4 169.9 441.9 165.6 438.4 164.3 436.4 161.2 427.5 158.8 422.3 158.3 419.7 158.2 413.3 156.3 409.4 156.0 406.8 156.3 395.1 157.5 381.0 159.1 375.7 160.0 370.5 162.0 366.7 162.9 362.8 163.7 361.4 164.3 361.5 166.8 363.9 168.0 364.3 173.6 361.0 177.4 361.1 181.7 364.2 184.5 365.4 187.2 370.5 189.8 372.0 190.4 374.4 190.9 380.9 192.4 384.8 191.8 392.5 191.8 397.7 192.9 405.6 194.3 412.0ZM191.1 412.0 191.1 415.8 190.3 418.4 185.5 430.1 180.5 438.2 179.2 438.7 176.1 436.6 171.4 436.5 169.3 434.9 166.2 433.5 164.9 431.3 163.0 424.9 160.6 420.0 160.1 412.0 158.5 406.8 158.3 393.8 158.8 386.1 159.6 382.2 162.0 378.3 164.9 371.4 166.2 370.3 168.7 370.2 169.9 369.7 173.6 365.6 175.5 365.6 178.6 368.8 183.6 372.0 186.7 376.3 187.7 378.3 189.9 388.7 189.6 402.9 191.1 412.0ZM189.2 410.7 188.9 414.5 185.5 425.9 183.6 429.2 180.5 432.1 178.6 432.9 176.1 432.4 173.0 432.6 169.9 429.7 167.4 429.4 166.5 428.8 162.1 418.4 161.4 412.0 160.2 405.5 160.2 396.4 161.0 391.2 161.0 386.1 161.8 383.5 163.7 381.2 166.2 376.6 167.4 375.3 170.5 374.0 174.3 369.1 175.5 369.4 176.7 370.7 180.5 377.0 183.0 377.1 184.2 378.3 185.5 380.4 187.5 392.5 187.9 402.9 189.2 410.7ZM187.5 408.1 187.4 412.0 186.2 415.8 184.7 423.6 183.6 425.8 179.9 429.3 178.6 429.9 176.1 429.6 173.0 430.0 167.4 425.4 164.4 419.7 163.5 417.1 161.9 406.8 161.9 402.9 164.6 395.1 164.9 386.1 166.0 380.9 167.4 378.6 171.2 376.7 174.3 372.7 175.5 372.8 176.7 374.1 179.9 380.3 180.5 380.9 182.3 381.4 183.6 382.9 185.8 393.8 186.5 402.9 187.5 408.1ZM186.1 408.1 186.0 410.7 184.0 419.7 182.5 423.6 179.9 427.0 178.6 428.0 175.5 427.6 173.6 428.1 172.4 427.7 168.6 423.6 165.7 418.4 163.8 408.1 163.8 405.5 166.2 395.2 166.6 386.1 167.4 382.4 168.7 381.3 171.8 380.4 173.6 378.0 174.9 377.2 176.1 377.5 176.7 378.1 179.9 383.4 182.4 386.1 184.4 395.1 186.1 408.1ZM184.3 405.5 184.7 409.4 183.9 414.5 182.4 419.7 179.9 424.9 179.2 425.8 178.0 426.4 175.5 425.8 173.6 426.2 172.4 426.0 169.9 423.3 166.8 417.1 165.5 409.4 165.4 405.5 167.6 395.1 168.5 388.7 169.3 386.1 170.4 384.8 172.8 383.5 175.5 381.3 176.7 381.7 177.4 382.4 181.4 390.0 183.3 397.7 184.3 405.5ZM183.6 409.4 182.7 415.8 179.2 423.9 178.0 424.7 175.5 424.0 173.0 424.4 171.8 423.8 169.8 421.0 167.6 415.8 166.6 410.7 166.4 405.5 170.2 388.7 171.2 387.2 173.6 385.5 175.5 385.3 176.7 386.6 178.6 389.8 181.7 396.9 182.7 400.3 183.6 409.4ZM182.4 404.2 182.9 409.4 182.5 413.3 181.7 416.1 179.2 421.7 178.0 423.0 175.5 422.3 172.4 422.2 170.5 420.1 168.5 415.8 167.5 412.0 167.1 406.8 167.7 402.9 169.9 397.3 171.0 391.2 171.8 389.5 173.0 388.2 174.3 387.9 174.9 388.2 178.0 392.3 181.4 399.0 182.4 404.2ZM181.8 404.2 182.2 409.4 181.8 413.3 180.9 415.8 178.6 420.4 177.4 421.1 172.4 419.9 170.5 417.9 168.9 414.5 168.0 410.7 167.9 406.8 168.7 403.1 170.8 399.0 172.2 392.5 172.7 391.2 173.6 390.3 174.9 390.7 177.4 393.7 180.9 400.3 181.8 404.2ZM181.1 404.2 181.5 408.1 181.4 412.0 180.5 414.9 178.6 418.2 178.0 418.9 176.7 419.2 172.4 417.6 170.5 415.9 169.3 413.4 168.5 408.1 168.9 405.5 171.2 401.4 172.6 395.1 173.6 393.0 174.9 392.9 176.7 394.9 180.4 401.6 181.1 404.2ZM180.6 405.5 180.9 409.4 180.6 412.0 179.7 414.5 178.0 416.8 176.7 417.3 175.5 417.1 171.2 414.7 169.7 412.0 169.4 408.1 169.9 406.3 171.7 402.9 173.5 396.4 174.3 395.3 174.9 395.4 175.9 396.4 177.9 400.3 179.9 402.7 180.6 405.5ZM180.1 406.8 180.2 409.4 179.8 412.0 178.6 414.1 177.4 415.1 176.1 415.2 174.3 414.6 171.9 413.3 170.8 412.0 170.4 410.7 170.6 408.1 174.3 400.4 174.9 400.4 176.7 403.1 179.2 404.2 180.1 406.8ZM179.0 408.1 178.8 410.7 178.1 412.0 177.4 412.3 174.3 412.0 172.7 410.7 172.4 409.4 172.5 408.1 173.4 405.5 174.3 404.8 176.1 407.3 176.7 407.6 178.6 407.1 179.0 408.1Z" stroke="#5C80D8" stroke-width="0.68" fill="none" stroke-linejoin="round"/>
<line x1="133.03" x2="219.03" y1="404.5" y2="404.5" stroke="#000" stroke-width="0.6" stroke-dasharray="1.3 1.7"/>
<line x1="175.20" x2="175.20" y1="341.5" y2="468.2" stroke="#000" stroke-width="0.6" stroke-dasharray="1.3 1.7"/>
<line x1="137.3" y1="399.9" x2="214.7" y2="410.95" stroke="#222" stroke-width="1.3"/>
<text x="137.03" y="352.60" font-size="4.7" fill="#111"><tspan font-style="italic">R</tspan> = −0.07, <tspan font-style="italic">p</tspan> = 4.3e-10</text>
<rect x="133.03" y="341.5" width="86.00" height="126.70" fill="none" stroke="#3A3A3A" stroke-width="0.85"/>
<text x="176.03" y="336.9" font-size="7.0" text-anchor="middle" fill="#0A0A0A">Binge Drinkers</text>
<line x1="134.60" x2="134.60" y1="468.2" y2="470.8" stroke="#333" stroke-width="0.7"/>
<text x="134.60" y="478.9" font-size="7.9" text-anchor="middle" fill="#4D4D4D">-4</text>
<line x1="154.90" x2="154.90" y1="468.2" y2="470.8" stroke="#333" stroke-width="0.7"/>
<text x="154.90" y="478.9" font-size="7.9" text-anchor="middle" fill="#4D4D4D">-2</text>
<line x1="175.20" x2="175.20" y1="468.2" y2="470.8" stroke="#333" stroke-width="0.7"/>
<text x="175.20" y="478.9" font-size="7.9" text-anchor="middle" fill="#4D4D4D">0</text>
<line x1="195.50" x2="195.50" y1="468.2" y2="470.8" stroke="#333" stroke-width="0.7"/>
<text x="195.50" y="478.9" font-size="7.9" text-anchor="middle" fill="#4D4D4D">2</text>
<line x1="215.80" x2="215.80" y1="468.2" y2="470.8" stroke="#333" stroke-width="0.7"/>
<text x="215.80" y="478.9" font-size="7.9" text-anchor="middle" fill="#4D4D4D">4</text>
<path d="M223.66 451.11H309.66M223.66 420.04H309.66M223.66 388.96H309.66M223.66 357.89H309.66M238.75 341.5V468.2M260.65 341.5V468.2M282.55 341.5V468.2M304.45 341.5V468.2" stroke="#F3F3F3" stroke-width="0.45" fill="none"/>
<path d="M223.66 466.65H309.66M223.66 435.57H309.66M223.66 404.50H309.66M223.66 373.43H309.66M223.66 342.35H309.66M227.80 341.5V468.2M249.70 341.5V468.2M271.60 341.5V468.2M293.50 341.5V468.2" stroke="#EBEBEB" stroke-width="0.7" fill="none"/>
<ellipse cx="270.9" cy="402.8" rx="22.5" ry="50.3" fill="url(#cloud)" opacity="0.55"/>
<path transform="scale(0.5)" d="M545 692h0m-40 6h0m-3 3h0m39 3h0m18 0h0m8 1h0m-8 3h0m16 1h0m-51 3h0m-6 1h0m18 0h0m27 0h0m7 2h0m-32 2h0m2 0h0m3 0h0m21 2h0m3 0h0m-24 1h0m4 0h0m13 0h0m3 0h0m-36 1h0m14 1h0m-6 1h0m-1 1h0m22 0h0m-6 1h0m29 0h0m-12 2h0m-33 1h0m4 0h0m4 0h0m31 0h0m-48 2h0m49 0h0m5 0h0m-38 1h0m-9 1h0m6 0h0m21 0h0m-28 1h0m10 0h0m12 0h0m-28 1h0m18 0h0m4 0h0m-54 1h0m14 0h0m28 0h0m24 0h0m7 0h0m2 0h0m-58 2h0m23 0h0m9 0h0m-8 1h0m20 0h0m0 0h0m0 0h0m-14 1h0m10 0h0m-17 1h0m8 0h0m-6 1h0m4 0h0m17 0h0m6 0h0m-41 1h0m5 0h0m5 0h0m2 0h0m12 0h0m-25 1h0m9 0h0m12 0h0m15 0h0m11 0h0m-40 1h0m19 0h0m1 0h0m6 0h0m15 0h0m-28 1h0m5 0h0m-31 1h0m1 0h0m8 0h0m7 1h0m3 0h0m26 0h0m8 0h0m14 0h0m9 0h0m-66 1h0m12 0h0m5 0h0m4 0h0m3 0h0m3 0h0m6 0h0m-35 1h0m1 0h0m3 0h0m14 0h0m2 0h0m5 0h0m2 0h0m-26 1h0m18 0h0m2 0h0m4 0h0m14 0h0m9 0h0m3 0h0m-53 1h0m2 0h0m0 0h0m1 0h0m1 0h0m5 0h0m14 0h0m1 0h0m-22 1h0m15 0h0m6 0h0m2 0h0m35 0h0m-60 1h0m8 0h0m10 0h0m5 0h0m6 0h0m10 0h0m10 0h0m-47 1h0m15 0h0m6 0h0m1 0h0m7 0h0m2 0h0m3 0h0m3 0h0m2 0h0m6 0h0m5 0h0m-51 1h0m8 0h0m4 0h0m2 0h0m1 0h0m4 0h0m0 0h0m0 0h0m1 0h0m5 0h0m-28 1h0m6 0h0m3 0h0m10 0h0m-28 1h0m10 0h0m21 0h0m1 0h0m1 0h0m6 0h0m9 0h0m21 0h0m-76 1h0m9 0h0m25 0h0m4 0h0m3 0h0m0 0h0m13 0h0m10 0h0m-36 1h0m2 0h0m2 0h0m12 0h0m3 0h0m14 0h0m8 0h0m-62 1h0m10 0h0m2 0h0m8 0h0m1 0h0m18 0h0m4 0h0m0 0h0m3 0h0m19 0h0m-49 1h0m2 0h0m9 0h0m1 0h0m0 0h0m6 0h0m1 0h0m2 0h0m1 0h0m3 0h0m1 0h0m8 0h0m13 0h0m10 0h0m-67 1h0m15 0h0m0 0h0m6 0h0m9 0h0m15 0h0m10 0h0m2 0h0m3 0h0m-53 1h0m1 0h0m20 0h0m2 0h0m0 0h0m1 0h0m3 0h0m3 0h0m0 0h0m5 0h0m21 0h0m-54 1h0m12 0h0m1 0h0m5 0h0m24 0h0m-61 1h0m25 0h0m21 0h0m3 0h0m4 0h0m11 0h0m2 0h0m21 0h0m-72 1h0m8 0h0m5 0h0m1 0h0m0 0h0m2 0h0m1 0h0m2 0h0m8 0h0m14 0h0m-67 1h0m24 0h0m7 0h0m4 0h0m6 0h0m6 0h0m5 0h0m1 0h0m6 0h0m0 0h0m4 0h0m11 0h0m2 0h0m-52 1h0m12 0h0m3 0h0m6 0h0m1 0h0m2 0h0m10 0h0m6 0h0m4 0h0m2 0h0m3 0h0m5 0h0m-66 1h0m1 0h0m10 0h0m7 0h0m1 0h0m7 0h0m4 0h0m7 0h0m1 0h0m4 0h0m1 0h0m18 0h0m-45 1h0m9 0h0m9 0h0m3 0h0m3 0h0m1 0h0m10 0h0m1 0h0m2 0h0m-34 1h0m13 0h0m2 0h0m5 0h0m10 0h0m2 0h0m1 0h0m2 0h0m0 0h0m6 0h0m10 0h0m-73 1h0m19 0h0m2 0h0m3 0h0m7 0h0m7 0h0m3 0h0m5 0h0m2 0h0m15 0h0m3 0h0m-50 1h0m4 0h0m14 0h0m3 0h0m1 0h0m2 0h0m0 0h0m2 0h0m1 0h0m6 0h0m13 0h0m-51 1h0m2 0h0m9 0h0m1 0h0m8 0h0m0 0h0m0 0h0m5 0h0m0 0h0m1 0h0m3 0h0m4 0h0m1 0h0m1 0h0m0 0h0m1 0h0m9 0h0m1 0h0m1 0h0m7 0h0m6 0h0m6 0h0m-69 1h0m15 0h0m13 0h0m1 0h0m2 0h0m4 0h0m3 0h0m1 0h0m7 0h0m10 0h0m-51 1h0m14 0h0m12 0h0m1 0h0m7 0h0m1 0h0m3 0h0m3 0h0m8 0h0m3 0h0m6 0h0m9 0h0m-78 1h0m16 0h0m2 0h0m7 0h0m2 0h0m3 0h0m3 0h0m4 0h0m1 0h0m6 0h0m1 0h0m1 0h0m1 0h0m1 0h0m2 0h0m3 0h0m4 0h0m0 0h0m5 0h0m-48 1h0m19 0h0m7 0h0m3 0h0m0 0h0m0 0h0m1 0h0m0 0h0m1 0h0m1 0h0m6 0h0m0 0h0m0 0h0m13 0h0m-53 1h0m0 0h0m18 0h0m6 0h0m3 0h0m4 0h0m3 0h0m1 0h0m4 0h0m6 0h0m5 0h0m-61 1h0m11 0h0m11 0h0m2 0h0m10 0h0m1 0h0m3 0h0m8 0h0m1 0h0m0 0h0m9 0h0m8 0h0m-58 1h0m4 0h0m5 0h0m4 0h0m3 0h0m5 0h0m2 0h0m3 0h0m2 0h0m0 0h0m1 0h0m3 0h0m5 0h0m2 0h0m2 0h0m0 0h0m2 0h0m4 0h0m40 0h0m-82 1h0m5 0h0m2 0h0m0 0h0m11 0h0m5 0h0m5 0h0m3 0h0m19 0h0m1 0h0m3 0h0m32 0h0m-84 1h0m2 0h0m3 0h0m4 0h0m5 0h0m5 0h0m10 0h0m3 0h0m2 0h0m1 0h0m2 0h0m2 0h0m7 0h0m1 0h0m3 0h0m-55 1h0m8 0h0m1 0h0m2 0h0m4 0h0m2 0h0m1 0h0m3 0h0m3 0h0m3 0h0m0 0h0m2 0h0m2 0h0m7 0h0m1 0h0m2 0h0m1 0h0m16 0h0m3 0h0m-74 1h0m13 0h0m5 0h0m3 0h0m0 0h0m14 0h0m9 0h0m1 0h0m1 0h0m4 0h0m2 0h0m4 0h0m0 0h0m1 0h0m1 0h0m1 0h0m5 0h0m3 0h0m7 0h0m-63 1h0m9 0h0m1 0h0m12 0h0m3 0h0m1 0h0m3 0h0m0 0h0m2 0h0m3 0h0m4 0h0m2 0h0m2 0h0m6 0h0m1 0h0m5 0h0m1 0h0m12 0h0m-88 1h0m22 0h0m12 0h0m2 0h0m2 0h0m3 0h0m1 0h0m5 0h0m2 0h0m1 0h0m1 0h0m6 0h0m6 0h0m2 0h0m6 0h0m-53 1h0m14 0h0m5 0h0m3 0h0m1 0h0m0 0h0m3 0h0m8 0h0m1 0h0m3 0h0m2 0h0m3 0h0m3 0h0m12 0h0m-52 1h0m13 0h0m1 0h0m3 0h0m2 0h0m1 0h0m2 0h0m5 0h0m1 0h0m4 0h0m0 0h0m8 0h0m0 0h0m1 0h0m1 0h0m0 0h0m1 0h0m9 0h0m3 0h0m-54 1h0m9 0h0m3 0h0m8 0h0m4 0h0m1 0h0m0 0h0m1 0h0m1 0h0m1 0h0m1 0h0m7 0h0m7 0h0m4 0h0m-47 1h0m5 0h0m2 0h0m5 0h0m5 0h0m8 0h0m2 0h0m2 0h0m5 0h0m6 0h0m8 0h0m7 0h0m-65 1h0m9 0h0m3 0h0m17 0h0m1 0h0m3 0h0m1 0h0m2 0h0m5 0h0m1 0h0m3 0h0m0 0h0m0 0h0m3 0h0m0 0h0m2 0h0m6 0h0m1 0h0m1 0h0m6 0h0m6 0h0m0 0h0m-96 1h0m53 0h0m0 0h0m3 0h0m3 0h0m1 0h0m1 0h0m4 0h0m2 0h0m1 0h0m6 0h0m8 0h0m5 0h0m2 0h0m-70 1h0m21 0h0m1 0h0m2 0h0m0 0h0m5 0h0m1 0h0m2 0h0m2 0h0m2 0h0m0 0h0m1 0h0m4 0h0m3 0h0m0 0h0m2 0h0m1 0h0m3 0h0m2 0h0m1 0h0m6 0h0m5 0h0m1 0h0m-53 1h0m1 0h0m5 0h0m2 0h0m6 0h0m9 0h0m1 0h0m0 0h0m2 0h0m1 0h0m2 0h0m1 0h0m1 0h0m2 0h0m0 0h0m6 0h0m1 0h0m4 0h0m5 0h0m9 0h0m6 0h0m-63 1h0m7 0h0m11 0h0m8 0h0m2 0h0m0 0h0m0 0h0m6 0h0m1 0h0m0 0h0m2 0h0m2 0h0m2 0h0m1 0h0m2 0h0m1 0h0m3 0h0m1 0h0m0 0h0m1 0h0m0 0h0m2 0h0m2 0h0m2 0h0m10 0h0m2 0h0m-65 1h0m5 0h0m1 0h0m5 0h0m2 0h0m3 0h0m0 0h0m1 0h0m3 0h0m0 0h0m1 0h0m0 0h0m1 0h0m0 0h0m3 0h0m2 0h0m1 0h0m1 0h0m1 0h0m1 0h0m1 0h0m2 0h0m3 0h0m3 0h0m0 0h0m2 0h0m6 0h0m-38 1h0m1 0h0m5 0h0m0 0h0m2 0h0m0 0h0m1 0h0m0 0h0m11 0h0m1 0h0m3 0h0m5 0h0m1 0h0m1 0h0m0 0h0m0 0h0m16 0h0m-55 1h0m2 0h0m4 0h0m2 0h0m6 0h0m5 0h0m0 0h0m0 0h0m1 0h0m4 0h0m0 0h0m2 0h0m0 0h0m1 0h0m1 0h0m1 0h0m0 0h0m1 0h0m3 0h0m0 0h0m1 0h0m4 0h0m2 0h0m1 0h0m1 0h0m6 0h0m1 0h0m-74 1h0m33 0h0m5 0h0m2 0h0m4 0h0m4 0h0m1 0h0m16 0h0m10 0h0m1 0h0m12 0h0m-75 1h0m16 0h0m7 0h0m5 0h0m5 0h0m1 0h0m3 0h0m7 0h0m2 0h0m0 0h0m0 0h0m1 0h0m1 0h0m1 0h0m2 0h0m0 0h0m5 0h0m4 0h0m-61 1h0m3 0h0m6 0h0m5 0h0m4 0h0m5 0h0m5 0h0m1 0h0m1 0h0m6 0h0m1 0h0m4 0h0m1 0h0m2 0h0m1 0h0m0 0h0m1 0h0m10 0h0m2 0h0m1 0h0m3 0h0m2 0h0m4 0h0m-78 1h0m19 0h0m6 0h0m3 0h0m2 0h0m9 0h0m2 0h0m9 0h0m1 0h0m5 0h0m4 0h0m1 0h0m2 0h0m1 0h0m3 0h0m5 0h0m1 0h0m6 0h0m-52 1h0m2 0h0m1 0h0m4 0h0m8 0h0m2 0h0m4 0h0m3 0h0m0 0h0m1 0h0m11 0h0m-45 1h0m7 0h0m3 0h0m9 0h0m1 0h0m2 0h0m5 0h0m2 0h0m4 0h0m4 0h0m1 0h0m2 0h0m1 0h0m6 0h0m3 0h0m11 0h0m-62 1h0m5 0h0m14 0h0m3 0h0m0 0h0m2 0h0m1 0h0m5 0h0m2 0h0m2 0h0m2 0h0m8 0h0m2 0h0m4 0h0m-55 1h0m2 0h0m7 0h0m2 0h0m0 0h0m2 0h0m4 0h0m3 0h0m1 0h0m0 0h0m2 0h0m1 0h0m0 0h0m5 0h0m2 0h0m2 0h0m3 0h0m3 0h0m1 0h0m0 0h0m1 0h0m0 0h0m2 0h0m2 0h0m1 0h0m0 0h0m1 0h0m1 0h0m0 0h0m1 0h0m3 0h0m-58 1h0m4 0h0m6 0h0m12 0h0m1 0h0m2 0h0m1 0h0m9 0h0m2 0h0m2 0h0m0 0h0m3 0h0m0 0h0m5 0h0m1 0h0m0 0h0m12 0h0m2 0h0m6 0h0m8 0h0m-54 1h0m6 0h0m2 0h0m2 0h0m6 0h0m9 0h0m2 0h0m1 0h0m2 0h0m1 0h0m1 0h0m2 0h0m1 0h0m2 0h0m3 0h0m5 0h0m16 0h0m-83 1h0m12 0h0m6 0h0m8 0h0m0 0h0m3 0h0m1 0h0m1 0h0m3 0h0m4 0h0m1 0h0m2 0h0m0 0h0m1 0h0m1 0h0m3 0h0m0 0h0m6 0h0m2 0h0m4 0h0m8 0h0m0 0h0m3 0h0m1 0h0m5 0h0m-53 1h0m9 0h0m1 0h0m2 0h0m1 0h0m4 0h0m0 0h0m4 0h0m0 0h0m2 0h0m1 0h0m1 0h0m2 0h0m0 0h0m2 0h0m1 0h0m3 0h0m1 0h0m2 0h0m0 0h0m3 0h0m1 0h0m2 0h0m2 0h0m6 0h0m0 0h0m7 0h0m-64 1h0m2 0h0m2 0h0m0 0h0m5 0h0m2 0h0m2 0h0m3 0h0m1 0h0m0 0h0m1 0h0m1 0h0m1 0h0m1 0h0m0 0h0m0 0h0m1 0h0m0 0h0m2 0h0m0 0h0m5 0h0m1 0h0m2 0h0m14 0h0m0 0h0m0 0h0m12 0h0m-66 1h0m11 0h0m1 0h0m3 0h0m6 0h0m4 0h0m4 0h0m1 0h0m1 0h0m1 0h0m1 0h0m8 0h0m0 0h0m2 0h0m2 0h0m2 0h0m1 0h0m9 0h0m11 0h0m-62 1h0m1 0h0m4 0h0m5 0h0m1 0h0m1 0h0m1 0h0m0 0h0m7 0h0m2 0h0m2 0h0m1 0h0m3 0h0m1 0h0m1 0h0m0 0h0m0 0h0m1 0h0m2 0h0m0 0h0m2 0h0m4 0h0m4 0h0m5 0h0m1 0h0m4 0h0m0 0h0m8 0h0m-81 1h0m19 0h0m2 0h0m4 0h0m9 0h0m2 0h0m5 0h0m0 0h0m2 0h0m0 0h0m1 0h0m2 0h0m1 0h0m0 0h0m4 0h0m8 0h0m3 0h0m3 0h0m2 0h0m2 0h0m2 0h0m1 0h0m6 0h0m6 0h0m5 0h0m-70 1h0m1 0h0m3 0h0m8 0h0m0 0h0m4 0h0m0 0h0m2 0h0m1 0h0m4 0h0m4 0h0m3 0h0m3 0h0m6 0h0m1 0h0m3 0h0m3 0h0m1 0h0m1 0h0m3 0h0m0 0h0m3 0h0m3 0h0m-56 1h0m1 0h0m3 0h0m7 0h0m6 0h0m1 0h0m2 0h0m0 0h0m1 0h0m0 0h0m1 0h0m1 0h0m1 0h0m7 0h0m2 0h0m3 0h0m6 0h0m1 0h0m5 0h0m3 0h0m8 0h0m29 0h0m-98 1h0m1 0h0m4 0h0m18 0h0m4 0h0m2 0h0m3 0h0m7 0h0m3 0h0m5 0h0m1 0h0m2 0h0m3 0h0m16 0h0m-65 1h0m3 0h0m1 0h0m8 0h0m3 0h0m3 0h0m4 0h0m11 0h0m2 0h0m9 0h0m0 0h0m2 0h0m2 0h0m0 0h0m9 0h0m1 0h0m1 0h0m3 0h0m1 0h0m2 0h0m-59 1h0m0 0h0m1 0h0m4 0h0m12 0h0m6 0h0m2 0h0m1 0h0m4 0h0m3 0h0m1 0h0m0 0h0m8 0h0m1 0h0m6 0h0m1 0h0m6 0h0m-56 1h0m10 0h0m0 0h0m0 0h0m1 0h0m1 0h0m1 0h0m1 0h0m6 0h0m3 0h0m3 0h0m1 0h0m0 0h0m0 0h0m1 0h0m2 0h0m0 0h0m7 0h0m0 0h0m2 0h0m4 0h0m1 0h0m3 0h0m2 0h0m-43 1h0m3 0h0m6 0h0m2 0h0m3 0h0m0 0h0m6 0h0m6 0h0m2 0h0m1 0h0m2 0h0m0 0h0m1 0h0m7 0h0m0 0h0m1 0h0m1 0h0m2 0h0m4 0h0m-44 1h0m1 0h0m0 0h0m6 0h0m0 0h0m3 0h0m0 0h0m1 0h0m1 0h0m1 0h0m1 0h0m2 0h0m4 0h0m4 0h0m4 0h0m4 0h0m0 0h0m1 0h0m5 0h0m1 0h0m0 0h0m3 0h0m-47 1h0m1 0h0m7 0h0m3 0h0m3 0h0m0 0h0m0 0h0m2 0h0m1 0h0m0 0h0m2 0h0m2 0h0m1 0h0m1 0h0m1 0h0m2 0h0m3 0h0m1 0h0m1 0h0m2 0h0m2 0h0m1 0h0m0 0h0m0 0h0m5 0h0m4 0h0m-52 1h0m1 0h0m0 0h0m10 0h0m1 0h0m1 0h0m4 0h0m7 0h0m0 0h0m2 0h0m0 0h0m5 0h0m4 0h0m1 0h0m1 0h0m1 0h0m3 0h0m0 0h0m2 0h0m5 0h0m12 0h0m10 0h0m-88 1h0m20 0h0m7 0h0m2 0h0m1 0h0m1 0h0m0 0h0m4 0h0m0 0h0m3 0h0m8 0h0m3 0h0m10 0h0m3 0h0m2 0h0m9 0h0m2 0h0m2 0h0m-63 1h0m7 0h0m3 0h0m4 0h0m3 0h0m0 0h0m1 0h0m1 0h0m7 0h0m3 0h0m4 0h0m0 0h0m1 0h0m1 0h0m0 0h0m1 0h0m4 0h0m1 0h0m0 0h0m1 0h0m1 0h0m2 0h0m0 0h0m1 0h0m1 0h0m1 0h0m2 0h0m4 0h0m0 0h0m9 0h0m7 0h0m-62 1h0m5 0h0m5 0h0m5 0h0m1 0h0m6 0h0m0 0h0m1 0h0m0 0h0m2 0h0m8 0h0m1 0h0m3 0h0m0 0h0m2 0h0m1 0h0m7 0h0m-46 1h0m7 0h0m1 0h0m0 0h0m4 0h0m1 0h0m13 0h0m1 0h0m1 0h0m0 0h0m2 0h0m1 0h0m0 0h0m1 0h0m13 0h0m3 0h0m-52 1h0m5 0h0m3 0h0m7 0h0m1 0h0m2 0h0m0 0h0m2 0h0m3 0h0m0 0h0m1 0h0m1 0h0m1 0h0m2 0h0m1 0h0m0 0h0m1 0h0m0 0h0m1 0h0m4 0h0m2 0h0m1 0h0m3 0h0m0 0h0m6 0h0m1 0h0m14 0h0m-63 1h0m5 0h0m11 0h0m5 0h0m3 0h0m4 0h0m3 0h0m2 0h0m3 0h0m0 0h0m4 0h0m2 0h0m3 0h0m4 0h0m17 0h0m-71 1h0m5 0h0m5 0h0m2 0h0m10 0h0m1 0h0m2 0h0m0 0h0m1 0h0m2 0h0m2 0h0m0 0h0m0 0h0m0 0h0m4 0h0m1 0h0m0 0h0m2 0h0m1 0h0m2 0h0m4 0h0m1 0h0m4 0h0m3 0h0m0 0h0m2 0h0m3 0h0m7 0h0m1 0h0m6 0h0m-68 1h0m5 0h0m2 0h0m1 0h0m9 0h0m0 0h0m4 0h0m2 0h0m1 0h0m3 0h0m1 0h0m0 0h0m2 0h0m2 0h0m2 0h0m0 0h0m4 0h0m5 0h0m0 0h0m2 0h0m5 0h0m7 0h0m1 0h0m2 0h0m2 0h0m5 0h0m-44 1h0m4 0h0m1 0h0m4 0h0m12 0h0m3 0h0m1 0h0m5 0h0m1 0h0m3 0h0m-43 1h0m5 0h0m1 0h0m1 0h0m3 0h0m3 0h0m0 0h0m0 0h0m2 0h0m1 0h0m0 0h0m2 0h0m1 0h0m4 0h0m3 0h0m1 0h0m4 0h0m1 0h0m1 0h0m-52 1h0m8 0h0m14 0h0m1 0h0m4 0h0m1 0h0m2 0h0m7 0h0m0 0h0m0 0h0m1 0h0m2 0h0m2 0h0m7 0h0m6 0h0m1 0h0m0 0h0m3 0h0m-37 1h0m0 0h0m3 0h0m3 0h0m6 0h0m2 0h0m4 0h0m0 0h0m1 0h0m6 0h0m2 0h0m15 0h0m5 0h0m-65 1h0m3 0h0m7 0h0m4 0h0m2 0h0m1 0h0m7 0h0m1 0h0m2 0h0m5 0h0m2 0h0m5 0h0m1 0h0m2 0h0m7 0h0m3 0h0m4 0h0m-48 1h0m7 0h0m7 0h0m1 0h0m4 0h0m3 0h0m0 0h0m0 0h0m1 0h0m1 0h0m1 0h0m1 0h0m1 0h0m1 0h0m3 0h0m6 0h0m4 0h0m0 0h0m1 0h0m2 0h0m-51 1h0m1 0h0m5 0h0m7 0h0m1 0h0m2 0h0m7 0h0m1 0h0m2 0h0m1 0h0m1 0h0m1 0h0m1 0h0m4 0h0m10 0h0m1 0h0m1 0h0m0 0h0m6 0h0m1 0h0m2 0h0m15 0h0m3 0h0m-77 1h0m11 0h0m0 0h0m9 0h0m0 0h0m6 0h0m4 0h0m1 0h0m4 0h0m1 0h0m0 0h0m1 0h0m2 0h0m1 0h0m1 0h0m2 0h0m1 0h0m4 0h0m0 0h0m5 0h0m2 0h0m1 0h0m5 0h0m4 0h0m3 0h0m-59 1h0m10 0h0m0 0h0m2 0h0m1 0h0m11 0h0m1 0h0m6 0h0m5 0h0m0 0h0m0 0h0m2 0h0m4 0h0m14 0h0m11 0h0m-54 1h0m4 0h0m0 0h0m1 0h0m0 0h0m1 0h0m1 0h0m2 0h0m0 0h0m5 0h0m5 0h0m2 0h0m4 0h0m3 0h0m2 0h0m0 0h0m4 0h0m2 0h0m1 0h0m-50 1h0m4 0h0m8 0h0m2 0h0m3 0h0m4 0h0m1 0h0m2 0h0m0 0h0m3 0h0m5 0h0m1 0h0m1 0h0m3 0h0m5 0h0m10 0h0m-54 1h0m24 0h0m5 0h0m4 0h0m1 0h0m0 0h0m4 0h0m6 0h0m0 0h0m-41 1h0m3 0h0m11 0h0m3 0h0m3 0h0m2 0h0m4 0h0m2 0h0m2 0h0m1 0h0m3 0h0m-44 1h0m18 0h0m7 0h0m1 0h0m1 0h0m5 0h0m1 0h0m4 0h0m2 0h0m9 0h0m4 0h0m3 0h0m17 0h0m-53 1h0m1 0h0m0 0h0m3 0h0m0 0h0m13 0h0m2 0h0m19 0h0m-51 1h0m10 0h0m4 0h0m7 0h0m1 0h0m9 0h0m2 0h0m4 0h0m3 0h0m4 0h0m3 0h0m4 0h0m3 0h0m8 0h0m-70 1h0m7 0h0m1 0h0m3 0h0m10 0h0m3 0h0m2 0h0m10 0h0m0 0h0m1 0h0m2 0h0m1 0h0m6 0h0m3 0h0m14 0h0m-46 1h0m2 0h0m4 0h0m10 0h0m0 0h0m1 0h0m7 0h0m2 0h0m1 0h0m1 0h0m3 0h0m14 0h0m8 0h0m-59 1h0m9 0h0m1 0h0m3 0h0m6 0h0m12 0h0m9 0h0m22 0h0m-79 1h0m4 0h0m12 0h0m6 0h0m13 0h0m1 0h0m3 0h0m2 0h0m3 0h0m8 0h0m8 0h0m4 0h0m2 0h0m6 0h0m-64 1h0m25 0h0m6 0h0m0 0h0m1 0h0m5 0h0m1 0h0m0 0h0m-27 1h0m1 0h0m11 0h0m15 0h0m12 0h0m5 0h0m0 0h0m3 0h0m5 0h0m-52 1h0m1 0h0m14 0h0m3 0h0m2 0h0m1 0h0m2 0h0m8 0h0m2 0h0m5 0h0m4 0h0m-45 1h0m8 0h0m2 0h0m3 0h0m6 0h0m1 0h0m5 0h0m6 0h0m20 0h0m-45 1h0m4 0h0m2 0h0m0 0h0m6 0h0m2 0h0m2 0h0m1 0h0m7 0h0m0 0h0m0 0h0m3 0h0m5 0h0m1 0h0m0 0h0m14 0h0m-39 1h0m3 0h0m6 0h0m6 0h0m1 0h0m5 0h0m6 0h0m-37 1h0m10 0h0m8 0h0m6 0h0m1 0h0m9 0h0m15 0h0m-49 1h0m17 0h0m4 0h0m6 0h0m5 0h0m5 0h0m13 0h0m-58 1h0m15 0h0m4 0h0m7 0h0m13 0h0m8 0h0m10 0h0m-42 1h0m10 0h0m2 0h0m0 0h0m6 0h0m6 0h0m5 0h0m8 0h0m-44 1h0m13 0h0m0 0h0m1 0h0m7 0h0m16 0h0m9 0h0m11 0h0m-41 1h0m0 0h0m1 0h0m4 0h0m7 0h0m5 0h0m-21 1h0m0 0h0m1 0h0m3 0h0m3 0h0m4 0h0m2 0h0m5 0h0m6 0h0m-32 1h0m5 0h0m18 0h0m8 0h0m4 0h0m2 0h0m-27 1h0m5 0h0m16 0h0m19 0h0m-60 1h0m64 0h0m-29 1h0m4 0h0m2 0h0m9 0h0m-29 1h0m12 0h0m3 0h0m28 0h0m-23 1h0m2 0h0m-36 1h0m26 0h0m0 0h0m4 0h0m9 0h0m-20 1h0m1 0h0m1 0h0m-15 1h0m13 0h0m2 0h0m19 0h0m-12 1h0m6 0h0m10 0h0m-30 1h0m5 0h0m4 0h0m2 0h0m14 0h0m20 0h0m-50 1h0m8 0h0m3 0h0m1 0h0m15 0h0m-16 1h0m12 0h0m5 0h0m-24 1h0m12 0h0m4 0h0m7 0h0m19 0h0m-35 1h0m-15 1h0m5 0h0m10 0h0m4 0h0m-11 1h0m3 0h0m2 0h0m15 0h0m-7 1h0m-25 1h0m38 1h0m-39 1h0m11 0h0m4 0h0m10 0h0m15 1h0m-29 1h0m15 0h0m-21 1h0m15 0h0m4 1h0m19 0h0m-8 1h0m-23 3h0m-2 3h0m16 3h0m-8 3h0m8 0h0m-2 2h0m-9 27h0" stroke="#999999" stroke-opacity="0.35" stroke-width="1.1" stroke-linecap="square" fill="none"/>
<path d="M289.4 390.1 289.6 408.2 288.5 417.3 286.7 424.0 279.3 439.3 277.9 441.4 276.7 442.4 271.6 444.6 269.8 444.7 267.9 444.2 265.8 443.2 264.7 442.2 262.6 438.0 259.1 434.3 255.8 427.6 254.2 422.5 252.3 408.2 252.4 396.6 253.5 387.5 254.1 385.7 256.0 383.9 256.6 382.5 257.8 375.8 259.7 371.3 264.7 366.2 267.9 364.4 269.8 361.9 271.0 360.9 272.3 361.2 274.8 364.7 277.3 365.9 280.1 369.4 281.1 369.6 282.9 368.5 284.2 368.5 285.5 370.6 286.7 374.5 288.0 383.8 289.4 390.1ZM286.9 403.0 287.2 408.2 285.6 414.7 284.8 419.9 281.4 428.9 277.9 435.4 276.7 437.0 273.5 437.2 269.8 439.6 268.5 439.4 263.6 434.1 260.3 431.4 259.0 428.9 257.0 423.7 256.1 419.9 255.4 410.8 255.7 403.0 255.0 395.3 256.0 390.5 258.5 386.3 258.9 384.9 259.3 378.4 260.3 375.4 261.6 374.5 263.5 374.9 264.7 374.3 267.9 371.6 270.4 367.6 271.0 367.6 271.6 368.2 274.8 371.6 277.3 376.1 279.2 377.3 281.7 380.2 284.2 380.9 284.8 381.6 286.5 390.1 286.1 399.1 286.9 403.0ZM285.1 404.3 285.4 406.9 285.1 409.5 283.6 414.7 282.2 421.2 279.8 426.9 276.7 431.5 275.4 432.6 272.3 434.2 270.4 434.8 268.5 434.7 266.6 434.0 261.0 428.7 258.2 418.6 257.3 409.5 258.3 400.4 257.8 394.0 258.6 391.4 263.3 382.3 271.0 372.9 272.3 373.2 273.5 374.3 276.0 378.6 279.8 382.5 282.3 386.8 284.0 388.8 284.5 391.4 284.2 399.1 285.1 404.3ZM283.6 404.3 284.0 406.9 283.6 409.5 282.3 413.4 280.6 421.2 279.8 423.1 275.4 428.9 272.9 431.1 271.0 431.9 267.9 432.0 266.6 431.6 262.5 427.6 261.6 426.1 259.4 413.4 259.3 406.9 260.8 399.1 260.9 394.0 261.6 391.4 264.7 389.0 267.5 381.0 270.4 377.6 271.6 376.8 272.3 376.9 273.5 378.0 279.8 386.2 282.2 394.0 283.6 404.3ZM282.4 405.6 282.1 409.5 279.5 419.9 278.1 422.5 275.4 425.9 272.3 428.9 271.0 429.3 267.9 429.5 266.6 429.2 263.5 426.1 262.3 423.7 260.7 412.1 260.7 408.2 264.1 395.3 267.2 388.8 268.3 383.6 269.1 382.1 271.0 380.4 272.3 380.2 272.9 380.6 277.0 384.9 278.6 387.5 281.1 395.8 282.4 405.6ZM280.5 400.4 281.0 405.6 280.8 408.2 278.3 418.6 277.3 421.0 275.4 423.4 271.6 426.4 270.4 426.7 266.6 426.4 264.1 424.3 263.3 422.5 262.1 413.4 262.1 409.5 265.7 395.3 268.4 390.1 269.7 384.9 271.0 383.3 271.6 383.2 272.9 383.6 276.0 386.2 276.9 387.5 279.8 396.4 280.5 400.4ZM279.2 400.4 279.4 406.9 277.5 417.3 276.4 419.9 274.8 421.6 271.0 424.0 269.1 424.0 266.0 423.1 264.7 421.7 264.1 419.5 263.5 412.1 264.0 406.9 266.6 396.6 269.1 392.1 271.0 387.5 271.6 387.0 272.7 387.5 273.8 388.8 274.1 392.7 274.6 394.0 275.4 395.1 277.9 396.6 279.2 400.4ZM277.6 401.7 277.8 406.9 277.2 413.4 276.2 417.3 274.8 419.1 271.0 421.7 269.1 421.8 267.3 420.6 265.9 418.6 264.8 409.5 265.3 405.6 266.0 403.3 267.9 397.8 270.4 393.8 271.0 393.3 271.6 393.4 274.8 398.0 277.1 400.4 277.6 401.7ZM276.1 409.5 276.0 413.4 275.1 416.0 271.0 419.6 270.4 419.9 269.1 419.7 267.9 418.4 266.9 416.0 266.0 411.4 265.9 408.2 266.6 405.0 268.9 401.7 271.0 397.7 271.6 397.5 272.9 398.4 275.0 401.7 275.7 404.3 276.1 409.5ZM274.2 409.5 273.8 413.4 271.2 417.3 269.8 417.8 268.5 416.5 267.8 414.7 267.0 410.8 266.9 408.2 267.9 405.6 271.6 401.7 272.3 401.6 272.9 402.0 273.5 403.1 274.0 405.6 274.2 409.5ZM271.9 406.9 272.1 409.5 271.6 412.5 270.7 414.7 269.8 414.9 268.5 411.7 268.5 408.2 269.3 406.9 270.4 406.2 271.0 406.0 271.9 406.9Z" stroke="#5C80D8" stroke-width="0.68" fill="none" stroke-linejoin="round"/>
<line x1="223.66" x2="309.66" y1="404.5" y2="404.5" stroke="#000" stroke-width="0.6" stroke-dasharray="1.3 1.7"/>
<line x1="271.60" x2="271.60" y1="341.5" y2="468.2" stroke="#000" stroke-width="0.6" stroke-dasharray="1.3 1.7"/>
<line x1="227.5" y1="411" x2="305.8" y2="400.2" stroke="#222" stroke-width="1.3"/>
<text x="227.66" y="352.60" font-size="4.7" fill="#111"><tspan font-style="italic">R</tspan> = 0.083, <tspan font-style="italic">p</tspan> = 2.1e-08</text>
<rect x="223.66" y="341.5" width="86.00" height="126.70" fill="none" stroke="#3A3A3A" stroke-width="0.85"/>
<text x="266.66" y="336.9" font-size="7.0" text-anchor="middle" fill="#0A0A0A">Very Heavy Drinkers</text>
<line x1="227.80" x2="227.80" y1="468.2" y2="470.8" stroke="#333" stroke-width="0.7"/>
<text x="227.80" y="478.9" font-size="7.9" text-anchor="middle" fill="#4D4D4D">-5.0</text>
<line x1="249.70" x2="249.70" y1="468.2" y2="470.8" stroke="#333" stroke-width="0.7"/>
<text x="249.70" y="478.9" font-size="7.9" text-anchor="middle" fill="#4D4D4D">-2.5</text>
<line x1="271.60" x2="271.60" y1="468.2" y2="470.8" stroke="#333" stroke-width="0.7"/>
<text x="271.60" y="478.9" font-size="7.9" text-anchor="middle" fill="#4D4D4D">0.0</text>
<line x1="293.50" x2="293.50" y1="468.2" y2="470.8" stroke="#333" stroke-width="0.7"/>
<text x="293.50" y="478.9" font-size="7.9" text-anchor="middle" fill="#4D4D4D">2.5</text>
<path d="M314.29 451.11H400.29M314.29 420.04H400.29M314.29 388.96H400.29M314.29 357.89H400.29M327.95 341.5V468.2M349.85 341.5V468.2M371.75 341.5V468.2M393.65 341.5V468.2" stroke="#F3F3F3" stroke-width="0.45" fill="none"/>
<path d="M314.29 466.65H400.29M314.29 435.57H400.29M314.29 404.50H400.29M314.29 373.43H400.29M314.29 342.35H400.29M317.00 341.5V468.2M338.90 341.5V468.2M360.80 341.5V468.2M382.70 341.5V468.2" stroke="#EBEBEB" stroke-width="0.7" fill="none"/>
<ellipse cx="360.0" cy="403.6" rx="26.0" ry="49.3" fill="url(#cloud)" opacity="0.55"/>
<path transform="scale(0.5)" d="M717 690h0m17 5h0m-12 5h0m28 1h0m-31 1h0m9 6h0m-21 1h0m-3 2h0m40 2h0m-43 1h0m-13 1h0m25 1h0m6 1h0m-23 1h0m9 0h0m-3 1h0m10 0h0m6 0h0m-8 1h0m6 1h0m5 0h0m4 0h0m-31 1h0m25 0h0m13 0h0m42 0h0m-69 1h0m6 0h0m14 0h0m11 0h0m-62 1h0m48 0h0m1 0h0m26 0h0m-65 1h0m65 0h0m-52 1h0m20 0h0m24 0h0m-68 1h0m59 0h0m-15 1h0m-14 1h0m6 0h0m10 0h0m43 1h0m-44 1h0m-36 1h0m36 0h0m14 0h0m-15 1h0m6 1h0m-47 2h0m5 0h0m44 1h0m1 0h0m3 0h0m9 0h0m-24 2h0m8 0h0m1 0h0m-36 1h0m27 0h0m20 1h0m-9 1h0m15 0h0m-45 1h0m14 0h0m15 0h0m8 0h0m6 0h0m-16 1h0m23 0h0m-35 1h0m2 0h0m7 0h0m4 0h0m11 0h0m2 0h0m-43 1h0m9 0h0m16 0h0m19 0h0m3 0h0m-74 1h0m36 0h0m2 0h0m4 0h0m3 0h0m10 0h0m3 0h0m8 0h0m2 0h0m8 0h0m8 0h0m11 0h0m6 0h0m-73 1h0m17 0h0m38 0h0m-64 1h0m21 0h0m14 0h0m12 0h0m2 0h0m3 0h0m-33 1h0m6 0h0m0 0h0m2 0h0m5 0h0m3 0h0m8 0h0m6 0h0m6 0h0m11 0h0m-51 1h0m6 0h0m5 0h0m8 0h0m21 0h0m21 0h0m-73 1h0m6 0h0m15 0h0m8 0h0m20 0h0m-62 1h0m26 0h0m11 0h0m40 0h0m-65 1h0m33 0h0m7 0h0m2 0h0m26 0h0m-93 1h0m31 0h0m25 0h0m8 0h0m0 0h0m14 0h0m-49 1h0m11 0h0m23 0h0m18 0h0m13 0h0m-67 1h0m10 0h0m12 0h0m3 0h0m6 0h0m26 0h0m-56 1h0m38 0h0m4 0h0m2 0h0m8 0h0m-43 1h0m8 0h0m11 0h0m2 0h0m4 0h0m6 0h0m1 0h0m6 0h0m17 0h0m-61 1h0m6 0h0m6 0h0m7 0h0m1 0h0m0 0h0m8 0h0m18 0h0m3 0h0m3 0h0m3 0h0m1 0h0m-56 1h0m25 0h0m2 0h0m0 0h0m17 0h0m14 0h0m10 0h0m-44 1h0m15 0h0m0 0h0m14 0h0m5 0h0m2 0h0m7 0h0m-54 1h0m4 0h0m8 0h0m9 0h0m28 0h0m7 0h0m-75 1h0m22 0h0m1 0h0m0 0h0m5 0h0m3 0h0m5 0h0m1 0h0m2 0h0m2 0h0m4 0h0m5 0h0m0 0h0m1 0h0m-64 1h0m12 0h0m0 0h0m24 0h0m9 0h0m20 0h0m2 0h0m20 0h0m11 0h0m-80 1h0m6 0h0m3 0h0m9 0h0m5 0h0m2 0h0m1 0h0m3 0h0m3 0h0m17 0h0m1 0h0m12 0h0m-72 1h0m15 0h0m11 0h0m3 0h0m11 0h0m6 0h0m9 0h0m18 0h0m-49 1h0m4 0h0m15 0h0m7 0h0m0 0h0m3 0h0m1 0h0m-43 1h0m14 0h0m2 0h0m9 0h0m6 0h0m1 0h0m1 0h0m0 0h0m2 0h0m9 0h0m9 0h0m4 0h0m-86 1h0m27 0h0m10 0h0m5 0h0m11 0h0m1 0h0m6 0h0m2 0h0m1 0h0m13 0h0m14 0h0m-57 1h0m7 0h0m4 0h0m11 0h0m2 0h0m1 0h0m1 0h0m4 0h0m3 0h0m15 0h0m17 0h0m-78 1h0m8 0h0m7 0h0m7 0h0m4 0h0m2 0h0m3 0h0m9 0h0m5 0h0m4 0h0m3 0h0m2 0h0m1 0h0m4 0h0m15 0h0m-59 1h0m7 0h0m7 0h0m2 0h0m11 0h0m4 0h0m39 0h0m-72 1h0m0 0h0m8 0h0m3 0h0m0 0h0m3 0h0m4 0h0m7 0h0m16 0h0m10 0h0m1 0h0m4 0h0m6 0h0m-69 1h0m13 0h0m19 0h0m12 0h0m3 0h0m1 0h0m4 0h0m2 0h0m1 0h0m-67 1h0m3 0h0m11 0h0m6 0h0m14 0h0m2 0h0m3 0h0m5 0h0m15 0h0m4 0h0m3 0h0m4 0h0m12 0h0m-75 1h0m6 0h0m1 0h0m6 0h0m6 0h0m7 0h0m1 0h0m20 0h0m12 0h0m14 0h0m-78 1h0m16 0h0m7 0h0m3 0h0m3 0h0m1 0h0m1 0h0m2 0h0m5 0h0m3 0h0m4 0h0m3 0h0m25 0h0m4 0h0m-66 1h0m8 0h0m5 0h0m7 0h0m2 0h0m1 0h0m4 0h0m2 0h0m2 0h0m1 0h0m2 0h0m2 0h0m7 0h0m6 0h0m4 0h0m1 0h0m11 0h0m-70 1h0m7 0h0m2 0h0m8 0h0m3 0h0m14 0h0m1 0h0m2 0h0m2 0h0m3 0h0m7 0h0m13 0h0m4 0h0m-77 1h0m3 0h0m19 0h0m4 0h0m4 0h0m3 0h0m5 0h0m2 0h0m2 0h0m2 0h0m1 0h0m5 0h0m3 0h0m2 0h0m0 0h0m4 0h0m-47 1h0m12 0h0m6 0h0m5 0h0m0 0h0m1 0h0m0 0h0m4 0h0m4 0h0m3 0h0m0 0h0m2 0h0m37 0h0m-74 1h0m10 0h0m11 0h0m13 0h0m3 0h0m1 0h0m5 0h0m5 0h0m2 0h0m-44 1h0m2 0h0m8 0h0m5 0h0m13 0h0m0 0h0m5 0h0m1 0h0m2 0h0m2 0h0m3 0h0m10 0h0m0 0h0m15 0h0m-71 1h0m16 0h0m1 0h0m2 0h0m3 0h0m1 0h0m8 0h0m5 0h0m1 0h0m2 0h0m1 0h0m1 0h0m2 0h0m3 0h0m0 0h0m10 0h0m1 0h0m-61 1h0m9 0h0m3 0h0m4 0h0m1 0h0m7 0h0m1 0h0m3 0h0m1 0h0m4 0h0m7 0h0m4 0h0m0 0h0m-39 1h0m8 0h0m4 0h0m4 0h0m7 0h0m0 0h0m3 0h0m0 0h0m2 0h0m1 0h0m11 0h0m6 0h0m5 0h0m8 0h0m5 0h0m-76 1h0m15 0h0m7 0h0m2 0h0m4 0h0m3 0h0m1 0h0m7 0h0m7 0h0m3 0h0m0 0h0m2 0h0m2 0h0m8 0h0m1 0h0m13 0h0m7 0h0m-56 1h0m6 0h0m1 0h0m1 0h0m1 0h0m2 0h0m3 0h0m0 0h0m20 0h0m6 0h0m15 0h0m-66 1h0m5 0h0m3 0h0m1 0h0m15 0h0m0 0h0m1 0h0m4 0h0m1 0h0m1 0h0m3 0h0m0 0h0m3 0h0m4 0h0m6 0h0m1 0h0m1 0h0m1 0h0m9 0h0m4 0h0m7 0h0m-72 1h0m4 0h0m1 0h0m11 0h0m0 0h0m7 0h0m0 0h0m4 0h0m3 0h0m1 0h0m1 0h0m12 0h0m3 0h0m0 0h0m7 0h0m-55 1h0m0 0h0m10 0h0m1 0h0m1 0h0m2 0h0m0 0h0m7 0h0m2 0h0m4 0h0m2 0h0m0 0h0m1 0h0m4 0h0m5 0h0m2 0h0m2 0h0m11 0h0m1 0h0m1 0h0m11 0h0m1 0h0m15 0h0m-75 1h0m6 0h0m1 0h0m4 0h0m3 0h0m0 0h0m1 0h0m15 0h0m3 0h0m7 0h0m7 0h0m16 0h0m0 0h0m2 0h0m1 0h0m7 0h0m-88 1h0m3 0h0m18 0h0m2 0h0m7 0h0m1 0h0m7 0h0m1 0h0m1 0h0m3 0h0m0 0h0m5 0h0m3 0h0m8 0h0m4 0h0m15 0h0m-77 1h0m9 0h0m6 0h0m2 0h0m1 0h0m1 0h0m9 0h0m3 0h0m3 0h0m3 0h0m0 0h0m1 0h0m8 0h0m4 0h0m3 0h0m2 0h0m0 0h0m1 0h0m2 0h0m-46 1h0m7 0h0m0 0h0m1 0h0m11 0h0m1 0h0m1 0h0m0 0h0m3 0h0m4 0h0m1 0h0m0 0h0m1 0h0m4 0h0m3 0h0m1 0h0m10 0h0m9 0h0m-77 1h0m2 0h0m12 0h0m4 0h0m0 0h0m0 0h0m1 0h0m9 0h0m1 0h0m1 0h0m3 0h0m5 0h0m1 0h0m2 0h0m0 0h0m4 0h0m2 0h0m7 0h0m0 0h0m2 0h0m1 0h0m1 0h0m1 0h0m0 0h0m1 0h0m2 0h0m13 0h0m3 0h0m2 0h0m1 0h0m3 0h0m4 0h0m-80 1h0m11 0h0m4 0h0m0 0h0m5 0h0m0 0h0m2 0h0m6 0h0m2 0h0m1 0h0m0 0h0m2 0h0m1 0h0m4 0h0m0 0h0m0 0h0m1 0h0m3 0h0m1 0h0m2 0h0m0 0h0m4 0h0m0 0h0m2 0h0m12 0h0m8 0h0m1 0h0m1 0h0m12 0h0m-90 1h0m12 0h0m5 0h0m0 0h0m1 0h0m5 0h0m3 0h0m6 0h0m1 0h0m2 0h0m0 0h0m8 0h0m2 0h0m2 0h0m1 0h0m2 0h0m0 0h0m2 0h0m0 0h0m1 0h0m0 0h0m1 0h0m3 0h0m0 0h0m11 0h0m1 0h0m3 0h0m-67 1h0m18 0h0m3 0h0m13 0h0m1 0h0m2 0h0m0 0h0m1 0h0m7 0h0m6 0h0m0 0h0m1 0h0m4 0h0m10 0h0m1 0h0m8 0h0m-81 1h0m12 0h0m1 0h0m2 0h0m3 0h0m9 0h0m1 0h0m0 0h0m3 0h0m3 0h0m1 0h0m4 0h0m1 0h0m0 0h0m1 0h0m1 0h0m2 0h0m0 0h0m1 0h0m1 0h0m2 0h0m4 0h0m3 0h0m7 0h0m4 0h0m6 0h0m0 0h0m3 0h0m3 0h0m-78 1h0m21 0h0m1 0h0m5 0h0m4 0h0m1 0h0m0 0h0m1 0h0m2 0h0m1 0h0m6 0h0m0 0h0m4 0h0m0 0h0m1 0h0m0 0h0m0 0h0m1 0h0m1 0h0m5 0h0m1 0h0m1 0h0m1 0h0m0 0h0m2 0h0m0 0h0m4 0h0m12 0h0m6 0h0m-59 1h0m3 0h0m11 0h0m2 0h0m3 0h0m3 0h0m2 0h0m2 0h0m4 0h0m6 0h0m10 0h0m9 0h0m-66 1h0m7 0h0m13 0h0m3 0h0m5 0h0m1 0h0m2 0h0m3 0h0m0 0h0m14 0h0m1 0h0m11 0h0m9 0h0m-78 1h0m13 0h0m0 0h0m3 0h0m6 0h0m3 0h0m1 0h0m1 0h0m1 0h0m1 0h0m3 0h0m0 0h0m6 0h0m1 0h0m0 0h0m1 0h0m0 0h0m1 0h0m4 0h0m4 0h0m5 0h0m1 0h0m1 0h0m1 0h0m14 0h0m-97 1h0m28 0h0m18 0h0m16 0h0m1 0h0m0 0h0m2 0h0m0 0h0m2 0h0m2 0h0m4 0h0m1 0h0m0 0h0m1 0h0m2 0h0m1 0h0m1 0h0m0 0h0m0 0h0m3 0h0m4 0h0m1 0h0m4 0h0m6 0h0m5 0h0m-72 1h0m5 0h0m3 0h0m5 0h0m2 0h0m0 0h0m4 0h0m1 0h0m3 0h0m5 0h0m4 0h0m4 0h0m4 0h0m4 0h0m1 0h0m2 0h0m5 0h0m-62 1h0m6 0h0m17 0h0m11 0h0m2 0h0m6 0h0m1 0h0m0 0h0m2 0h0m12 0h0m3 0h0m7 0h0m3 0h0m2 0h0m0 0h0m-48 1h0m0 0h0m7 0h0m3 0h0m0 0h0m1 0h0m4 0h0m2 0h0m1 0h0m1 0h0m1 0h0m1 0h0m0 0h0m0 0h0m1 0h0m1 0h0m6 0h0m1 0h0m2 0h0m0 0h0m2 0h0m3 0h0m5 0h0m1 0h0m14 0h0m-81 1h0m12 0h0m1 0h0m12 0h0m1 0h0m7 0h0m4 0h0m0 0h0m5 0h0m7 0h0m2 0h0m2 0h0m7 0h0m23 0h0m-60 1h0m3 0h0m11 0h0m0 0h0m1 0h0m3 0h0m4 0h0m1 0h0m3 0h0m15 0h0m0 0h0m5 0h0m0 0h0m3 0h0m1 0h0m4 0h0m-63 1h0m6 0h0m3 0h0m2 0h0m10 0h0m2 0h0m7 0h0m8 0h0m1 0h0m1 0h0m2 0h0m5 0h0m6 0h0m-49 1h0m2 0h0m3 0h0m3 0h0m1 0h0m2 0h0m1 0h0m2 0h0m6 0h0m1 0h0m1 0h0m1 0h0m0 0h0m1 0h0m4 0h0m1 0h0m0 0h0m3 0h0m1 0h0m1 0h0m6 0h0m4 0h0m3 0h0m1 0h0m3 0h0m5 0h0m0 0h0m9 0h0m-50 1h0m3 0h0m2 0h0m0 0h0m0 0h0m6 0h0m1 0h0m2 0h0m1 0h0m1 0h0m2 0h0m7 0h0m1 0h0m2 0h0m4 0h0m10 0h0m3 0h0m13 0h0m-86 1h0m16 0h0m0 0h0m3 0h0m5 0h0m3 0h0m1 0h0m1 0h0m2 0h0m0 0h0m8 0h0m3 0h0m0 0h0m1 0h0m2 0h0m1 0h0m2 0h0m1 0h0m0 0h0m3 0h0m8 0h0m1 0h0m1 0h0m4 0h0m2 0h0m5 0h0m18 0h0m-97 1h0m24 0h0m5 0h0m7 0h0m0 0h0m1 0h0m0 0h0m1 0h0m0 0h0m2 0h0m2 0h0m1 0h0m3 0h0m0 0h0m0 0h0m2 0h0m3 0h0m4 0h0m1 0h0m2 0h0m0 0h0m0 0h0m8 0h0m1 0h0m2 0h0m4 0h0m2 0h0m-47 1h0m6 0h0m2 0h0m5 0h0m1 0h0m0 0h0m1 0h0m1 0h0m2 0h0m3 0h0m0 0h0m1 0h0m3 0h0m2 0h0m0 0h0m3 0h0m0 0h0m1 0h0m1 0h0m0 0h0m1 0h0m3 0h0m1 0h0m3 0h0m0 0h0m6 0h0m5 0h0m0 0h0m7 0h0m-57 1h0m2 0h0m1 0h0m0 0h0m1 0h0m1 0h0m0 0h0m4 0h0m1 0h0m0 0h0m1 0h0m1 0h0m5 0h0m0 0h0m2 0h0m1 0h0m3 0h0m1 0h0m1 0h0m0 0h0m4 0h0m11 0h0m4 0h0m1 0h0m2 0h0m4 0h0m-74 1h0m20 0h0m2 0h0m0 0h0m1 0h0m4 0h0m6 0h0m0 0h0m2 0h0m2 0h0m4 0h0m2 0h0m2 0h0m2 0h0m6 0h0m1 0h0m0 0h0m2 0h0m1 0h0m2 0h0m9 0h0m-49 1h0m1 0h0m0 0h0m1 0h0m7 0h0m4 0h0m0 0h0m1 0h0m2 0h0m1 0h0m2 0h0m0 0h0m2 0h0m2 0h0m5 0h0m2 0h0m2 0h0m2 0h0m3 0h0m0 0h0m1 0h0m2 0h0m5 0h0m1 0h0m0 0h0m3 0h0m9 0h0m-77 1h0m4 0h0m0 0h0m8 0h0m0 0h0m14 0h0m3 0h0m4 0h0m1 0h0m2 0h0m4 0h0m1 0h0m1 0h0m1 0h0m3 0h0m1 0h0m0 0h0m1 0h0m2 0h0m7 0h0m2 0h0m1 0h0m6 0h0m20 0h0m7 0h0m-77 1h0m4 0h0m2 0h0m4 0h0m2 0h0m5 0h0m1 0h0m0 0h0m1 0h0m6 0h0m4 0h0m0 0h0m2 0h0m4 0h0m1 0h0m3 0h0m3 0h0m2 0h0m2 0h0m5 0h0m1 0h0m1 0h0m-57 1h0m5 0h0m9 0h0m2 0h0m1 0h0m5 0h0m5 0h0m1 0h0m1 0h0m2 0h0m1 0h0m0 0h0m1 0h0m2 0h0m3 0h0m0 0h0m4 0h0m4 0h0m2 0h0m2 0h0m25 0h0m-84 1h0m3 0h0m6 0h0m3 0h0m7 0h0m3 0h0m2 0h0m2 0h0m2 0h0m3 0h0m0 0h0m2 0h0m7 0h0m2 0h0m3 0h0m1 0h0m4 0h0m2 0h0m0 0h0m5 0h0m3 0h0m2 0h0m10 0h0m-92 1h0m17 0h0m15 0h0m6 0h0m2 0h0m0 0h0m2 0h0m10 0h0m1 0h0m1 0h0m2 0h0m2 0h0m2 0h0m1 0h0m0 0h0m7 0h0m3 0h0m4 0h0m7 0h0m31 0h0m-87 1h0m5 0h0m8 0h0m5 0h0m2 0h0m4 0h0m4 0h0m1 0h0m0 0h0m2 0h0m0 0h0m8 0h0m11 0h0m2 0h0m1 0h0m6 0h0m0 0h0m1 0h0m-50 1h0m4 0h0m6 0h0m1 0h0m6 0h0m0 0h0m3 0h0m4 0h0m5 0h0m2 0h0m1 0h0m1 0h0m1 0h0m2 0h0m1 0h0m9 0h0m2 0h0m0 0h0m1 0h0m8 0h0m4 0h0m-74 1h0m1 0h0m5 0h0m3 0h0m5 0h0m1 0h0m10 0h0m1 0h0m5 0h0m0 0h0m6 0h0m5 0h0m3 0h0m0 0h0m1 0h0m0 0h0m4 0h0m0 0h0m6 0h0m7 0h0m-54 1h0m0 0h0m3 0h0m2 0h0m8 0h0m0 0h0m1 0h0m1 0h0m6 0h0m0 0h0m2 0h0m1 0h0m0 0h0m2 0h0m2 0h0m1 0h0m2 0h0m4 0h0m2 0h0m1 0h0m1 0h0m1 0h0m7 0h0m2 0h0m1 0h0m0 0h0m11 0h0m-75 1h0m21 0h0m9 0h0m3 0h0m6 0h0m2 0h0m1 0h0m2 0h0m2 0h0m9 0h0m4 0h0m2 0h0m6 0h0m1 0h0m5 0h0m-61 1h0m6 0h0m6 0h0m3 0h0m0 0h0m2 0h0m2 0h0m7 0h0m3 0h0m2 0h0m0 0h0m0 0h0m5 0h0m3 0h0m3 0h0m3 0h0m9 0h0m1 0h0m6 0h0m3 0h0m19 0h0m-86 1h0m1 0h0m8 0h0m0 0h0m5 0h0m1 0h0m3 0h0m2 0h0m3 0h0m2 0h0m4 0h0m3 0h0m3 0h0m0 0h0m2 0h0m0 0h0m1 0h0m4 0h0m2 0h0m1 0h0m1 0h0m2 0h0m-58 1h0m11 0h0m6 0h0m6 0h0m0 0h0m9 0h0m4 0h0m2 0h0m0 0h0m5 0h0m0 0h0m4 0h0m2 0h0m2 0h0m5 0h0m4 0h0m4 0h0m1 0h0m2 0h0m-73 1h0m15 0h0m1 0h0m8 0h0m0 0h0m0 0h0m2 0h0m8 0h0m1 0h0m6 0h0m0 0h0m1 0h0m2 0h0m1 0h0m5 0h0m1 0h0m4 0h0m2 0h0m4 0h0m7 0h0m22 0h0m-84 1h0m4 0h0m19 0h0m1 0h0m7 0h0m2 0h0m2 0h0m8 0h0m1 0h0m7 0h0m2 0h0m1 0h0m2 0h0m6 0h0m5 0h0m5 0h0m-75 1h0m13 0h0m2 0h0m5 0h0m11 0h0m3 0h0m6 0h0m5 0h0m1 0h0m1 0h0m3 0h0m2 0h0m5 0h0m7 0h0m1 0h0m0 0h0m-63 1h0m16 0h0m1 0h0m7 0h0m9 0h0m2 0h0m1 0h0m4 0h0m0 0h0m5 0h0m0 0h0m7 0h0m3 0h0m3 0h0m0 0h0m0 0h0m0 0h0m4 0h0m29 0h0m-72 1h0m1 0h0m3 0h0m10 0h0m5 0h0m4 0h0m3 0h0m1 0h0m0 0h0m1 0h0m0 0h0m5 0h0m0 0h0m8 0h0m1 0h0m3 0h0m2 0h0m-59 1h0m7 0h0m7 0h0m3 0h0m2 0h0m3 0h0m3 0h0m3 0h0m5 0h0m6 0h0m2 0h0m0 0h0m1 0h0m0 0h0m2 0h0m1 0h0m2 0h0m2 0h0m0 0h0m1 0h0m4 0h0m0 0h0m27 0h0m-89 1h0m8 0h0m14 0h0m10 0h0m1 0h0m3 0h0m4 0h0m2 0h0m1 0h0m3 0h0m1 0h0m1 0h0m3 0h0m2 0h0m2 0h0m8 0h0m1 0h0m0 0h0m6 0h0m0 0h0m3 0h0m3 0h0m5 0h0m-64 1h0m1 0h0m1 0h0m5 0h0m3 0h0m0 0h0m3 0h0m10 0h0m3 0h0m3 0h0m6 0h0m1 0h0m2 0h0m3 0h0m0 0h0m8 0h0m2 0h0m3 0h0m4 0h0m2 0h0m-66 1h0m2 0h0m8 0h0m2 0h0m8 0h0m2 0h0m3 0h0m4 0h0m2 0h0m0 0h0m5 0h0m4 0h0m1 0h0m11 0h0m1 0h0m2 0h0m0 0h0m15 0h0m-71 1h0m4 0h0m7 0h0m3 0h0m0 0h0m3 0h0m11 0h0m0 0h0m1 0h0m2 0h0m3 0h0m1 0h0m9 0h0m3 0h0m2 0h0m4 0h0m5 0h0m-68 1h0m18 0h0m1 0h0m8 0h0m8 0h0m0 0h0m1 0h0m2 0h0m7 0h0m1 0h0m0 0h0m1 0h0m9 0h0m2 0h0m2 0h0m0 0h0m2 0h0m-50 1h0m2 0h0m2 0h0m13 0h0m2 0h0m1 0h0m1 0h0m2 0h0m9 0h0m2 0h0m0 0h0m1 0h0m2 0h0m0 0h0m4 0h0m9 0h0m2 0h0m3 0h0m4 0h0m5 0h0m5 0h0m-76 1h0m10 0h0m9 0h0m3 0h0m3 0h0m7 0h0m7 0h0m1 0h0m3 0h0m3 0h0m3 0h0m3 0h0m3 0h0m2 0h0m2 0h0m8 0h0m3 0h0m-39 1h0m3 0h0m7 0h0m12 0h0m9 0h0m-49 1h0m5 0h0m2 0h0m16 0h0m3 0h0m1 0h0m8 0h0m4 0h0m1 0h0m1 0h0m0 0h0m8 0h0m11 0h0m-65 1h0m8 0h0m13 0h0m3 0h0m1 0h0m4 0h0m5 0h0m1 0h0m10 0h0m1 0h0m1 0h0m26 0h0m-58 1h0m3 0h0m3 0h0m3 0h0m10 0h0m5 0h0m5 0h0m4 0h0m2 0h0m-68 1h0m8 0h0m29 0h0m0 0h0m4 0h0m7 0h0m4 0h0m1 0h0m1 0h0m3 0h0m1 0h0m1 0h0m3 0h0m3 0h0m3 0h0m4 0h0m8 0h0m9 0h0m-48 1h0m11 0h0m9 0h0m0 0h0m-47 1h0m18 0h0m1 0h0m4 0h0m2 0h0m3 0h0m3 0h0m0 0h0m2 0h0m8 0h0m9 0h0m1 0h0m14 0h0m-59 1h0m5 0h0m8 0h0m14 0h0m2 0h0m1 0h0m4 0h0m0 0h0m1 0h0m14 0h0m-37 1h0m17 0h0m1 0h0m3 0h0m1 0h0m2 0h0m1 0h0m9 0h0m3 0h0m3 0h0m5 0h0m-63 1h0m8 0h0m26 0h0m7 0h0m3 0h0m3 0h0m5 0h0m3 0h0m6 0h0m-58 1h0m16 0h0m2 0h0m1 0h0m9 0h0m5 0h0m3 0h0m1 0h0m22 0h0m-41 1h0m10 0h0m2 0h0m2 0h0m7 0h0m4 0h0m7 0h0m2 0h0m2 0h0m10 0h0m-45 1h0m3 0h0m2 0h0m25 0h0m5 0h0m9 0h0m-44 1h0m5 0h0m15 0h0m2 0h0m2 0h0m1 0h0m1 0h0m0 0h0m5 0h0m9 0h0m5 0h0m12 0h0m-91 1h0m22 0h0m4 0h0m4 0h0m14 0h0m1 0h0m13 0h0m15 0h0m1 0h0m4 0h0m8 0h0m-58 1h0m3 0h0m2 0h0m2 0h0m6 0h0m1 0h0m5 0h0m1 0h0m2 0h0m4 0h0m15 0h0m-58 1h0m3 0h0m12 0h0m14 0h0m4 0h0m2 0h0m11 0h0m4 0h0m1 0h0m-38 1h0m3 0h0m20 0h0m3 0h0m4 0h0m3 0h0m7 0h0m-36 1h0m2 0h0m2 0h0m10 0h0m6 0h0m0 0h0m1 0h0m2 0h0m12 0h0m4 0h0m-59 1h0m4 0h0m19 0h0m0 0h0m9 0h0m2 0h0m0 0h0m12 0h0m9 0h0m4 0h0m-39 1h0m7 0h0m15 0h0m2 0h0m5 0h0m-27 1h0m0 0h0m8 0h0m10 0h0m8 0h0m1 0h0m12 0h0m3 0h0m6 0h0m-53 1h0m12 0h0m10 0h0m27 0h0m-61 1h0m26 0h0m0 0h0m13 0h0m3 0h0m-32 1h0m25 0h0m2 0h0m10 0h0m5 0h0m0 0h0m24 0h0m-56 1h0m1 0h0m17 0h0m15 0h0m4 0h0m30 0h0m-57 1h0m4 0h0m7 0h0m14 0h0m-39 1h0m8 0h0m-12 1h0m15 0h0m9 0h0m-17 1h0m11 0h0m1 0h0m0 0h0m14 0h0m9 0h0m-39 1h0m10 0h0m11 0h0m2 0h0m14 0h0m-25 1h0m1 0h0m-22 1h0m21 0h0m-9 1h0m17 0h0m-16 1h0m6 0h0m1 0h0m-11 1h0m5 0h0m4 0h0m28 0h0m2 0h0m-44 1h0m20 0h0m7 0h0m24 0h0m-39 1h0m3 1h0m7 0h0m5 0h0m-12 1h0m20 0h0m26 1h0m-21 2h0m8 0h0m-34 1h0m-4 2h0m8 0h0m18 0h0m-29 3h0m25 0h0m-22 1h0m33 3h0m-19 4h0m-18 3h0m7 2h0" stroke="#999999" stroke-opacity="0.35" stroke-width="1.1" stroke-linecap="square" fill="none"/>
<path d="M381.7 397.2 381.4 400.8 378.8 412.7 378.1 422.3 375.7 431.8 372.1 438.1 370.2 440.8 368.3 442.0 363.2 441.9 356.2 444.4 353.7 444.7 352.4 444.5 351.2 443.4 349.4 440.2 346.3 430.6 345.4 429.5 343.5 428.2 342.7 427.0 340.3 417.5 340.0 410.3 340.2 405.6 338.6 402.0 338.3 399.6 338.6 398.4 340.4 396.1 340.8 394.8 340.6 388.9 342.4 382.9 343.4 378.1 344.2 376.2 347.4 373.1 351.2 371.2 358.8 362.7 359.4 362.5 360.7 362.9 362.6 364.6 365.1 368.0 365.7 368.3 368.9 368.2 370.8 369.4 375.3 374.3 378.4 378.6 379.4 380.5 380.0 382.9 380.2 390.0 381.7 397.2ZM378.7 398.4 378.4 402.0 375.4 416.3 373.4 428.2 372.1 431.9 370.2 434.0 367.0 434.8 363.2 436.9 358.1 438.9 356.5 439.0 354.3 437.3 351.8 437.0 351.2 436.4 350.1 434.2 348.6 426.8 344.8 421.0 343.2 415.1 343.2 411.5 344.1 404.4 344.3 392.4 345.4 388.5 347.2 385.3 355.6 374.7 359.4 374.1 363.2 376.7 366.4 376.1 370.8 380.1 373.7 384.1 374.4 386.5 374.6 392.6 375.3 393.9 377.8 396.2 378.7 398.4ZM375.9 400.8 375.1 409.1 373.2 419.9 370.8 427.5 369.8 429.4 368.3 430.7 363.8 433.0 359.4 434.1 357.5 433.6 355.0 430.7 352.4 430.5 351.8 429.6 349.9 424.7 346.3 418.7 345.5 416.3 345.1 412.7 346.3 396.0 347.0 393.6 351.8 384.0 355.0 380.7 358.8 378.8 360.0 379.0 366.4 382.4 369.5 382.9 370.9 384.1 372.1 386.5 372.7 394.8 375.3 398.4 375.9 400.8ZM373.5 403.2 373.7 409.1 372.4 417.5 370.8 422.6 368.3 427.4 363.8 430.1 361.3 430.4 359.4 429.6 356.8 427.0 353.1 425.4 349.1 419.9 347.8 417.5 347.0 413.9 346.9 410.3 347.4 403.8 348.5 397.2 352.1 387.7 353.7 385.0 356.2 383.0 359.4 382.1 362.6 383.2 366.4 386.1 368.3 386.0 369.5 386.5 370.3 388.9 370.3 393.6 370.8 397.3 371.4 399.5 373.2 402.0 373.5 403.2ZM372.2 407.9 372.1 412.7 370.9 418.7 368.9 423.3 367.0 425.5 363.2 427.7 361.9 427.8 360.7 427.1 358.1 424.7 355.0 423.5 353.1 421.8 350.2 417.5 349.3 415.3 348.6 412.2 348.5 409.1 348.9 406.8 350.2 403.2 351.0 396.0 353.6 388.9 355.3 386.5 358.1 385.4 361.9 386.2 363.2 386.9 366.3 390.0 368.1 393.6 369.8 402.0 372.2 407.9ZM370.4 407.9 370.7 411.5 369.3 418.7 368.3 421.1 366.4 423.2 363.2 425.1 361.9 425.3 358.1 422.4 355.0 421.1 353.7 419.8 351.4 415.1 350.8 410.3 354.1 393.6 355.0 390.9 356.2 389.2 357.5 388.8 359.4 389.3 363.8 391.6 365.1 393.0 367.4 397.2 368.9 404.4 370.4 407.9ZM368.3 409.1 367.9 416.3 367.4 418.7 366.4 420.4 363.2 422.5 361.3 422.6 358.1 420.4 355.6 419.3 353.8 417.5 352.8 415.1 352.3 412.7 352.4 407.9 355.6 395.2 356.9 392.7 358.1 392.2 360.0 392.7 363.8 395.3 365.5 397.2 366.6 399.6 368.3 409.1ZM366.4 409.1 366.6 412.7 366.2 416.3 365.1 418.3 362.6 420.2 360.7 420.1 355.6 417.1 354.3 415.7 353.4 412.7 353.4 407.9 355.5 402.0 356.9 396.3 358.1 394.7 359.4 394.5 361.3 395.5 364.6 399.6 365.4 402.0 366.4 409.1ZM365.2 410.3 365.1 412.7 364.5 414.9 361.9 417.7 361.3 417.9 360.0 417.5 356.2 415.1 355.0 413.9 354.2 411.5 354.4 407.9 356.5 403.2 357.6 398.4 358.8 396.6 359.4 396.4 360.7 396.9 362.0 398.4 364.3 405.6 365.2 410.3ZM363.5 407.9 363.5 411.5 362.6 413.7 361.3 415.0 360.7 415.2 359.4 414.7 356.4 412.7 355.6 411.5 355.4 410.3 355.7 407.9 357.5 404.4 358.7 399.6 359.4 398.7 360.0 398.7 360.9 399.6 363.5 407.9ZM362.0 409.1 361.3 411.5 360.7 412.1 359.4 411.9 357.9 410.3 357.7 409.1 357.9 407.9 359.4 405.3 360.0 405.0 360.7 405.6 362.0 409.1Z" stroke="#5C80D8" stroke-width="0.68" fill="none" stroke-linejoin="round"/>
<line x1="314.29" x2="400.29" y1="404.5" y2="404.5" stroke="#000" stroke-width="0.6" stroke-dasharray="1.3 1.7"/>
<line x1="360.80" x2="360.80" y1="341.5" y2="468.2" stroke="#000" stroke-width="0.6" stroke-dasharray="1.3 1.7"/>
<line x1="317.9" y1="404.6" x2="397" y2="404.6" stroke="#222" stroke-width="1.3"/>
<text x="318.29" y="352.60" font-size="4.7" fill="#111"><tspan font-style="italic">R</tspan> = −0.0033, <tspan font-style="italic">p</tspan> = 0.77</text>
<rect x="314.29" y="341.5" width="86.00" height="126.70" fill="none" stroke="#3A3A3A" stroke-width="0.85"/>
<text x="357.29" y="336.9" font-size="7.0" text-anchor="middle" fill="#0A0A0A">Heavy Drinkers</text>
<line x1="317.00" x2="317.00" y1="468.2" y2="470.8" stroke="#333" stroke-width="0.7"/>
<text x="317.00" y="478.9" font-size="7.9" text-anchor="middle" fill="#4D4D4D">-5.0</text>
<line x1="338.90" x2="338.90" y1="468.2" y2="470.8" stroke="#333" stroke-width="0.7"/>
<text x="338.90" y="478.9" font-size="7.9" text-anchor="middle" fill="#4D4D4D">-2.5</text>
<line x1="360.80" x2="360.80" y1="468.2" y2="470.8" stroke="#333" stroke-width="0.7"/>
<text x="360.80" y="478.9" font-size="7.9" text-anchor="middle" fill="#4D4D4D">0.0</text>
<line x1="382.70" x2="382.70" y1="468.2" y2="470.8" stroke="#333" stroke-width="0.7"/>
<text x="382.70" y="478.9" font-size="7.9" text-anchor="middle" fill="#4D4D4D">2.5</text>
<path d="M404.92 451.11H490.92M404.92 420.04H490.92M404.92 388.96H490.92M404.92 357.89H490.92M421.31 341.5V468.2M440.31 341.5V468.2M459.30 341.5V468.2M478.29 341.5V468.2" stroke="#F3F3F3" stroke-width="0.45" fill="none"/>
<path d="M404.92 466.65H490.92M404.92 435.57H490.92M404.92 404.50H490.92M404.92 373.43H490.92M404.92 342.35H490.92M411.82 341.5V468.2M430.81 341.5V468.2M449.80 341.5V468.2M468.79 341.5V468.2M487.78 341.5V468.2" stroke="#EBEBEB" stroke-width="0.7" fill="none"/>
<ellipse cx="450.5" cy="403.5" rx="27.2" ry="45.0" fill="url(#cloud)"/>
<path transform="scale(0.5)" d="M885 689h0m38 12h0m-51 1h0m9 1h0m-5 4h0m-26 2h0m16 0h0m27 1h0m10 0h0m-19 1h0m-1 1h0m-19 3h0m26 0h0m23 0h0m-35 1h0m1 0h0m20 0h0m7 1h0m-62 1h0m41 0h0m16 0h0m-30 1h0m16 0h0m-2 1h0m8 0h0m-33 2h0m34 0h0m14 1h0m4 0h0m10 0h0m-48 1h0m32 0h0m4 0h0m-49 1h0m36 0h0m37 0h0m-78 1h0m42 0h0m-55 1h0m59 0h0m30 0h0m-32 2h0m31 0h0m-66 1h0m5 0h0m13 0h0m18 0h0m-30 1h0m14 0h0m23 0h0m5 0h0m-39 1h0m30 0h0m11 0h0m-45 1h0m32 0h0m0 0h0m13 0h0m-44 1h0m9 0h0m9 0h0m10 0h0m2 0h0m-51 1h0m28 0h0m21 0h0m8 0h0m0 0h0m2 0h0m8 0h0m-42 1h0m13 0h0m3 0h0m2 0h0m6 0h0m4 0h0m3 0h0m4 0h0m0 0h0m-52 1h0m23 0h0m10 0h0m10 0h0m8 0h0m19 0h0m15 0h0m-73 1h0m6 0h0m1 0h0m3 0h0m7 0h0m15 0h0m12 0h0m-74 1h0m28 0h0m11 0h0m19 0h0m10 0h0m-32 1h0m51 0h0m-50 1h0m9 0h0m12 0h0m1 0h0m4 0h0m18 0h0m1 0h0m-60 1h0m10 0h0m10 0h0m2 0h0m2 0h0m2 0h0m6 0h0m10 0h0m11 0h0m6 0h0m16 0h0m-82 1h0m4 0h0m57 0h0m-42 1h0m19 0h0m6 0h0m3 0h0m1 0h0m1 0h0m4 0h0m3 0h0m6 0h0m16 0h0m-62 1h0m3 0h0m14 0h0m7 0h0m6 0h0m3 0h0m3 0h0m0 0h0m14 0h0m13 0h0m6 0h0m-83 1h0m1 0h0m9 0h0m26 0h0m5 0h0m6 0h0m4 0h0m10 0h0m24 0h0m-72 1h0m12 0h0m8 0h0m13 0h0m-38 1h0m11 0h0m0 0h0m4 0h0m4 0h0m12 0h0m0 0h0m14 0h0m8 0h0m21 0h0m2 0h0m-70 1h0m6 0h0m0 0h0m2 0h0m9 0h0m10 0h0m6 0h0m-34 1h0m4 0h0m4 0h0m7 0h0m5 0h0m4 0h0m7 0h0m1 0h0m14 0h0m2 0h0m1 0h0m3 0h0m5 0h0m-75 1h0m16 0h0m3 0h0m1 0h0m5 0h0m4 0h0m0 0h0m5 0h0m13 0h0m6 0h0m6 0h0m8 0h0m5 0h0m15 0h0m-73 1h0m4 0h0m0 0h0m1 0h0m4 0h0m4 0h0m0 0h0m2 0h0m14 0h0m2 0h0m14 0h0m8 0h0m2 0h0m20 0h0m-72 1h0m7 0h0m7 0h0m1 0h0m19 0h0m17 0h0m1 0h0m4 0h0m1 0h0m-71 1h0m18 0h0m3 0h0m4 0h0m0 0h0m0 0h0m1 0h0m23 0h0m1 0h0m7 0h0m6 0h0m4 0h0m0 0h0m3 0h0m-68 1h0m16 0h0m13 0h0m4 0h0m0 0h0m4 0h0m3 0h0m1 0h0m4 0h0m2 0h0m3 0h0m9 0h0m3 0h0m10 0h0m6 0h0m-85 1h0m1 0h0m12 0h0m6 0h0m5 0h0m1 0h0m8 0h0m9 0h0m4 0h0m9 0h0m0 0h0m3 0h0m3 0h0m3 0h0m11 0h0m32 0h0m-103 1h0m23 0h0m1 0h0m1 0h0m1 0h0m4 0h0m4 0h0m2 0h0m0 0h0m4 0h0m1 0h0m2 0h0m2 0h0m1 0h0m3 0h0m2 0h0m12 0h0m4 0h0m2 0h0m5 0h0m19 0h0m-94 1h0m18 0h0m3 0h0m5 0h0m7 0h0m5 0h0m8 0h0m2 0h0m4 0h0m2 0h0m10 0h0m9 0h0m25 0h0m-97 1h0m11 0h0m1 0h0m12 0h0m6 0h0m3 0h0m3 0h0m3 0h0m1 0h0m7 0h0m1 0h0m0 0h0m5 0h0m13 0h0m1 0h0m2 0h0m-59 1h0m1 0h0m0 0h0m15 0h0m1 0h0m7 0h0m1 0h0m0 0h0m4 0h0m2 0h0m2 0h0m2 0h0m0 0h0m1 0h0m3 0h0m1 0h0m2 0h0m1 0h0m4 0h0m0 0h0m2 0h0m-45 1h0m7 0h0m2 0h0m0 0h0m8 0h0m16 0h0m1 0h0m3 0h0m2 0h0m0 0h0m5 0h0m1 0h0m7 0h0m2 0h0m3 0h0m5 0h0m8 0h0m8 0h0m-103 1h0m42 0h0m13 0h0m1 0h0m8 0h0m3 0h0m0 0h0m3 0h0m34 0h0m-94 1h0m12 0h0m26 0h0m0 0h0m1 0h0m7 0h0m4 0h0m3 0h0m1 0h0m7 0h0m16 0h0m0 0h0m5 0h0m-74 1h0m11 0h0m7 0h0m4 0h0m6 0h0m9 0h0m6 0h0m4 0h0m10 0h0m4 0h0m1 0h0m21 0h0m-83 1h0m18 0h0m5 0h0m1 0h0m7 0h0m3 0h0m1 0h0m7 0h0m4 0h0m2 0h0m6 0h0m3 0h0m0 0h0m1 0h0m3 0h0m37 0h0m-92 1h0m8 0h0m0 0h0m10 0h0m2 0h0m1 0h0m2 0h0m5 0h0m0 0h0m2 0h0m4 0h0m2 0h0m2 0h0m15 0h0m-60 1h0m1 0h0m8 0h0m1 0h0m10 0h0m11 0h0m2 0h0m2 0h0m6 0h0m9 0h0m6 0h0m1 0h0m0 0h0m5 0h0m2 0h0m8 0h0m9 0h0m6 0h0m-89 1h0m9 0h0m0 0h0m2 0h0m0 0h0m1 0h0m9 0h0m5 0h0m6 0h0m2 0h0m0 0h0m3 0h0m3 0h0m0 0h0m6 0h0m1 0h0m8 0h0m10 0h0m5 0h0m-68 1h0m4 0h0m13 0h0m2 0h0m1 0h0m2 0h0m1 0h0m1 0h0m6 0h0m1 0h0m2 0h0m1 0h0m5 0h0m6 0h0m13 0h0m6 0h0m13 0h0m3 0h0m-84 1h0m4 0h0m7 0h0m6 0h0m0 0h0m6 0h0m7 0h0m2 0h0m1 0h0m0 0h0m3 0h0m1 0h0m2 0h0m4 0h0m7 0h0m4 0h0m6 0h0m2 0h0m0 0h0m6 0h0m16 0h0m-66 1h0m1 0h0m9 0h0m3 0h0m1 0h0m2 0h0m7 0h0m13 0h0m19 0h0m4 0h0m-67 1h0m3 0h0m8 0h0m8 0h0m11 0h0m2 0h0m2 0h0m1 0h0m1 0h0m11 0h0m0 0h0m1 0h0m4 0h0m2 0h0m7 0h0m7 0h0m3 0h0m-77 1h0m6 0h0m14 0h0m1 0h0m9 0h0m2 0h0m7 0h0m4 0h0m9 0h0m7 0h0m3 0h0m6 0h0m0 0h0m2 0h0m1 0h0m14 0h0m-93 1h0m8 0h0m2 0h0m1 0h0m0 0h0m12 0h0m3 0h0m1 0h0m0 0h0m6 0h0m7 0h0m3 0h0m4 0h0m1 0h0m0 0h0m2 0h0m1 0h0m5 0h0m1 0h0m1 0h0m3 0h0m1 0h0m3 0h0m6 0h0m1 0h0m1 0h0m2 0h0m8 0h0m1 0h0m-81 1h0m19 0h0m1 0h0m0 0h0m7 0h0m1 0h0m1 0h0m0 0h0m2 0h0m2 0h0m5 0h0m2 0h0m6 0h0m3 0h0m0 0h0m2 0h0m2 0h0m1 0h0m12 0h0m6 0h0m1 0h0m20 0h0m2 0h0m-83 1h0m2 0h0m1 0h0m0 0h0m5 0h0m2 0h0m2 0h0m2 0h0m4 0h0m2 0h0m1 0h0m6 0h0m6 0h0m2 0h0m1 0h0m2 0h0m20 0h0m3 0h0m1 0h0m19 0h0m-80 1h0m1 0h0m0 0h0m2 0h0m12 0h0m2 0h0m3 0h0m4 0h0m1 0h0m6 0h0m3 0h0m10 0h0m1 0h0m1 0h0m2 0h0m1 0h0m2 0h0m2 0h0m0 0h0m2 0h0m1 0h0m4 0h0m10 0h0m-81 1h0m11 0h0m6 0h0m3 0h0m1 0h0m0 0h0m5 0h0m4 0h0m0 0h0m0 0h0m2 0h0m2 0h0m1 0h0m5 0h0m3 0h0m0 0h0m3 0h0m2 0h0m0 0h0m2 0h0m2 0h0m0 0h0m5 0h0m8 0h0m3 0h0m19 0h0m16 0h0m-106 1h0m3 0h0m3 0h0m13 0h0m9 0h0m3 0h0m5 0h0m3 0h0m8 0h0m1 0h0m2 0h0m2 0h0m2 0h0m4 0h0m4 0h0m1 0h0m1 0h0m2 0h0m2 0h0m2 0h0m5 0h0m-61 1h0m7 0h0m6 0h0m1 0h0m2 0h0m1 0h0m6 0h0m3 0h0m3 0h0m3 0h0m2 0h0m7 0h0m1 0h0m2 0h0m2 0h0m4 0h0m0 0h0m0 0h0m5 0h0m1 0h0m1 0h0m1 0h0m10 0h0m-71 1h0m9 0h0m3 0h0m2 0h0m2 0h0m4 0h0m9 0h0m4 0h0m6 0h0m4 0h0m6 0h0m0 0h0m1 0h0m7 0h0m0 0h0m2 0h0m2 0h0m3 0h0m5 0h0m-64 1h0m1 0h0m11 0h0m4 0h0m4 0h0m7 0h0m4 0h0m1 0h0m0 0h0m13 0h0m2 0h0m5 0h0m1 0h0m12 0h0m11 0h0m1 0h0m-111 1h0m21 0h0m12 0h0m19 0h0m2 0h0m2 0h0m4 0h0m10 0h0m1 0h0m2 0h0m2 0h0m3 0h0m0 0h0m5 0h0m0 0h0m0 0h0m9 0h0m4 0h0m4 0h0m7 0h0m-82 1h0m12 0h0m3 0h0m0 0h0m7 0h0m2 0h0m3 0h0m1 0h0m0 0h0m1 0h0m2 0h0m1 0h0m8 0h0m0 0h0m1 0h0m2 0h0m0 0h0m0 0h0m1 0h0m0 0h0m2 0h0m2 0h0m4 0h0m6 0h0m5 0h0m16 0h0m-83 1h0m7 0h0m15 0h0m1 0h0m7 0h0m0 0h0m3 0h0m6 0h0m0 0h0m4 0h0m1 0h0m5 0h0m0 0h0m2 0h0m4 0h0m1 0h0m3 0h0m3 0h0m0 0h0m1 0h0m7 0h0m0 0h0m25 0h0m3 0h0m-90 1h0m3 0h0m0 0h0m1 0h0m2 0h0m4 0h0m2 0h0m0 0h0m2 0h0m2 0h0m1 0h0m3 0h0m7 0h0m3 0h0m4 0h0m5 0h0m3 0h0m0 0h0m2 0h0m3 0h0m0 0h0m6 0h0m4 0h0m4 0h0m-73 1h0m6 0h0m4 0h0m2 0h0m20 0h0m2 0h0m2 0h0m7 0h0m3 0h0m1 0h0m3 0h0m1 0h0m2 0h0m2 0h0m2 0h0m1 0h0m1 0h0m9 0h0m1 0h0m7 0h0m0 0h0m2 0h0m3 0h0m3 0h0m2 0h0m-88 1h0m9 0h0m4 0h0m6 0h0m6 0h0m2 0h0m7 0h0m2 0h0m1 0h0m0 0h0m3 0h0m1 0h0m1 0h0m2 0h0m7 0h0m0 0h0m5 0h0m8 0h0m6 0h0m13 0h0m2 0h0m4 0h0m1 0h0m-78 1h0m5 0h0m3 0h0m4 0h0m1 0h0m4 0h0m0 0h0m1 0h0m1 0h0m4 0h0m0 0h0m0 0h0m3 0h0m0 0h0m5 0h0m7 0h0m2 0h0m2 0h0m0 0h0m4 0h0m5 0h0m1 0h0m6 0h0m0 0h0m3 0h0m9 0h0m4 0h0m-80 1h0m3 0h0m3 0h0m7 0h0m4 0h0m11 0h0m2 0h0m7 0h0m0 0h0m1 0h0m2 0h0m8 0h0m9 0h0m1 0h0m0 0h0m10 0h0m6 0h0m3 0h0m4 0h0m-77 1h0m9 0h0m5 0h0m9 0h0m4 0h0m5 0h0m5 0h0m1 0h0m4 0h0m0 0h0m2 0h0m2 0h0m6 0h0m0 0h0m1 0h0m0 0h0m5 0h0m0 0h0m3 0h0m2 0h0m27 0h0m-77 1h0m1 0h0m1 0h0m5 0h0m2 0h0m1 0h0m0 0h0m2 0h0m2 0h0m2 0h0m1 0h0m1 0h0m3 0h0m2 0h0m2 0h0m4 0h0m0 0h0m3 0h0m1 0h0m6 0h0m0 0h0m2 0h0m1 0h0m2 0h0m2 0h0m-62 1h0m3 0h0m4 0h0m5 0h0m7 0h0m2 0h0m3 0h0m1 0h0m11 0h0m1 0h0m1 0h0m1 0h0m0 0h0m1 0h0m0 0h0m2 0h0m0 0h0m3 0h0m1 0h0m1 0h0m4 0h0m5 0h0m2 0h0m9 0h0m5 0h0m3 0h0m0 0h0m15 0h0m-94 1h0m15 0h0m11 0h0m1 0h0m2 0h0m3 0h0m3 0h0m3 0h0m4 0h0m1 0h0m5 0h0m3 0h0m3 0h0m0 0h0m8 0h0m0 0h0m4 0h0m0 0h0m8 0h0m7 0h0m-73 1h0m10 0h0m1 0h0m10 0h0m2 0h0m3 0h0m1 0h0m3 0h0m1 0h0m1 0h0m0 0h0m3 0h0m2 0h0m2 0h0m3 0h0m10 0h0m8 0h0m11 0h0m-60 1h0m1 0h0m0 0h0m2 0h0m4 0h0m4 0h0m9 0h0m1 0h0m4 0h0m0 0h0m1 0h0m7 0h0m1 0h0m9 0h0m8 0h0m10 0h0m-77 1h0m12 0h0m2 0h0m2 0h0m15 0h0m1 0h0m4 0h0m2 0h0m1 0h0m0 0h0m2 0h0m2 0h0m1 0h0m0 0h0m2 0h0m0 0h0m5 0h0m4 0h0m2 0h0m6 0h0m3 0h0m5 0h0m3 0h0m1 0h0m14 0h0m-79 1h0m11 0h0m2 0h0m1 0h0m2 0h0m1 0h0m2 0h0m4 0h0m3 0h0m2 0h0m9 0h0m8 0h0m4 0h0m1 0h0m8 0h0m7 0h0m1 0h0m1 0h0m5 0h0m10 0h0m-86 1h0m9 0h0m6 0h0m8 0h0m1 0h0m11 0h0m1 0h0m3 0h0m10 0h0m1 0h0m0 0h0m4 0h0m1 0h0m2 0h0m2 0h0m4 0h0m7 0h0m1 0h0m1 0h0m2 0h0m-65 1h0m1 0h0m3 0h0m4 0h0m6 0h0m4 0h0m1 0h0m0 0h0m2 0h0m1 0h0m0 0h0m2 0h0m1 0h0m3 0h0m5 0h0m0 0h0m3 0h0m3 0h0m6 0h0m2 0h0m10 0h0m-75 1h0m20 0h0m4 0h0m9 0h0m2 0h0m3 0h0m3 0h0m0 0h0m4 0h0m1 0h0m1 0h0m5 0h0m2 0h0m2 0h0m4 0h0m1 0h0m2 0h0m3 0h0m5 0h0m3 0h0m4 0h0m1 0h0m1 0h0m1 0h0m7 0h0m-67 1h0m3 0h0m9 0h0m6 0h0m1 0h0m1 0h0m2 0h0m2 0h0m4 0h0m0 0h0m8 0h0m3 0h0m0 0h0m7 0h0m2 0h0m3 0h0m10 0h0m1 0h0m2 0h0m4 0h0m-96 1h0m27 0h0m6 0h0m2 0h0m1 0h0m4 0h0m3 0h0m2 0h0m7 0h0m0 0h0m2 0h0m2 0h0m3 0h0m0 0h0m7 0h0m5 0h0m5 0h0m3 0h0m5 0h0m2 0h0m6 0h0m-83 1h0m21 0h0m4 0h0m2 0h0m5 0h0m0 0h0m4 0h0m0 0h0m7 0h0m1 0h0m2 0h0m4 0h0m8 0h0m3 0h0m7 0h0m1 0h0m1 0h0m3 0h0m0 0h0m5 0h0m-61 1h0m2 0h0m3 0h0m5 0h0m3 0h0m2 0h0m3 0h0m0 0h0m2 0h0m1 0h0m5 0h0m4 0h0m0 0h0m0 0h0m1 0h0m4 0h0m2 0h0m3 0h0m18 0h0m0 0h0m1 0h0m-83 1h0m7 0h0m5 0h0m2 0h0m2 0h0m6 0h0m2 0h0m2 0h0m1 0h0m11 0h0m0 0h0m2 0h0m1 0h0m3 0h0m1 0h0m5 0h0m14 0h0m2 0h0m0 0h0m2 0h0m1 0h0m2 0h0m3 0h0m6 0h0m11 0h0m13 0h0m1 0h0m1 0h0m-86 1h0m0 0h0m4 0h0m1 0h0m10 0h0m2 0h0m2 0h0m8 0h0m0 0h0m1 0h0m2 0h0m3 0h0m0 0h0m3 0h0m3 0h0m1 0h0m0 0h0m2 0h0m1 0h0m2 0h0m4 0h0m3 0h0m6 0h0m1 0h0m2 0h0m0 0h0m11 0h0m4 0h0m-84 1h0m4 0h0m6 0h0m0 0h0m6 0h0m1 0h0m2 0h0m9 0h0m3 0h0m1 0h0m9 0h0m7 0h0m1 0h0m3 0h0m4 0h0m2 0h0m5 0h0m4 0h0m8 0h0m1 0h0m8 0h0m-78 1h0m0 0h0m1 0h0m3 0h0m4 0h0m3 0h0m7 0h0m0 0h0m2 0h0m4 0h0m0 0h0m1 0h0m0 0h0m4 0h0m1 0h0m2 0h0m4 0h0m8 0h0m1 0h0m8 0h0m3 0h0m21 0h0m-73 1h0m6 0h0m2 0h0m3 0h0m3 0h0m0 0h0m1 0h0m9 0h0m1 0h0m4 0h0m0 0h0m1 0h0m0 0h0m2 0h0m4 0h0m1 0h0m0 0h0m0 0h0m2 0h0m0 0h0m1 0h0m0 0h0m1 0h0m2 0h0m0 0h0m1 0h0m3 0h0m8 0h0m6 0h0m-74 1h0m1 0h0m16 0h0m6 0h0m5 0h0m4 0h0m0 0h0m2 0h0m10 0h0m4 0h0m1 0h0m11 0h0m1 0h0m8 0h0m3 0h0m-46 1h0m1 0h0m4 0h0m4 0h0m1 0h0m2 0h0m8 0h0m1 0h0m9 0h0m2 0h0m5 0h0m0 0h0m9 0h0m9 0h0m17 0h0m-82 1h0m4 0h0m4 0h0m4 0h0m5 0h0m2 0h0m3 0h0m1 0h0m1 0h0m5 0h0m3 0h0m6 0h0m0 0h0m1 0h0m3 0h0m2 0h0m1 0h0m2 0h0m3 0h0m1 0h0m3 0h0m10 0h0m3 0h0m-80 1h0m13 0h0m7 0h0m5 0h0m0 0h0m1 0h0m1 0h0m3 0h0m2 0h0m6 0h0m1 0h0m4 0h0m1 0h0m3 0h0m0 0h0m6 0h0m1 0h0m0 0h0m3 0h0m3 0h0m10 0h0m2 0h0m1 0h0m7 0h0m-78 1h0m14 0h0m1 0h0m9 0h0m1 0h0m6 0h0m5 0h0m7 0h0m4 0h0m1 0h0m1 0h0m1 0h0m2 0h0m5 0h0m3 0h0m6 0h0m27 0h0m-102 1h0m2 0h0m12 0h0m4 0h0m4 0h0m3 0h0m3 0h0m1 0h0m1 0h0m7 0h0m7 0h0m0 0h0m4 0h0m2 0h0m1 0h0m7 0h0m7 0h0m3 0h0m3 0h0m14 0h0m-73 1h0m12 0h0m1 0h0m2 0h0m1 0h0m2 0h0m0 0h0m1 0h0m3 0h0m3 0h0m2 0h0m3 0h0m2 0h0m4 0h0m1 0h0m3 0h0m5 0h0m1 0h0m1 0h0m1 0h0m3 0h0m2 0h0m15 0h0m-78 1h0m3 0h0m1 0h0m3 0h0m3 0h0m9 0h0m3 0h0m5 0h0m3 0h0m3 0h0m1 0h0m0 0h0m1 0h0m4 0h0m5 0h0m2 0h0m1 0h0m0 0h0m7 0h0m10 0h0m1 0h0m0 0h0m4 0h0m-59 1h0m3 0h0m2 0h0m17 0h0m1 0h0m9 0h0m0 0h0m2 0h0m0 0h0m2 0h0m2 0h0m0 0h0m5 0h0m4 0h0m0 0h0m1 0h0m2 0h0m11 0h0m1 0h0m1 0h0m11 0h0m-68 1h0m10 0h0m4 0h0m2 0h0m0 0h0m3 0h0m0 0h0m4 0h0m5 0h0m5 0h0m8 0h0m5 0h0m7 0h0m13 0h0m7 0h0m12 0h0m-101 1h0m3 0h0m7 0h0m5 0h0m6 0h0m0 0h0m0 0h0m3 0h0m5 0h0m1 0h0m2 0h0m13 0h0m2 0h0m2 0h0m5 0h0m0 0h0m2 0h0m1 0h0m2 0h0m5 0h0m1 0h0m1 0h0m0 0h0m1 0h0m4 0h0m2 0h0m8 0h0m3 0h0m-100 1h0m11 0h0m13 0h0m2 0h0m2 0h0m1 0h0m5 0h0m4 0h0m5 0h0m1 0h0m2 0h0m4 0h0m1 0h0m2 0h0m2 0h0m4 0h0m4 0h0m1 0h0m1 0h0m8 0h0m1 0h0m3 0h0m3 0h0m1 0h0m1 0h0m5 0h0m3 0h0m1 0h0m2 0h0m0 0h0m16 0h0m-75 1h0m3 0h0m4 0h0m3 0h0m0 0h0m3 0h0m9 0h0m1 0h0m0 0h0m5 0h0m10 0h0m0 0h0m2 0h0m0 0h0m1 0h0m8 0h0m1 0h0m5 0h0m5 0h0m14 0h0m-88 1h0m4 0h0m2 0h0m4 0h0m13 0h0m2 0h0m5 0h0m1 0h0m4 0h0m8 0h0m3 0h0m6 0h0m2 0h0m2 0h0m2 0h0m3 0h0m7 0h0m1 0h0m1 0h0m0 0h0m1 0h0m1 0h0m0 0h0m1 0h0m2 0h0m8 0h0m-95 1h0m20 0h0m1 0h0m4 0h0m10 0h0m0 0h0m5 0h0m1 0h0m3 0h0m5 0h0m0 0h0m10 0h0m1 0h0m0 0h0m2 0h0m1 0h0m0 0h0m8 0h0m2 0h0m8 0h0m9 0h0m-61 1h0m4 0h0m1 0h0m6 0h0m11 0h0m2 0h0m5 0h0m5 0h0m7 0h0m0 0h0m2 0h0m22 0h0m-77 1h0m12 0h0m1 0h0m7 0h0m1 0h0m2 0h0m0 0h0m4 0h0m1 0h0m1 0h0m3 0h0m6 0h0m17 0h0m5 0h0m5 0h0m3 0h0m9 0h0m-77 1h0m5 0h0m7 0h0m7 0h0m2 0h0m0 0h0m6 0h0m2 0h0m1 0h0m5 0h0m1 0h0m1 0h0m0 0h0m2 0h0m5 0h0m4 0h0m6 0h0m4 0h0m1 0h0m7 0h0m4 0h0m-82 1h0m26 0h0m6 0h0m0 0h0m1 0h0m3 0h0m1 0h0m2 0h0m1 0h0m2 0h0m3 0h0m3 0h0m0 0h0m6 0h0m1 0h0m2 0h0m0 0h0m0 0h0m0 0h0m3 0h0m1 0h0m11 0h0m1 0h0m2 0h0m6 0h0m2 0h0m-80 1h0m3 0h0m15 0h0m9 0h0m1 0h0m1 0h0m9 0h0m1 0h0m1 0h0m0 0h0m3 0h0m3 0h0m2 0h0m3 0h0m11 0h0m1 0h0m2 0h0m3 0h0m2 0h0m3 0h0m7 0h0m2 0h0m6 0h0m-71 1h0m1 0h0m0 0h0m8 0h0m1 0h0m0 0h0m1 0h0m12 0h0m1 0h0m2 0h0m3 0h0m2 0h0m0 0h0m1 0h0m5 0h0m9 0h0m5 0h0m3 0h0m19 0h0m8 0h0m-92 1h0m14 0h0m7 0h0m2 0h0m1 0h0m3 0h0m1 0h0m5 0h0m3 0h0m1 0h0m0 0h0m1 0h0m1 0h0m0 0h0m0 0h0m7 0h0m0 0h0m14 0h0m1 0h0m5 0h0m6 0h0m11 0h0m-92 1h0m15 0h0m17 0h0m3 0h0m2 0h0m1 0h0m3 0h0m2 0h0m3 0h0m0 0h0m0 0h0m1 0h0m0 0h0m2 0h0m4 0h0m0 0h0m2 0h0m1 0h0m0 0h0m3 0h0m0 0h0m3 0h0m3 0h0m4 0h0m0 0h0m13 0h0m-88 1h0m18 0h0m1 0h0m2 0h0m4 0h0m16 0h0m1 0h0m2 0h0m1 0h0m9 0h0m1 0h0m3 0h0m1 0h0m8 0h0m3 0h0m1 0h0m4 0h0m2 0h0m3 0h0m-54 1h0m1 0h0m6 0h0m3 0h0m1 0h0m1 0h0m12 0h0m4 0h0m3 0h0m1 0h0m1 0h0m3 0h0m3 0h0m0 0h0m1 0h0m0 0h0m2 0h0m6 0h0m6 0h0m3 0h0m15 0h0m-91 1h0m17 0h0m3 0h0m9 0h0m0 0h0m2 0h0m1 0h0m2 0h0m1 0h0m3 0h0m0 0h0m1 0h0m3 0h0m1 0h0m3 0h0m3 0h0m0 0h0m1 0h0m2 0h0m5 0h0m0 0h0m0 0h0m7 0h0m9 0h0m1 0h0m4 0h0m-78 1h0m2 0h0m16 0h0m7 0h0m14 0h0m10 0h0m0 0h0m0 0h0m0 0h0m1 0h0m2 0h0m2 0h0m1 0h0m2 0h0m1 0h0m9 0h0m1 0h0m4 0h0m1 0h0m1 0h0m2 0h0m3 0h0m-93 1h0m13 0h0m2 0h0m2 0h0m8 0h0m10 0h0m8 0h0m0 0h0m1 0h0m4 0h0m12 0h0m2 0h0m1 0h0m3 0h0m2 0h0m5 0h0m0 0h0m1 0h0m2 0h0m2 0h0m17 0h0m15 0h0m22 0h0m-98 1h0m3 0h0m3 0h0m1 0h0m2 0h0m2 0h0m1 0h0m2 0h0m6 0h0m6 0h0m1 0h0m1 0h0m2 0h0m7 0h0m0 0h0m5 0h0m0 0h0m3 0h0m3 0h0m6 0h0m2 0h0m0 0h0m1 0h0m1 0h0m9 0h0m30 0h0m-132 1h0m31 0h0m7 0h0m0 0h0m0 0h0m20 0h0m5 0h0m1 0h0m3 0h0m3 0h0m1 0h0m1 0h0m6 0h0m16 0h0m9 0h0m1 0h0m1 0h0m3 0h0m-81 1h0m8 0h0m11 0h0m1 0h0m0 0h0m1 0h0m5 0h0m3 0h0m4 0h0m1 0h0m3 0h0m2 0h0m3 0h0m6 0h0m11 0h0m4 0h0m1 0h0m-73 1h0m20 0h0m0 0h0m3 0h0m11 0h0m7 0h0m3 0h0m8 0h0m0 0h0m1 0h0m3 0h0m1 0h0m6 0h0m7 0h0m2 0h0m3 0h0m8 0h0m11 0h0m-85 1h0m5 0h0m7 0h0m1 0h0m13 0h0m13 0h0m4 0h0m2 0h0m10 0h0m1 0h0m1 0h0m2 0h0m6 0h0m10 0h0m1 0h0m9 0h0m-67 1h0m3 0h0m6 0h0m4 0h0m2 0h0m5 0h0m0 0h0m1 0h0m6 0h0m12 0h0m1 0h0m1 0h0m7 0h0m-74 1h0m14 0h0m4 0h0m6 0h0m3 0h0m1 0h0m3 0h0m4 0h0m8 0h0m1 0h0m7 0h0m1 0h0m2 0h0m7 0h0m1 0h0m0 0h0m1 0h0m1 0h0m4 0h0m-68 1h0m42 0h0m2 0h0m10 0h0m1 0h0m13 0h0m9 0h0m5 0h0m4 0h0m-98 1h0m25 0h0m5 0h0m26 0h0m0 0h0m2 0h0m0 0h0m4 0h0m11 0h0m2 0h0m17 0h0m0 0h0m-80 1h0m1 0h0m2 0h0m10 0h0m12 0h0m10 0h0m2 0h0m0 0h0m10 0h0m1 0h0m2 0h0m0 0h0m8 0h0m0 0h0m1 0h0m6 0h0m8 0h0m7 0h0m-64 1h0m0 0h0m8 0h0m2 0h0m2 0h0m1 0h0m3 0h0m7 0h0m0 0h0m4 0h0m3 0h0m2 0h0m39 0h0m10 0h0m-94 1h0m15 0h0m0 0h0m3 0h0m31 0h0m7 0h0m25 0h0m-84 1h0m16 0h0m10 0h0m0 0h0m6 0h0m6 0h0m1 0h0m2 0h0m2 0h0m4 0h0m5 0h0m5 0h0m0 0h0m1 0h0m3 0h0m3 0h0m6 0h0m-73 1h0m21 0h0m4 0h0m5 0h0m5 0h0m7 0h0m9 0h0m18 0h0m9 0h0m4 0h0m-41 1h0m13 0h0m1 0h0m1 0h0m2 0h0m2 0h0m5 0h0m0 0h0m4 0h0m-47 1h0m7 0h0m1 0h0m7 0h0m2 0h0m2 0h0m4 0h0m1 0h0m13 0h0m1 0h0m8 0h0m6 0h0m1 0h0m18 0h0m-100 1h0m33 0h0m13 0h0m0 0h0m1 0h0m1 0h0m0 0h0m5 0h0m2 0h0m2 0h0m7 0h0m2 0h0m7 0h0m3 0h0m4 0h0m1 0h0m1 0h0m5 0h0m6 0h0m-64 1h0m15 0h0m4 0h0m5 0h0m1 0h0m3 0h0m3 0h0m0 0h0m3 0h0m1 0h0m1 0h0m13 0h0m7 0h0m6 0h0m18 0h0m-82 1h0m9 0h0m10 0h0m0 0h0m7 0h0m8 0h0m0 0h0m0 0h0m1 0h0m6 0h0m2 0h0m2 0h0m2 0h0m14 0h0m-70 1h0m1 0h0m11 0h0m5 0h0m1 0h0m21 0h0m3 0h0m2 0h0m1 0h0m6 0h0m1 0h0m1 0h0m2 0h0m9 0h0m4 0h0m8 0h0m-67 1h0m21 0h0m15 0h0m45 0h0m-83 1h0m8 0h0m13 0h0m3 0h0m9 0h0m2 0h0m7 0h0m11 0h0m-44 1h0m2 0h0m2 0h0m2 0h0m2 0h0m2 0h0m8 0h0m7 0h0m37 0h0m2 0h0m-61 1h0m15 0h0m0 0h0m10 0h0m9 0h0m2 0h0m1 0h0m1 0h0m6 0h0m-43 1h0m5 0h0m4 0h0m2 0h0m1 0h0m1 0h0m7 0h0m3 0h0m2 0h0m0 0h0m0 0h0m7 0h0m5 0h0m8 0h0m1 0h0m7 0h0m-57 1h0m6 0h0m4 0h0m3 0h0m12 0h0m16 0h0m9 0h0m-52 1h0m27 0h0m0 0h0m1 0h0m8 0h0m2 0h0m0 0h0m0 0h0m2 0h0m3 0h0m4 0h0m11 0h0m-51 1h0m24 0h0m5 0h0m15 0h0m38 0h0m-108 1h0m31 0h0m12 0h0m0 0h0m30 0h0m4 0h0m-56 1h0m20 0h0m15 0h0m3 0h0m6 0h0m8 0h0m1 0h0m-72 1h0m7 0h0m22 0h0m1 0h0m14 0h0m0 0h0m10 0h0m14 0h0m4 0h0m-54 1h0m14 0h0m14 0h0m8 0h0m3 0h0m2 0h0m18 0h0m-76 1h0m1 0h0m21 0h0m10 0h0m2 0h0m6 0h0m0 0h0m6 0h0m26 0h0m-53 1h0m4 0h0m13 0h0m6 0h0m22 0h0m14 0h0m1 0h0m-43 1h0m1 0h0m7 0h0m8 0h0m13 0h0m0 0h0m50 0h0m-82 1h0m6 0h0m10 0h0m11 0h0m2 0h0m4 0h0m17 0h0m-56 1h0m16 0h0m13 0h0m11 0h0m-39 1h0m2 0h0m1 0h0m3 0h0m12 0h0m2 0h0m9 0h0m6 0h0m13 0h0m-47 1h0m35 0h0m12 0h0m18 0h0m-75 1h0m24 0h0m3 0h0m1 0h0m7 0h0m7 0h0m12 0h0m-59 1h0m31 0h0m4 0h0m39 0h0m-65 1h0m5 0h0m9 0h0m1 0h0m4 0h0m17 0h0m3 0h0m-44 1h0m26 0h0m-30 1h0m4 0h0m6 0h0m32 0h0m-36 1h0m1 0h0m20 0h0m9 0h0m21 0h0m-35 1h0m18 0h0m15 0h0m1 0h0m9 0h0m-43 1h0m-10 1h0m15 0h0m15 0h0m-61 1h0m10 0h0m12 1h0m6 0h0m0 1h0m33 0h0m7 1h0m-32 1h0m7 0h0m16 0h0m-23 2h0m48 0h0m0 0h0m0 0h0m-37 1h0m-33 1h0m35 2h0m4 0h0m1 2h0m3 1h0m-26 1h0m47 0h0m-6 1h0m14 0h0m8 0h0m18 0h0m-41 2h0m-51 3h0m19 3h0m5 2h0m-18 1h0m32 8h0m25 0h0" stroke="#8C8C8C" stroke-opacity="0.32" stroke-width="1.1" stroke-linecap="square" fill="none"/>
<path d="M472.4 402.1 472.4 404.6 471.4 410.9 471.6 418.5 471.2 422.3 470.4 426.1 466.4 438.0 464.7 439.6 463.0 440.0 458.0 438.0 456.3 438.3 453.7 439.7 452.0 440.0 447.8 439.4 446.1 438.6 443.6 435.8 441.0 434.3 440.2 433.3 434.8 424.9 430.6 414.7 430.0 412.2 429.7 400.8 428.6 391.9 428.8 386.8 432.7 374.2 435.1 369.4 436.8 368.2 440.2 368.4 443.6 367.7 447.8 367.3 450.3 365.4 452.0 365.0 454.6 366.1 457.1 368.5 459.7 369.4 461.2 370.4 463.8 374.2 466.4 380.5 469.0 385.2 470.2 388.1 471.5 393.2 472.4 402.1ZM467.5 395.7 467.9 400.8 466.4 407.1 467.1 413.5 467.1 417.3 466.4 420.6 463.0 429.7 462.2 430.8 461.3 431.0 458.0 430.5 453.7 432.1 452.0 431.9 446.9 430.2 441.9 426.2 439.3 423.2 438.2 421.1 436.7 416.0 434.5 410.9 434.8 403.3 434.3 397.0 434.4 389.4 435.9 383.0 435.8 378.0 436.3 375.4 438.2 374.2 441.9 374.2 446.9 373.4 452.0 373.9 456.3 375.9 458.8 376.2 459.6 376.7 461.9 383.0 467.5 395.7ZM463.2 398.3 463.7 400.8 462.2 405.2 462.0 407.1 462.9 413.5 462.5 417.3 461.8 418.5 458.8 421.5 456.3 425.9 455.4 426.6 453.7 426.8 448.6 424.1 446.1 421.9 442.7 420.5 440.8 417.3 438.5 408.4 438.7 394.5 438.2 389.4 439.2 385.6 441.5 380.5 442.5 379.2 445.3 377.7 446.9 377.5 448.2 378.0 452.0 381.0 455.4 382.9 458.8 388.0 461.1 390.7 463.2 398.3ZM457.2 400.8 457.6 407.1 456.2 412.2 455.9 418.5 455.4 420.0 454.6 420.9 453.7 421.1 451.2 420.2 446.9 416.7 444.4 415.9 443.4 414.7 441.7 390.7 442.2 388.1 443.6 386.0 444.4 385.6 445.3 386.2 446.9 389.3 447.8 389.9 452.0 389.7 454.6 390.8 456.1 393.2 457.2 400.8ZM452.1 402.1 452.0 404.2 451.2 405.1 450.3 404.8 447.5 402.1 447.2 400.8 447.5 399.5 448.6 397.7 449.5 397.5 450.3 398.0 451.2 399.3 452.1 402.1Z" stroke="#5F82DA" stroke-width="0.75" fill="none" stroke-linejoin="round"/>
<line x1="404.92" x2="490.92" y1="404.5" y2="404.5" stroke="#000" stroke-width="0.6" stroke-dasharray="1.3 1.7"/>
<line x1="449.80" x2="449.80" y1="341.5" y2="468.2" stroke="#000" stroke-width="0.6" stroke-dasharray="1.3 1.7"/>
<line x1="409" y1="395.4" x2="486.5" y2="413.6" stroke="#222" stroke-width="1.3"/>
<text x="408.92" y="352.60" font-size="4.7" fill="#111"><tspan font-style="italic">R</tspan> = −0.15, <tspan font-style="italic">p</tspan> &lt; 2.2e-16</text>
<rect x="404.92" y="341.5" width="86.00" height="126.70" fill="none" stroke="#3A3A3A" stroke-width="0.85"/>
<text x="447.92" y="336.9" font-size="7.0" text-anchor="middle" fill="#0A0A0A">CIE and Alc Self Admin</text>
<line x1="411.82" x2="411.82" y1="468.2" y2="470.8" stroke="#333" stroke-width="0.7"/>
<text x="411.82" y="478.9" font-size="7.9" text-anchor="middle" fill="#4D4D4D">-6</text>
<line x1="430.81" x2="430.81" y1="468.2" y2="470.8" stroke="#333" stroke-width="0.7"/>
<text x="430.81" y="478.9" font-size="7.9" text-anchor="middle" fill="#4D4D4D">-3</text>
<line x1="449.80" x2="449.80" y1="468.2" y2="470.8" stroke="#333" stroke-width="0.7"/>
<text x="449.80" y="478.9" font-size="7.9" text-anchor="middle" fill="#4D4D4D">0</text>
<line x1="468.79" x2="468.79" y1="468.2" y2="470.8" stroke="#333" stroke-width="0.7"/>
<text x="468.79" y="478.9" font-size="7.9" text-anchor="middle" fill="#4D4D4D">3</text>
<line x1="487.78" x2="487.78" y1="468.2" y2="470.8" stroke="#333" stroke-width="0.7"/>
<text x="487.78" y="478.9" font-size="7.9" text-anchor="middle" fill="#4D4D4D">6</text>
<path d="M495.55 451.11H581.55M495.55 420.04H581.55M495.55 388.96H581.55M495.55 357.89H581.55M502.04 341.5V468.2M526.28 341.5V468.2M550.52 341.5V468.2M574.76 341.5V468.2" stroke="#F3F3F3" stroke-width="0.45" fill="none"/>
<path d="M495.55 466.65H581.55M495.55 435.57H581.55M495.55 404.50H581.55M495.55 373.43H581.55M495.55 342.35H581.55M514.16 341.5V468.2M538.40 341.5V468.2M562.64 341.5V468.2" stroke="#EBEBEB" stroke-width="0.7" fill="none"/>
<ellipse cx="541.0" cy="404.2" rx="24.2" ry="45.2" fill="url(#cloud)"/>
<path transform="scale(0.5)" d="M1055 689h0m42 11h0m-23 2h0m-19 1h0m-4 2h0m40 4h0m-15 1h0m-2 1h0m18 0h0m22 0h0m-57 2h0m7 0h0m11 4h0m0 0h0m-42 2h0m25 0h0m30 0h0m-24 1h0m29 0h0m4 0h0m16 0h0m-56 1h0m2 0h0m7 0h0m0 0h0m51 1h0m-31 1h0m-15 1h0m5 0h0m7 0h0m-24 1h0m15 0h0m-43 2h0m33 0h0m-6 1h0m14 1h0m21 0h0m-26 1h0m20 0h0m-44 1h0m0 0h0m8 0h0m14 0h0m7 0h0m1 0h0m12 0h0m9 0h0m-50 1h0m4 0h0m30 0h0m18 0h0m10 0h0m2 0h0m2 0h0m20 1h0m-62 1h0m33 0h0m-45 1h0m33 0h0m12 0h0m-54 1h0m6 0h0m3 0h0m12 0h0m11 0h0m12 0h0m22 0h0m11 0h0m-78 1h0m12 0h0m9 0h0m8 0h0m12 0h0m4 0h0m13 0h0m5 0h0m-56 1h0m8 0h0m7 0h0m5 0h0m3 0h0m9 0h0m2 0h0m3 0h0m-27 1h0m7 0h0m1 0h0m7 0h0m8 0h0m3 0h0m1 0h0m7 0h0m-37 1h0m12 0h0m3 0h0m16 0h0m8 0h0m-39 1h0m5 0h0m2 0h0m0 0h0m9 0h0m0 0h0m9 0h0m8 0h0m-42 1h0m25 0h0m1 0h0m0 0h0m35 0h0m-40 1h0m12 0h0m6 0h0m5 0h0m9 0h0m-39 1h0m2 0h0m2 0h0m3 0h0m2 0h0m6 0h0m11 0h0m6 0h0m6 0h0m-65 1h0m9 0h0m25 0h0m3 0h0m5 0h0m0 0h0m4 0h0m17 0h0m-34 1h0m12 0h0m1 0h0m0 0h0m1 0h0m1 0h0m9 0h0m7 0h0m4 0h0m-48 1h0m3 0h0m18 0h0m10 0h0m1 0h0m2 0h0m2 0h0m36 0h0m-86 1h0m5 0h0m4 0h0m6 0h0m0 0h0m8 0h0m9 0h0m0 0h0m4 0h0m4 0h0m1 0h0m11 0h0m15 0h0m-50 1h0m1 0h0m13 0h0m3 0h0m5 0h0m2 0h0m3 0h0m6 0h0m1 0h0m-41 1h0m11 0h0m2 0h0m8 0h0m4 0h0m22 0h0m15 0h0m-67 1h0m14 0h0m1 0h0m2 0h0m0 0h0m20 0h0m1 0h0m3 0h0m7 0h0m3 0h0m19 0h0m-57 1h0m23 0h0m4 0h0m22 0h0m2 0h0m16 0h0m-79 1h0m19 0h0m2 0h0m1 0h0m11 0h0m4 0h0m0 0h0m3 0h0m2 0h0m5 0h0m16 0h0m15 0h0m3 0h0m-82 1h0m9 0h0m2 0h0m10 0h0m2 0h0m1 0h0m8 0h0m5 0h0m4 0h0m1 0h0m9 0h0m18 0h0m-82 1h0m2 0h0m20 0h0m8 0h0m1 0h0m3 0h0m2 0h0m5 0h0m4 0h0m4 0h0m5 0h0m8 0h0m0 0h0m-41 1h0m12 0h0m2 0h0m5 0h0m4 0h0m4 0h0m0 0h0m14 0h0m-44 1h0m7 0h0m5 0h0m7 0h0m7 0h0m14 0h0m-33 1h0m1 0h0m5 0h0m4 0h0m6 0h0m3 0h0m2 0h0m3 0h0m2 0h0m2 0h0m9 0h0m7 0h0m0 0h0m3 0h0m4 0h0m-56 1h0m4 0h0m12 0h0m2 0h0m5 0h0m0 0h0m16 0h0m3 0h0m0 0h0m7 0h0m3 0h0m2 0h0m0 0h0m-69 1h0m6 0h0m16 0h0m3 0h0m2 0h0m3 0h0m2 0h0m4 0h0m7 0h0m4 0h0m1 0h0m3 0h0m3 0h0m9 0h0m2 0h0m6 0h0m-78 1h0m25 0h0m2 0h0m1 0h0m6 0h0m4 0h0m2 0h0m3 0h0m1 0h0m1 0h0m13 0h0m0 0h0m3 0h0m1 0h0m9 0h0m3 0h0m3 0h0m5 0h0m1 0h0m-69 1h0m1 0h0m16 0h0m13 0h0m5 0h0m0 0h0m1 0h0m1 0h0m1 0h0m0 0h0m13 0h0m2 0h0m1 0h0m3 0h0m4 0h0m4 0h0m9 0h0m-83 1h0m13 0h0m4 0h0m1 0h0m9 0h0m1 0h0m11 0h0m10 0h0m0 0h0m1 0h0m3 0h0m3 0h0m2 0h0m5 0h0m-63 1h0m3 0h0m17 0h0m4 0h0m1 0h0m7 0h0m6 0h0m1 0h0m0 0h0m4 0h0m1 0h0m1 0h0m2 0h0m5 0h0m7 0h0m1 0h0m1 0h0m3 0h0m4 0h0m3 0h0m-59 1h0m2 0h0m2 0h0m6 0h0m4 0h0m3 0h0m2 0h0m2 0h0m4 0h0m2 0h0m16 0h0m1 0h0m3 0h0m2 0h0m15 0h0m-59 1h0m7 0h0m7 0h0m2 0h0m1 0h0m2 0h0m1 0h0m0 0h0m5 0h0m3 0h0m1 0h0m3 0h0m0 0h0m2 0h0m0 0h0m3 0h0m17 0h0m1 0h0m3 0h0m4 0h0m-52 1h0m6 0h0m1 0h0m0 0h0m1 0h0m0 0h0m1 0h0m1 0h0m0 0h0m1 0h0m2 0h0m1 0h0m0 0h0m4 0h0m4 0h0m5 0h0m1 0h0m8 0h0m0 0h0m6 0h0m0 0h0m20 0h0m-79 1h0m12 0h0m3 0h0m5 0h0m5 0h0m7 0h0m3 0h0m3 0h0m3 0h0m3 0h0m1 0h0m4 0h0m4 0h0m1 0h0m2 0h0m1 0h0m1 0h0m0 0h0m-59 1h0m4 0h0m6 0h0m2 0h0m3 0h0m10 0h0m2 0h0m1 0h0m1 0h0m5 0h0m6 0h0m1 0h0m15 0h0m1 0h0m2 0h0m8 0h0m2 0h0m-48 1h0m0 0h0m1 0h0m4 0h0m1 0h0m1 0h0m1 0h0m5 0h0m1 0h0m1 0h0m3 0h0m0 0h0m2 0h0m1 0h0m3 0h0m10 0h0m4 0h0m-69 1h0m7 0h0m10 0h0m2 0h0m1 0h0m8 0h0m1 0h0m3 0h0m1 0h0m9 0h0m1 0h0m2 0h0m4 0h0m2 0h0m1 0h0m1 0h0m6 0h0m0 0h0m7 0h0m2 0h0m1 0h0m5 0h0m0 0h0m6 0h0m-74 1h0m7 0h0m3 0h0m7 0h0m1 0h0m1 0h0m0 0h0m3 0h0m11 0h0m2 0h0m1 0h0m5 0h0m3 0h0m2 0h0m4 0h0m4 0h0m5 0h0m20 0h0m-79 1h0m10 0h0m7 0h0m7 0h0m1 0h0m2 0h0m1 0h0m7 0h0m0 0h0m5 0h0m1 0h0m2 0h0m5 0h0m2 0h0m1 0h0m1 0h0m17 0h0m-59 1h0m3 0h0m4 0h0m8 0h0m1 0h0m1 0h0m1 0h0m8 0h0m6 0h0m2 0h0m1 0h0m2 0h0m3 0h0m8 0h0m2 0h0m-49 1h0m5 0h0m2 0h0m5 0h0m1 0h0m0 0h0m3 0h0m1 0h0m2 0h0m2 0h0m2 0h0m2 0h0m0 0h0m2 0h0m6 0h0m0 0h0m0 0h0m0 0h0m1 0h0m9 0h0m10 0h0m1 0h0m4 0h0m3 0h0m14 0h0m-90 1h0m7 0h0m4 0h0m2 0h0m8 0h0m8 0h0m6 0h0m0 0h0m5 0h0m3 0h0m2 0h0m0 0h0m5 0h0m1 0h0m2 0h0m1 0h0m2 0h0m7 0h0m4 0h0m2 0h0m0 0h0m8 0h0m-72 1h0m6 0h0m7 0h0m1 0h0m10 0h0m1 0h0m2 0h0m2 0h0m5 0h0m2 0h0m1 0h0m5 0h0m2 0h0m13 0h0m2 0h0m1 0h0m2 0h0m4 0h0m20 0h0m-84 1h0m18 0h0m2 0h0m6 0h0m3 0h0m4 0h0m7 0h0m4 0h0m5 0h0m1 0h0m1 0h0m1 0h0m0 0h0m12 0h0m-95 1h0m26 0h0m11 0h0m2 0h0m0 0h0m6 0h0m9 0h0m6 0h0m3 0h0m0 0h0m7 0h0m1 0h0m2 0h0m1 0h0m1 0h0m2 0h0m2 0h0m3 0h0m2 0h0m0 0h0m1 0h0m3 0h0m8 0h0m4 0h0m8 0h0m-89 1h0m5 0h0m15 0h0m0 0h0m1 0h0m11 0h0m9 0h0m2 0h0m2 0h0m0 0h0m4 0h0m6 0h0m5 0h0m3 0h0m1 0h0m-50 1h0m3 0h0m1 0h0m4 0h0m8 0h0m2 0h0m5 0h0m6 0h0m2 0h0m2 0h0m0 0h0m1 0h0m1 0h0m3 0h0m3 0h0m0 0h0m1 0h0m4 0h0m3 0h0m0 0h0m1 0h0m21 0h0m-62 1h0m11 0h0m1 0h0m1 0h0m3 0h0m2 0h0m7 0h0m1 0h0m0 0h0m3 0h0m2 0h0m10 0h0m5 0h0m8 0h0m11 0h0m-71 1h0m5 0h0m4 0h0m1 0h0m2 0h0m2 0h0m1 0h0m2 0h0m0 0h0m4 0h0m6 0h0m1 0h0m2 0h0m2 0h0m2 0h0m1 0h0m2 0h0m0 0h0m2 0h0m1 0h0m3 0h0m1 0h0m3 0h0m3 0h0m1 0h0m3 0h0m4 0h0m3 0h0m3 0h0m6 0h0m-70 1h0m16 0h0m2 0h0m2 0h0m2 0h0m1 0h0m1 0h0m2 0h0m0 0h0m1 0h0m4 0h0m0 0h0m5 0h0m1 0h0m5 0h0m2 0h0m1 0h0m4 0h0m2 0h0m3 0h0m10 0h0m6 0h0m-89 1h0m8 0h0m5 0h0m18 0h0m16 0h0m2 0h0m5 0h0m3 0h0m3 0h0m3 0h0m0 0h0m5 0h0m3 0h0m5 0h0m1 0h0m1 0h0m11 0h0m-84 1h0m16 0h0m9 0h0m4 0h0m0 0h0m3 0h0m2 0h0m15 0h0m0 0h0m0 0h0m10 0h0m1 0h0m4 0h0m1 0h0m5 0h0m1 0h0m9 0h0m3 0h0m3 0h0m0 0h0m1 0h0m-97 1h0m11 0h0m19 0h0m3 0h0m5 0h0m0 0h0m3 0h0m4 0h0m0 0h0m0 0h0m7 0h0m0 0h0m2 0h0m1 0h0m1 0h0m4 0h0m1 0h0m3 0h0m1 0h0m2 0h0m2 0h0m1 0h0m2 0h0m7 0h0m3 0h0m6 0h0m5 0h0m0 0h0m-68 1h0m5 0h0m12 0h0m8 0h0m8 0h0m1 0h0m0 0h0m8 0h0m2 0h0m1 0h0m2 0h0m1 0h0m5 0h0m10 0h0m20 0h0m-105 1h0m19 0h0m0 0h0m4 0h0m1 0h0m11 0h0m2 0h0m1 0h0m0 0h0m3 0h0m2 0h0m6 0h0m1 0h0m0 0h0m3 0h0m3 0h0m1 0h0m6 0h0m12 0h0m3 0h0m1 0h0m1 0h0m0 0h0m-71 1h0m17 0h0m3 0h0m9 0h0m0 0h0m0 0h0m3 0h0m2 0h0m0 0h0m5 0h0m1 0h0m2 0h0m17 0h0m1 0h0m1 0h0m1 0h0m1 0h0m8 0h0m-58 1h0m4 0h0m2 0h0m2 0h0m0 0h0m8 0h0m2 0h0m4 0h0m1 0h0m4 0h0m2 0h0m2 0h0m0 0h0m0 0h0m1 0h0m3 0h0m1 0h0m1 0h0m2 0h0m2 0h0m9 0h0m0 0h0m0 0h0m1 0h0m1 0h0m3 0h0m2 0h0m20 0h0m3 0h0m13 0h0m-93 1h0m3 0h0m3 0h0m10 0h0m1 0h0m6 0h0m3 0h0m1 0h0m1 0h0m2 0h0m1 0h0m1 0h0m2 0h0m5 0h0m4 0h0m2 0h0m3 0h0m3 0h0m4 0h0m7 0h0m3 0h0m3 0h0m2 0h0m-75 1h0m8 0h0m7 0h0m0 0h0m1 0h0m2 0h0m1 0h0m0 0h0m1 0h0m1 0h0m1 0h0m13 0h0m3 0h0m2 0h0m5 0h0m0 0h0m0 0h0m5 0h0m2 0h0m3 0h0m5 0h0m0 0h0m5 0h0m4 0h0m-78 1h0m8 0h0m8 0h0m8 0h0m6 0h0m5 0h0m0 0h0m6 0h0m2 0h0m1 0h0m0 0h0m8 0h0m2 0h0m2 0h0m1 0h0m4 0h0m0 0h0m1 0h0m4 0h0m2 0h0m4 0h0m1 0h0m1 0h0m7 0h0m6 0h0m2 0h0m1 0h0m-79 1h0m17 0h0m11 0h0m3 0h0m1 0h0m1 0h0m2 0h0m0 0h0m3 0h0m0 0h0m2 0h0m8 0h0m1 0h0m0 0h0m1 0h0m0 0h0m2 0h0m1 0h0m2 0h0m5 0h0m1 0h0m1 0h0m1 0h0m2 0h0m21 0h0m-72 1h0m1 0h0m4 0h0m0 0h0m2 0h0m2 0h0m2 0h0m0 0h0m1 0h0m0 0h0m5 0h0m1 0h0m0 0h0m1 0h0m2 0h0m2 0h0m1 0h0m3 0h0m1 0h0m0 0h0m4 0h0m1 0h0m0 0h0m4 0h0m10 0h0m1 0h0m22 0h0m-102 1h0m30 0h0m10 0h0m1 0h0m1 0h0m1 0h0m1 0h0m1 0h0m0 0h0m0 0h0m5 0h0m0 0h0m0 0h0m1 0h0m4 0h0m4 0h0m0 0h0m1 0h0m0 0h0m1 0h0m2 0h0m1 0h0m1 0h0m1 0h0m3 0h0m2 0h0m1 0h0m9 0h0m8 0h0m-70 1h0m9 0h0m0 0h0m3 0h0m5 0h0m4 0h0m2 0h0m6 0h0m9 0h0m2 0h0m8 0h0m1 0h0m3 0h0m4 0h0m9 0h0m5 0h0m-73 1h0m5 0h0m11 0h0m9 0h0m1 0h0m2 0h0m2 0h0m0 0h0m1 0h0m5 0h0m1 0h0m4 0h0m4 0h0m10 0h0m1 0h0m3 0h0m8 0h0m3 0h0m-62 1h0m1 0h0m1 0h0m3 0h0m9 0h0m0 0h0m1 0h0m0 0h0m2 0h0m1 0h0m0 0h0m0 0h0m3 0h0m7 0h0m2 0h0m1 0h0m2 0h0m2 0h0m1 0h0m0 0h0m0 0h0m1 0h0m7 0h0m13 0h0m2 0h0m4 0h0m4 0h0m11 0h0m-81 1h0m1 0h0m1 0h0m7 0h0m0 0h0m2 0h0m3 0h0m2 0h0m0 0h0m2 0h0m3 0h0m1 0h0m2 0h0m1 0h0m2 0h0m6 0h0m0 0h0m5 0h0m1 0h0m3 0h0m0 0h0m4 0h0m1 0h0m2 0h0m15 0h0m6 0h0m-80 1h0m6 0h0m2 0h0m2 0h0m2 0h0m1 0h0m3 0h0m1 0h0m6 0h0m4 0h0m14 0h0m7 0h0m3 0h0m1 0h0m2 0h0m1 0h0m2 0h0m1 0h0m4 0h0m1 0h0m5 0h0m-64 1h0m6 0h0m3 0h0m3 0h0m9 0h0m1 0h0m5 0h0m1 0h0m2 0h0m3 0h0m7 0h0m1 0h0m0 0h0m3 0h0m3 0h0m5 0h0m1 0h0m8 0h0m1 0h0m1 0h0m0 0h0m0 0h0m6 0h0m1 0h0m10 0h0m-72 1h0m2 0h0m1 0h0m11 0h0m10 0h0m1 0h0m5 0h0m6 0h0m6 0h0m4 0h0m0 0h0m2 0h0m1 0h0m0 0h0m2 0h0m10 0h0m1 0h0m8 0h0m-76 1h0m6 0h0m6 0h0m2 0h0m3 0h0m2 0h0m3 0h0m9 0h0m0 0h0m1 0h0m1 0h0m2 0h0m3 0h0m1 0h0m2 0h0m3 0h0m0 0h0m2 0h0m0 0h0m4 0h0m4 0h0m7 0h0m7 0h0m2 0h0m-61 1h0m2 0h0m13 0h0m5 0h0m5 0h0m0 0h0m3 0h0m1 0h0m6 0h0m1 0h0m0 0h0m0 0h0m2 0h0m4 0h0m1 0h0m2 0h0m1 0h0m4 0h0m2 0h0m5 0h0m-73 1h0m10 0h0m4 0h0m1 0h0m13 0h0m4 0h0m2 0h0m2 0h0m5 0h0m0 0h0m2 0h0m1 0h0m0 0h0m0 0h0m1 0h0m3 0h0m0 0h0m8 0h0m1 0h0m5 0h0m5 0h0m15 0h0m-73 1h0m11 0h0m1 0h0m7 0h0m7 0h0m2 0h0m0 0h0m0 0h0m3 0h0m0 0h0m4 0h0m2 0h0m6 0h0m1 0h0m1 0h0m2 0h0m3 0h0m20 0h0m-69 1h0m0 0h0m2 0h0m7 0h0m5 0h0m1 0h0m2 0h0m0 0h0m1 0h0m10 0h0m3 0h0m1 0h0m5 0h0m1 0h0m2 0h0m3 0h0m2 0h0m15 0h0m7 0h0m-82 1h0m4 0h0m13 0h0m7 0h0m1 0h0m2 0h0m0 0h0m1 0h0m2 0h0m1 0h0m3 0h0m1 0h0m1 0h0m2 0h0m1 0h0m5 0h0m1 0h0m2 0h0m3 0h0m5 0h0m0 0h0m4 0h0m1 0h0m8 0h0m0 0h0m0 0h0m3 0h0m6 0h0m3 0h0m2 0h0m-69 1h0m10 0h0m2 0h0m1 0h0m2 0h0m0 0h0m3 0h0m7 0h0m2 0h0m1 0h0m3 0h0m4 0h0m3 0h0m3 0h0m0 0h0m1 0h0m6 0h0m2 0h0m1 0h0m0 0h0m2 0h0m0 0h0m1 0h0m1 0h0m4 0h0m3 0h0m1 0h0m12 0h0m2 0h0m-86 1h0m18 0h0m1 0h0m2 0h0m4 0h0m6 0h0m2 0h0m1 0h0m0 0h0m9 0h0m1 0h0m5 0h0m2 0h0m5 0h0m2 0h0m2 0h0m1 0h0m0 0h0m0 0h0m3 0h0m0 0h0m4 0h0m2 0h0m2 0h0m1 0h0m0 0h0m-67 1h0m3 0h0m3 0h0m8 0h0m1 0h0m0 0h0m2 0h0m13 0h0m0 0h0m2 0h0m0 0h0m7 0h0m3 0h0m1 0h0m0 0h0m2 0h0m1 0h0m0 0h0m3 0h0m0 0h0m1 0h0m16 0h0m1 0h0m2 0h0m2 0h0m-68 1h0m10 0h0m2 0h0m3 0h0m3 0h0m1 0h0m2 0h0m1 0h0m3 0h0m0 0h0m1 0h0m1 0h0m0 0h0m1 0h0m2 0h0m0 0h0m2 0h0m0 0h0m2 0h0m4 0h0m1 0h0m0 0h0m6 0h0m4 0h0m1 0h0m2 0h0m15 0h0m5 0h0m0 0h0m15 0h0m-93 1h0m13 0h0m2 0h0m2 0h0m1 0h0m2 0h0m0 0h0m1 0h0m6 0h0m3 0h0m5 0h0m2 0h0m2 0h0m1 0h0m1 0h0m1 0h0m2 0h0m15 0h0m7 0h0m3 0h0m7 0h0m-52 1h0m0 0h0m3 0h0m1 0h0m0 0h0m4 0h0m0 0h0m2 0h0m4 0h0m6 0h0m7 0h0m1 0h0m0 0h0m6 0h0m3 0h0m7 0h0m2 0h0m9 0h0m3 0h0m-71 1h0m0 0h0m4 0h0m3 0h0m13 0h0m1 0h0m2 0h0m3 0h0m2 0h0m0 0h0m2 0h0m2 0h0m3 0h0m3 0h0m2 0h0m3 0h0m1 0h0m2 0h0m3 0h0m0 0h0m2 0h0m1 0h0m18 0h0m0 0h0m6 0h0m-88 1h0m0 0h0m20 0h0m3 0h0m1 0h0m4 0h0m4 0h0m3 0h0m3 0h0m1 0h0m8 0h0m4 0h0m4 0h0m3 0h0m4 0h0m3 0h0m1 0h0m2 0h0m18 0h0m-79 1h0m1 0h0m6 0h0m0 0h0m6 0h0m2 0h0m2 0h0m3 0h0m8 0h0m0 0h0m1 0h0m0 0h0m9 0h0m8 0h0m2 0h0m0 0h0m4 0h0m1 0h0m1 0h0m2 0h0m8 0h0m1 0h0m7 0h0m-74 1h0m5 0h0m12 0h0m0 0h0m4 0h0m2 0h0m1 0h0m1 0h0m0 0h0m4 0h0m1 0h0m1 0h0m1 0h0m2 0h0m0 0h0m5 0h0m0 0h0m1 0h0m5 0h0m0 0h0m4 0h0m5 0h0m1 0h0m2 0h0m3 0h0m3 0h0m6 0h0m8 0h0m-86 1h0m16 0h0m0 0h0m3 0h0m6 0h0m4 0h0m7 0h0m1 0h0m5 0h0m1 0h0m0 0h0m1 0h0m0 0h0m1 0h0m8 0h0m1 0h0m3 0h0m6 0h0m7 0h0m1 0h0m5 0h0m-70 1h0m9 0h0m14 0h0m2 0h0m5 0h0m0 0h0m7 0h0m0 0h0m9 0h0m1 0h0m0 0h0m0 0h0m9 0h0m3 0h0m3 0h0m2 0h0m1 0h0m2 0h0m-75 1h0m12 0h0m3 0h0m14 0h0m1 0h0m1 0h0m3 0h0m6 0h0m4 0h0m5 0h0m10 0h0m1 0h0m2 0h0m0 0h0m0 0h0m4 0h0m5 0h0m6 0h0m1 0h0m8 0h0m-68 1h0m1 0h0m2 0h0m2 0h0m7 0h0m0 0h0m2 0h0m10 0h0m1 0h0m2 0h0m1 0h0m2 0h0m11 0h0m2 0h0m1 0h0m3 0h0m6 0h0m14 0h0m-67 1h0m24 0h0m0 0h0m1 0h0m1 0h0m5 0h0m0 0h0m0 0h0m5 0h0m0 0h0m5 0h0m0 0h0m21 0h0m10 0h0m2 0h0m-98 1h0m13 0h0m7 0h0m4 0h0m13 0h0m2 0h0m1 0h0m1 0h0m3 0h0m2 0h0m0 0h0m5 0h0m0 0h0m8 0h0m6 0h0m1 0h0m0 0h0m3 0h0m2 0h0m5 0h0m2 0h0m2 0h0m4 0h0m11 0h0m1 0h0m1 0h0m-81 1h0m1 0h0m7 0h0m2 0h0m2 0h0m3 0h0m6 0h0m7 0h0m2 0h0m0 0h0m11 0h0m1 0h0m1 0h0m1 0h0m10 0h0m4 0h0m4 0h0m4 0h0m6 0h0m-65 1h0m8 0h0m6 0h0m5 0h0m1 0h0m0 0h0m1 0h0m3 0h0m4 0h0m0 0h0m1 0h0m0 0h0m3 0h0m1 0h0m1 0h0m1 0h0m6 0h0m2 0h0m3 0h0m0 0h0m5 0h0m12 0h0m10 0h0m-65 1h0m2 0h0m3 0h0m1 0h0m10 0h0m1 0h0m0 0h0m4 0h0m3 0h0m2 0h0m1 0h0m2 0h0m0 0h0m6 0h0m1 0h0m1 0h0m3 0h0m5 0h0m1 0h0m6 0h0m2 0h0m5 0h0m4 0h0m-90 1h0m2 0h0m26 0h0m8 0h0m2 0h0m0 0h0m1 0h0m2 0h0m0 0h0m3 0h0m0 0h0m1 0h0m5 0h0m0 0h0m3 0h0m2 0h0m3 0h0m0 0h0m1 0h0m5 0h0m1 0h0m0 0h0m3 0h0m10 0h0m-69 1h0m2 0h0m19 0h0m4 0h0m1 0h0m2 0h0m2 0h0m9 0h0m1 0h0m1 0h0m1 0h0m4 0h0m2 0h0m3 0h0m10 0h0m4 0h0m4 0h0m9 0h0m1 0h0m-87 1h0m21 0h0m9 0h0m1 0h0m4 0h0m1 0h0m5 0h0m1 0h0m0 0h0m2 0h0m1 0h0m0 0h0m5 0h0m4 0h0m0 0h0m3 0h0m0 0h0m0 0h0m1 0h0m3 0h0m4 0h0m2 0h0m1 0h0m0 0h0m0 0h0m1 0h0m6 0h0m4 0h0m5 0h0m-51 1h0m1 0h0m0 0h0m7 0h0m2 0h0m5 0h0m1 0h0m1 0h0m4 0h0m3 0h0m3 0h0m5 0h0m6 0h0m6 0h0m3 0h0m1 0h0m6 0h0m-74 1h0m12 0h0m7 0h0m4 0h0m1 0h0m1 0h0m6 0h0m0 0h0m5 0h0m0 0h0m6 0h0m3 0h0m2 0h0m1 0h0m1 0h0m7 0h0m9 0h0m37 0h0m-98 1h0m11 0h0m4 0h0m6 0h0m5 0h0m0 0h0m3 0h0m1 0h0m5 0h0m1 0h0m0 0h0m2 0h0m2 0h0m1 0h0m4 0h0m7 0h0m-62 1h0m8 0h0m3 0h0m14 0h0m3 0h0m1 0h0m3 0h0m1 0h0m2 0h0m8 0h0m8 0h0m5 0h0m2 0h0m4 0h0m8 0h0m3 0h0m2 0h0m0 0h0m-66 1h0m17 0h0m4 0h0m1 0h0m4 0h0m2 0h0m0 0h0m1 0h0m0 0h0m4 0h0m3 0h0m1 0h0m8 0h0m0 0h0m3 0h0m3 0h0m2 0h0m3 0h0m2 0h0m6 0h0m3 0h0m1 0h0m-57 1h0m0 0h0m1 0h0m7 0h0m2 0h0m2 0h0m5 0h0m1 0h0m0 0h0m8 0h0m5 0h0m4 0h0m4 0h0m1 0h0m0 0h0m3 0h0m1 0h0m11 0h0m-73 1h0m21 0h0m2 0h0m1 0h0m1 0h0m3 0h0m9 0h0m13 0h0m3 0h0m6 0h0m0 0h0m1 0h0m2 0h0m5 0h0m1 0h0m1 0h0m3 0h0m6 0h0m-69 1h0m2 0h0m3 0h0m2 0h0m3 0h0m1 0h0m3 0h0m2 0h0m4 0h0m1 0h0m4 0h0m0 0h0m2 0h0m1 0h0m3 0h0m0 0h0m1 0h0m0 0h0m8 0h0m1 0h0m10 0h0m6 0h0m13 0h0m-90 1h0m18 0h0m6 0h0m4 0h0m4 0h0m3 0h0m2 0h0m2 0h0m3 0h0m7 0h0m2 0h0m4 0h0m1 0h0m2 0h0m14 0h0m0 0h0m3 0h0m1 0h0m6 0h0m9 0h0m1 0h0m-70 1h0m4 0h0m8 0h0m6 0h0m1 0h0m16 0h0m3 0h0m2 0h0m10 0h0m-52 1h0m2 0h0m4 0h0m1 0h0m1 0h0m3 0h0m1 0h0m0 0h0m1 0h0m0 0h0m15 0h0m2 0h0m1 0h0m0 0h0m5 0h0m3 0h0m2 0h0m4 0h0m4 0h0m4 0h0m10 0h0m-81 1h0m22 0h0m10 0h0m4 0h0m2 0h0m3 0h0m3 0h0m0 0h0m2 0h0m1 0h0m5 0h0m8 0h0m5 0h0m1 0h0m5 0h0m0 0h0m-41 1h0m2 0h0m1 0h0m2 0h0m4 0h0m4 0h0m5 0h0m11 0h0m1 0h0m1 0h0m0 0h0m4 0h0m15 0h0m0 0h0m18 0h0m3 0h0m-77 1h0m3 0h0m9 0h0m1 0h0m4 0h0m1 0h0m5 0h0m8 0h0m3 0h0m4 0h0m1 0h0m4 0h0m9 0h0m3 0h0m12 0h0m-61 1h0m4 0h0m5 0h0m0 0h0m2 0h0m3 0h0m1 0h0m3 0h0m0 0h0m0 0h0m2 0h0m3 0h0m2 0h0m3 0h0m0 0h0m1 0h0m8 0h0m1 0h0m10 0h0m2 0h0m-73 1h0m2 0h0m5 0h0m18 0h0m1 0h0m1 0h0m2 0h0m6 0h0m1 0h0m3 0h0m6 0h0m1 0h0m0 0h0m1 0h0m1 0h0m6 0h0m9 0h0m10 0h0m11 0h0m-61 1h0m2 0h0m5 0h0m12 0h0m0 0h0m0 0h0m1 0h0m2 0h0m2 0h0m5 0h0m4 0h0m5 0h0m9 0h0m5 0h0m4 0h0m-69 1h0m10 0h0m5 0h0m8 0h0m7 0h0m1 0h0m2 0h0m4 0h0m3 0h0m0 0h0m2 0h0m5 0h0m1 0h0m2 0h0m0 0h0m1 0h0m0 0h0m-65 1h0m20 0h0m5 0h0m1 0h0m1 0h0m3 0h0m13 0h0m1 0h0m13 0h0m8 0h0m4 0h0m1 0h0m6 0h0m5 0h0m-59 1h0m12 0h0m0 0h0m1 0h0m1 0h0m2 0h0m12 0h0m3 0h0m1 0h0m0 0h0m18 0h0m3 0h0m-40 1h0m3 0h0m6 0h0m4 0h0m4 0h0m3 0h0m2 0h0m1 0h0m3 0h0m4 0h0m1 0h0m-43 1h0m0 0h0m3 0h0m3 0h0m0 0h0m2 0h0m4 0h0m0 0h0m2 0h0m4 0h0m5 0h0m9 0h0m2 0h0m2 0h0m17 0h0m3 0h0m2 0h0m1 0h0m1 0h0m11 0h0m-92 1h0m16 0h0m14 0h0m7 0h0m0 0h0m3 0h0m13 0h0m4 0h0m4 0h0m1 0h0m1 0h0m0 0h0m4 0h0m8 0h0m-42 1h0m1 0h0m1 0h0m2 0h0m8 0h0m9 0h0m0 0h0m11 0h0m15 0h0m-70 1h0m27 0h0m1 0h0m3 0h0m1 0h0m1 0h0m3 0h0m2 0h0m0 0h0m3 0h0m9 0h0m7 0h0m6 0h0m7 0h0m2 0h0m-79 1h0m22 0h0m3 0h0m7 0h0m2 0h0m4 0h0m5 0h0m3 0h0m8 0h0m8 0h0m3 0h0m4 0h0m-68 1h0m29 0h0m5 0h0m4 0h0m1 0h0m1 0h0m1 0h0m7 0h0m5 0h0m1 0h0m5 0h0m5 0h0m0 0h0m11 0h0m7 0h0m-67 1h0m8 0h0m0 0h0m9 0h0m19 0h0m12 0h0m2 0h0m10 0h0m-57 1h0m9 0h0m2 0h0m1 0h0m9 0h0m1 0h0m3 0h0m0 0h0m0 0h0m6 0h0m9 0h0m2 0h0m12 0h0m3 0h0m-47 1h0m0 0h0m7 0h0m11 0h0m3 0h0m14 0h0m1 0h0m4 0h0m10 0h0m-63 1h0m22 0h0m7 0h0m8 0h0m5 0h0m5 0h0m2 0h0m0 0h0m1 0h0m4 0h0m6 0h0m15 0h0m8 0h0m-90 1h0m2 0h0m11 0h0m3 0h0m2 0h0m10 0h0m18 0h0m1 0h0m-25 1h0m6 0h0m3 0h0m1 0h0m5 0h0m18 0h0m5 0h0m6 0h0m-52 1h0m1 0h0m9 0h0m2 0h0m11 0h0m6 0h0m1 0h0m10 0h0m1 0h0m-48 1h0m7 0h0m10 0h0m15 0h0m3 0h0m2 0h0m14 0h0m6 0h0m9 0h0m-77 1h0m3 0h0m30 0h0m4 0h0m3 0h0m5 0h0m4 0h0m1 0h0m8 0h0m1 0h0m2 0h0m0 0h0m8 0h0m2 0h0m-60 1h0m13 0h0m2 0h0m4 0h0m11 0h0m7 0h0m6 0h0m6 0h0m5 0h0m4 0h0m-63 1h0m11 0h0m14 0h0m11 0h0m6 0h0m8 0h0m-60 1h0m34 0h0m6 0h0m6 0h0m19 0h0m1 0h0m-66 1h0m34 0h0m22 0h0m7 0h0m11 0h0m-47 1h0m9 0h0m2 0h0m5 0h0m12 0h0m4 0h0m11 0h0m-38 1h0m3 0h0m4 0h0m3 0h0m7 0h0m1 0h0m15 0h0m3 0h0m-36 1h0m3 0h0m12 0h0m6 0h0m-22 1h0m3 0h0m1 0h0m14 0h0m6 0h0m2 0h0m1 0h0m5 0h0m-53 1h0m18 0h0m24 0h0m28 0h0m-67 1h0m18 0h0m1 0h0m22 0h0m1 0h0m-30 1h0m9 0h0m0 0h0m9 0h0m2 0h0m-28 1h0m33 0h0m-26 1h0m4 0h0m9 0h0m3 0h0m-2 1h0m16 0h0m-44 1h0m7 0h0m35 0h0m23 0h0m-11 1h0m22 0h0m-54 1h0m8 0h0m11 0h0m3 0h0m1 0h0m-42 1h0m23 0h0m3 0h0m8 0h0m1 0h0m11 0h0m1 0h0m2 0h0m-4 1h0m15 0h0m7 0h0m-23 1h0m15 0h0m4 1h0m-27 1h0m11 0h0m22 0h0m-68 1h0m25 0h0m9 0h0m4 0h0m-27 2h0m5 3h0m13 0h0m0 0h0m7 1h0m37 0h0m-57 1h0m-4 1h0m30 1h0m18 0h0m-16 4h0m9 1h0m-2 1h0m3 4h0" stroke="#8C8C8C" stroke-opacity="0.32" stroke-width="1.1" stroke-linecap="square" fill="none"/>
<path d="M559.9 406.5 560.5 413.5 560.1 426.3 559.6 429.8 558.5 432.3 555.7 435.7 553.7 437.5 551.6 438.8 546.2 440.8 544.8 440.8 541.4 439.4 537.9 439.7 536.6 439.2 533.8 434.8 529.7 430.7 528.3 428.6 524.7 420.4 523.7 414.6 521.7 407.6 521.5 403.0 522.3 394.8 522.0 386.6 524.2 376.5 526.3 373.5 529.0 368.1 531.8 367.1 533.8 365.8 535.2 365.6 537.3 366.2 540.7 368.2 544.1 368.2 545.5 368.5 548.9 371.1 550.9 374.8 553.7 377.1 554.7 378.5 555.6 380.8 556.8 386.6 559.2 391.3 559.9 406.5ZM556.5 415.8 556.6 419.3 555.7 422.8 553.7 425.0 551.6 429.5 549.6 430.7 547.5 433.4 546.2 434.5 540.7 434.0 539.3 433.6 532.5 427.9 530.4 425.6 528.5 421.6 527.6 414.6 524.9 406.5 524.2 401.8 525.5 393.6 525.6 387.8 526.3 383.2 527.2 380.8 531.1 375.7 535.2 374.2 537.9 372.4 540.0 372.5 546.8 376.2 549.5 379.7 552.3 382.5 553.0 384.4 553.7 391.0 555.6 394.8 556.1 397.1 555.9 412.3 556.5 415.8ZM553.0 408.8 552.4 414.6 548.8 425.1 547.5 427.7 546.2 429.4 544.8 429.7 540.7 428.2 537.9 426.4 535.2 425.2 531.8 421.6 530.3 414.6 527.4 406.5 527.0 403.0 527.6 400.6 528.8 398.3 529.8 386.6 531.8 381.9 533.1 380.1 538.6 378.8 540.7 379.0 545.5 381.7 549.9 385.5 550.6 387.8 550.7 392.5 552.3 400.6 553.0 408.8ZM548.9 396.0 549.5 401.8 549.3 405.3 546.2 422.4 545.5 423.7 544.8 423.7 542.0 421.6 539.3 421.9 537.9 421.5 535.1 419.3 534.0 416.9 532.8 412.3 530.7 407.6 530.5 405.3 531.5 403.0 531.9 400.6 531.5 394.8 531.7 391.3 532.4 387.8 533.1 386.0 534.5 384.8 536.6 384.6 537.9 384.8 540.0 385.8 542.7 385.3 544.1 385.9 546.9 389.0 548.9 396.0ZM546.2 399.5 546.0 403.0 543.8 407.6 543.6 408.8 544.7 413.5 544.5 415.8 543.7 416.9 542.7 417.0 539.1 414.6 539.3 413.5 540.7 411.2 540.7 409.7 540.0 410.0 538.6 412.8 537.3 412.0 535.8 410.0 535.0 407.6 534.7 405.3 535.0 399.5 535.9 397.8 538.6 395.4 543.4 394.0 544.1 394.5 545.5 396.7 546.2 399.5Z" stroke="#5F82DA" stroke-width="0.75" fill="none" stroke-linejoin="round"/>
<line x1="495.55" x2="581.55" y1="404.5" y2="404.5" stroke="#000" stroke-width="0.6" stroke-dasharray="1.3 1.7"/>
<line x1="538.40" x2="538.40" y1="341.5" y2="468.2" stroke="#000" stroke-width="0.6" stroke-dasharray="1.3 1.7"/>
<line x1="499.3" y1="393.5" x2="577.3" y2="415.5" stroke="#222" stroke-width="1.3"/>
<text x="499.55" y="352.60" font-size="4.7" fill="#111"><tspan font-style="italic">R</tspan> = −0.15, <tspan font-style="italic">p</tspan> &lt; 2.2e-16</text>
<rect x="495.55" y="341.5" width="86.00" height="126.70" fill="none" stroke="#3A3A3A" stroke-width="0.85"/>
<text x="538.55" y="336.9" font-size="7.0" text-anchor="middle" fill="#0A0A0A">CIE</text>
<line x1="514.16" x2="514.16" y1="468.2" y2="470.8" stroke="#333" stroke-width="0.7"/>
<text x="514.16" y="478.9" font-size="7.9" text-anchor="middle" fill="#4D4D4D">-4</text>
<line x1="538.40" x2="538.40" y1="468.2" y2="470.8" stroke="#333" stroke-width="0.7"/>
<text x="538.40" y="478.9" font-size="7.9" text-anchor="middle" fill="#4D4D4D">0</text>
<line x1="562.64" x2="562.64" y1="468.2" y2="470.8" stroke="#333" stroke-width="0.7"/>
<text x="562.64" y="478.9" font-size="7.9" text-anchor="middle" fill="#4D4D4D">4</text>
<path d="M586.18 451.11H672.18M586.18 420.04H672.18M586.18 388.96H672.18M586.18 357.89H672.18M593.60 341.5V468.2M614.80 341.5V468.2M636.00 341.5V468.2M657.20 341.5V468.2" stroke="#F3F3F3" stroke-width="0.45" fill="none"/>
<path d="M586.18 466.65H672.18M586.18 435.57H672.18M586.18 404.50H672.18M586.18 373.43H672.18M586.18 342.35H672.18M604.20 341.5V468.2M625.40 341.5V468.2M646.60 341.5V468.2M667.80 341.5V468.2" stroke="#EBEBEB" stroke-width="0.7" fill="none"/>
<ellipse cx="625.6" cy="404.3" rx="21.9" ry="44.0" fill="url(#cloud)"/>
<path transform="scale(0.5)" d="M1265 690h0m-4 1h0m-23 3h0m3 3h0m-48 3h0m53 0h0m-6 1h0m3 3h0m-10 3h0m14 6h0m-3 1h0m6 1h0m-15 1h0m-3 1h0m3 0h0m-22 2h0m26 0h0m18 2h0m-31 1h0m-2 1h0m23 0h0m5 0h0m17 0h0m-28 1h0m-24 1h0m21 0h0m13 0h0m22 0h0m-40 1h0m32 0h0m-38 1h0m27 0h0m11 0h0m-41 1h0m22 0h0m5 0h0m0 0h0m10 0h0m1 0h0m-47 1h0m35 0h0m4 0h0m-11 1h0m21 0h0m6 0h0m-52 1h0m27 0h0m0 0h0m0 0h0m-16 1h0m4 0h0m10 0h0m4 0h0m1 0h0m13 0h0m4 0h0m-47 1h0m11 0h0m26 0h0m-14 1h0m3 0h0m9 0h0m2 0h0m10 0h0m17 0h0m1 0h0m1 0h0m-65 1h0m21 0h0m4 0h0m23 0h0m-62 1h0m27 0h0m15 0h0m5 0h0m1 0h0m2 0h0m7 0h0m4 0h0m1 0h0m5 0h0m9 0h0m-68 1h0m23 0h0m10 0h0m1 0h0m7 0h0m12 0h0m8 0h0m-54 1h0m2 0h0m8 0h0m16 0h0m15 0h0m-33 1h0m21 0h0m3 0h0m2 0h0m6 0h0m0 0h0m15 0h0m-36 1h0m19 0h0m14 0h0m-73 1h0m41 0h0m32 0h0m1 0h0m-53 1h0m13 0h0m7 0h0m14 0h0m4 0h0m2 0h0m2 0h0m0 0h0m1 0h0m18 0h0m-56 1h0m5 0h0m11 0h0m5 0h0m15 0h0m23 0h0m-77 1h0m17 0h0m5 0h0m4 0h0m11 0h0m8 0h0m1 0h0m24 0h0m3 0h0m-49 1h0m12 0h0m0 0h0m19 0h0m7 0h0m-65 1h0m18 0h0m11 0h0m10 0h0m9 0h0m3 0h0m5 0h0m3 0h0m7 0h0m14 0h0m-87 1h0m18 0h0m4 0h0m10 0h0m16 0h0m7 0h0m2 0h0m0 0h0m0 0h0m-16 1h0m6 0h0m2 0h0m4 0h0m13 0h0m2 0h0m9 0h0m-48 1h0m24 0h0m12 0h0m-32 1h0m2 0h0m7 0h0m7 0h0m6 0h0m5 0h0m2 0h0m0 0h0m0 0h0m14 0h0m3 0h0m13 0h0m-82 1h0m29 0h0m8 0h0m0 0h0m3 0h0m10 0h0m-33 1h0m1 0h0m16 0h0m2 0h0m1 0h0m5 0h0m3 0h0m5 0h0m5 0h0m8 0h0m2 0h0m2 0h0m4 0h0m-58 1h0m7 0h0m6 0h0m2 0h0m7 0h0m6 0h0m4 0h0m3 0h0m6 0h0m10 0h0m1 0h0m2 0h0m-59 1h0m21 0h0m2 0h0m4 0h0m7 0h0m3 0h0m6 0h0m21 0h0m2 0h0m1 0h0m2 0h0m-67 1h0m17 0h0m5 0h0m1 0h0m5 0h0m1 0h0m4 0h0m10 0h0m5 0h0m0 0h0m2 0h0m-67 1h0m25 0h0m3 0h0m13 0h0m7 0h0m14 0h0m2 0h0m0 0h0m10 0h0m1 0h0m-63 1h0m13 0h0m18 0h0m1 0h0m1 0h0m2 0h0m2 0h0m0 0h0m1 0h0m3 0h0m1 0h0m5 0h0m1 0h0m6 0h0m-52 1h0m3 0h0m8 0h0m7 0h0m2 0h0m5 0h0m0 0h0m2 0h0m0 0h0m4 0h0m1 0h0m2 0h0m8 0h0m2 0h0m9 0h0m1 0h0m5 0h0m2 0h0m9 0h0m-60 1h0m14 0h0m0 0h0m8 0h0m2 0h0m1 0h0m3 0h0m1 0h0m7 0h0m3 0h0m5 0h0m3 0h0m4 0h0m7 0h0m-66 1h0m3 0h0m12 0h0m6 0h0m1 0h0m2 0h0m1 0h0m10 0h0m3 0h0m0 0h0m10 0h0m9 0h0m-61 1h0m1 0h0m5 0h0m18 0h0m3 0h0m3 0h0m3 0h0m0 0h0m6 0h0m3 0h0m3 0h0m1 0h0m0 0h0m2 0h0m5 0h0m-42 1h0m0 0h0m1 0h0m4 0h0m2 0h0m4 0h0m1 0h0m3 0h0m2 0h0m3 0h0m7 0h0m0 0h0m3 0h0m1 0h0m4 0h0m0 0h0m1 0h0m0 0h0m1 0h0m1 0h0m4 0h0m2 0h0m2 0h0m17 0h0m-63 1h0m2 0h0m0 0h0m6 0h0m19 0h0m0 0h0m1 0h0m2 0h0m5 0h0m1 0h0m3 0h0m3 0h0m19 0h0m-71 1h0m11 0h0m1 0h0m8 0h0m3 0h0m1 0h0m8 0h0m6 0h0m2 0h0m0 0h0m2 0h0m3 0h0m1 0h0m2 0h0m2 0h0m0 0h0m1 0h0m13 0h0m1 0h0m9 0h0m3 0h0m-62 1h0m5 0h0m9 0h0m4 0h0m1 0h0m8 0h0m0 0h0m5 0h0m10 0h0m2 0h0m1 0h0m-48 1h0m6 0h0m3 0h0m9 0h0m4 0h0m3 0h0m1 0h0m0 0h0m2 0h0m4 0h0m1 0h0m1 0h0m5 0h0m2 0h0m0 0h0m2 0h0m5 0h0m3 0h0m-63 1h0m8 0h0m4 0h0m12 0h0m3 0h0m3 0h0m6 0h0m0 0h0m4 0h0m2 0h0m9 0h0m2 0h0m3 0h0m-46 1h0m9 0h0m2 0h0m14 0h0m5 0h0m1 0h0m8 0h0m5 0h0m1 0h0m5 0h0m-50 1h0m5 0h0m2 0h0m5 0h0m1 0h0m2 0h0m10 0h0m5 0h0m3 0h0m2 0h0m4 0h0m0 0h0m0 0h0m1 0h0m1 0h0m1 0h0m2 0h0m5 0h0m3 0h0m3 0h0m8 0h0m-92 1h0m26 0h0m3 0h0m4 0h0m0 0h0m0 0h0m10 0h0m3 0h0m12 0h0m2 0h0m1 0h0m2 0h0m0 0h0m2 0h0m2 0h0m0 0h0m2 0h0m6 0h0m3 0h0m6 0h0m-55 1h0m1 0h0m3 0h0m2 0h0m7 0h0m1 0h0m4 0h0m5 0h0m3 0h0m2 0h0m5 0h0m4 0h0m1 0h0m5 0h0m1 0h0m2 0h0m7 0h0m-63 1h0m4 0h0m13 0h0m3 0h0m5 0h0m7 0h0m5 0h0m0 0h0m1 0h0m1 0h0m5 0h0m3 0h0m0 0h0m8 0h0m2 0h0m4 0h0m0 0h0m-56 1h0m10 0h0m4 0h0m6 0h0m0 0h0m2 0h0m2 0h0m3 0h0m5 0h0m1 0h0m2 0h0m7 0h0m2 0h0m1 0h0m1 0h0m9 0h0m15 0h0m5 0h0m-79 1h0m1 0h0m6 0h0m2 0h0m2 0h0m6 0h0m8 0h0m0 0h0m1 0h0m2 0h0m0 0h0m6 0h0m8 0h0m3 0h0m1 0h0m1 0h0m40 0h0m-82 1h0m3 0h0m1 0h0m1 0h0m11 0h0m4 0h0m0 0h0m6 0h0m2 0h0m0 0h0m4 0h0m2 0h0m0 0h0m4 0h0m1 0h0m1 0h0m1 0h0m2 0h0m7 0h0m4 0h0m13 0h0m2 0h0m-68 1h0m1 0h0m7 0h0m12 0h0m1 0h0m0 0h0m2 0h0m2 0h0m0 0h0m1 0h0m1 0h0m1 0h0m0 0h0m0 0h0m1 0h0m1 0h0m2 0h0m1 0h0m4 0h0m1 0h0m2 0h0m5 0h0m5 0h0m4 0h0m0 0h0m0 0h0m5 0h0m3 0h0m23 0h0m-88 1h0m7 0h0m2 0h0m2 0h0m1 0h0m2 0h0m8 0h0m2 0h0m1 0h0m6 0h0m0 0h0m3 0h0m1 0h0m4 0h0m6 0h0m1 0h0m1 0h0m1 0h0m3 0h0m4 0h0m2 0h0m1 0h0m16 0h0m2 0h0m-52 1h0m1 0h0m2 0h0m0 0h0m3 0h0m0 0h0m3 0h0m2 0h0m2 0h0m1 0h0m3 0h0m2 0h0m3 0h0m0 0h0m5 0h0m0 0h0m5 0h0m5 0h0m8 0h0m-67 1h0m6 0h0m6 0h0m3 0h0m4 0h0m1 0h0m5 0h0m1 0h0m1 0h0m3 0h0m2 0h0m6 0h0m3 0h0m0 0h0m1 0h0m7 0h0m14 0h0m-69 1h0m2 0h0m11 0h0m5 0h0m1 0h0m1 0h0m1 0h0m3 0h0m1 0h0m3 0h0m8 0h0m0 0h0m6 0h0m10 0h0m1 0h0m16 0h0m1 0h0m-67 1h0m3 0h0m4 0h0m2 0h0m3 0h0m19 0h0m1 0h0m5 0h0m1 0h0m4 0h0m5 0h0m3 0h0m5 0h0m2 0h0m3 0h0m3 0h0m4 0h0m-75 1h0m10 0h0m6 0h0m8 0h0m0 0h0m4 0h0m8 0h0m0 0h0m1 0h0m1 0h0m3 0h0m1 0h0m1 0h0m6 0h0m1 0h0m9 0h0m1 0h0m6 0h0m3 0h0m2 0h0m3 0h0m3 0h0m-64 1h0m6 0h0m1 0h0m5 0h0m1 0h0m7 0h0m1 0h0m1 0h0m2 0h0m2 0h0m1 0h0m2 0h0m3 0h0m1 0h0m12 0h0m4 0h0m1 0h0m2 0h0m0 0h0m-47 1h0m1 0h0m5 0h0m1 0h0m1 0h0m2 0h0m7 0h0m1 0h0m2 0h0m0 0h0m0 0h0m1 0h0m4 0h0m3 0h0m0 0h0m1 0h0m2 0h0m3 0h0m1 0h0m0 0h0m1 0h0m4 0h0m6 0h0m4 0h0m1 0h0m17 0h0m-78 1h0m8 0h0m9 0h0m7 0h0m1 0h0m0 0h0m4 0h0m2 0h0m3 0h0m2 0h0m0 0h0m1 0h0m0 0h0m5 0h0m1 0h0m2 0h0m2 0h0m2 0h0m1 0h0m19 0h0m-72 1h0m2 0h0m13 0h0m8 0h0m1 0h0m0 0h0m0 0h0m1 0h0m3 0h0m0 0h0m3 0h0m5 0h0m1 0h0m0 0h0m0 0h0m3 0h0m4 0h0m1 0h0m1 0h0m4 0h0m4 0h0m3 0h0m0 0h0m0 0h0m13 0h0m12 0h0m-67 1h0m4 0h0m2 0h0m4 0h0m7 0h0m0 0h0m0 0h0m0 0h0m1 0h0m2 0h0m1 0h0m5 0h0m5 0h0m12 0h0m1 0h0m-33 1h0m1 0h0m1 0h0m1 0h0m0 0h0m0 0h0m2 0h0m2 0h0m1 0h0m10 0h0m1 0h0m2 0h0m1 0h0m5 0h0m2 0h0m9 0h0m1 0h0m9 0h0m-81 1h0m8 0h0m8 0h0m6 0h0m2 0h0m1 0h0m10 0h0m1 0h0m0 0h0m1 0h0m0 0h0m6 0h0m2 0h0m3 0h0m4 0h0m1 0h0m1 0h0m1 0h0m4 0h0m1 0h0m2 0h0m1 0h0m2 0h0m2 0h0m-66 1h0m10 0h0m3 0h0m12 0h0m6 0h0m2 0h0m3 0h0m0 0h0m2 0h0m13 0h0m0 0h0m1 0h0m3 0h0m2 0h0m0 0h0m1 0h0m0 0h0m1 0h0m1 0h0m4 0h0m1 0h0m0 0h0m3 0h0m5 0h0m20 0h0m-86 1h0m3 0h0m3 0h0m2 0h0m1 0h0m3 0h0m0 0h0m1 0h0m0 0h0m7 0h0m1 0h0m0 0h0m0 0h0m2 0h0m6 0h0m0 0h0m1 0h0m0 0h0m1 0h0m2 0h0m3 0h0m4 0h0m3 0h0m3 0h0m3 0h0m3 0h0m3 0h0m9 0h0m2 0h0m-59 1h0m4 0h0m2 0h0m2 0h0m3 0h0m0 0h0m6 0h0m5 0h0m0 0h0m6 0h0m1 0h0m0 0h0m4 0h0m2 0h0m1 0h0m1 0h0m1 0h0m1 0h0m1 0h0m2 0h0m1 0h0m0 0h0m1 0h0m6 0h0m1 0h0m1 0h0m7 0h0m-46 1h0m4 0h0m6 0h0m1 0h0m10 0h0m2 0h0m0 0h0m2 0h0m3 0h0m1 0h0m2 0h0m9 0h0m14 0h0m-80 1h0m15 0h0m1 0h0m4 0h0m5 0h0m0 0h0m2 0h0m0 0h0m1 0h0m2 0h0m1 0h0m2 0h0m1 0h0m3 0h0m0 0h0m7 0h0m4 0h0m1 0h0m1 0h0m0 0h0m6 0h0m10 0h0m1 0h0m3 0h0m6 0h0m2 0h0m24 0h0m-88 1h0m2 0h0m9 0h0m8 0h0m2 0h0m3 0h0m1 0h0m2 0h0m0 0h0m2 0h0m1 0h0m6 0h0m1 0h0m8 0h0m3 0h0m1 0h0m9 0h0m10 0h0m9 0h0m-81 1h0m10 0h0m0 0h0m6 0h0m5 0h0m2 0h0m9 0h0m5 0h0m8 0h0m0 0h0m1 0h0m1 0h0m3 0h0m0 0h0m4 0h0m6 0h0m-62 1h0m5 0h0m11 0h0m2 0h0m3 0h0m3 0h0m5 0h0m3 0h0m1 0h0m3 0h0m5 0h0m0 0h0m0 0h0m4 0h0m0 0h0m2 0h0m2 0h0m6 0h0m-55 1h0m11 0h0m5 0h0m3 0h0m1 0h0m10 0h0m1 0h0m1 0h0m6 0h0m2 0h0m1 0h0m5 0h0m1 0h0m0 0h0m0 0h0m0 0h0m2 0h0m1 0h0m3 0h0m1 0h0m3 0h0m3 0h0m3 0h0m-62 1h0m7 0h0m1 0h0m2 0h0m2 0h0m2 0h0m1 0h0m0 0h0m7 0h0m0 0h0m4 0h0m2 0h0m0 0h0m6 0h0m2 0h0m1 0h0m1 0h0m0 0h0m5 0h0m6 0h0m10 0h0m0 0h0m6 0h0m2 0h0m-54 1h0m0 0h0m2 0h0m8 0h0m3 0h0m0 0h0m5 0h0m1 0h0m6 0h0m1 0h0m1 0h0m3 0h0m3 0h0m4 0h0m2 0h0m3 0h0m0 0h0m5 0h0m2 0h0m0 0h0m4 0h0m2 0h0m-60 1h0m3 0h0m3 0h0m3 0h0m7 0h0m1 0h0m1 0h0m6 0h0m1 0h0m0 0h0m0 0h0m4 0h0m1 0h0m0 0h0m0 0h0m1 0h0m1 0h0m3 0h0m0 0h0m0 0h0m1 0h0m1 0h0m1 0h0m2 0h0m3 0h0m1 0h0m1 0h0m0 0h0m10 0h0m17 0h0m-91 1h0m15 0h0m9 0h0m8 0h0m2 0h0m1 0h0m10 0h0m1 0h0m2 0h0m0 0h0m5 0h0m3 0h0m3 0h0m6 0h0m3 0h0m3 0h0m5 0h0m23 0h0m-85 1h0m6 0h0m1 0h0m2 0h0m1 0h0m2 0h0m2 0h0m2 0h0m2 0h0m1 0h0m1 0h0m3 0h0m1 0h0m1 0h0m1 0h0m2 0h0m6 0h0m7 0h0m4 0h0m6 0h0m2 0h0m5 0h0m3 0h0m1 0h0m-68 1h0m9 0h0m1 0h0m3 0h0m7 0h0m1 0h0m2 0h0m1 0h0m0 0h0m0 0h0m4 0h0m0 0h0m0 0h0m2 0h0m2 0h0m6 0h0m1 0h0m1 0h0m4 0h0m1 0h0m1 0h0m0 0h0m1 0h0m1 0h0m3 0h0m0 0h0m1 0h0m2 0h0m1 0h0m2 0h0m5 0h0m0 0h0m5 0h0m3 0h0m1 0h0m2 0h0m-82 1h0m17 0h0m2 0h0m2 0h0m6 0h0m1 0h0m10 0h0m0 0h0m3 0h0m1 0h0m8 0h0m1 0h0m4 0h0m1 0h0m11 0h0m-56 1h0m5 0h0m1 0h0m1 0h0m5 0h0m0 0h0m2 0h0m3 0h0m2 0h0m1 0h0m0 0h0m1 0h0m0 0h0m3 0h0m1 0h0m7 0h0m3 0h0m1 0h0m0 0h0m0 0h0m0 0h0m2 0h0m0 0h0m2 0h0m3 0h0m6 0h0m2 0h0m7 0h0m1 0h0m-54 1h0m1 0h0m24 0h0m1 0h0m4 0h0m3 0h0m6 0h0m1 0h0m2 0h0m1 0h0m1 0h0m3 0h0m1 0h0m0 0h0m2 0h0m0 0h0m2 0h0m1 0h0m6 0h0m-62 1h0m13 0h0m0 0h0m1 0h0m2 0h0m1 0h0m4 0h0m5 0h0m0 0h0m4 0h0m1 0h0m0 0h0m2 0h0m1 0h0m4 0h0m6 0h0m3 0h0m1 0h0m0 0h0m5 0h0m3 0h0m3 0h0m1 0h0m-52 1h0m1 0h0m1 0h0m1 0h0m0 0h0m2 0h0m1 0h0m1 0h0m2 0h0m0 0h0m0 0h0m2 0h0m4 0h0m0 0h0m1 0h0m1 0h0m1 0h0m1 0h0m1 0h0m1 0h0m5 0h0m0 0h0m0 0h0m2 0h0m3 0h0m2 0h0m8 0h0m4 0h0m3 0h0m0 0h0m0 0h0m1 0h0m1 0h0m6 0h0m-54 1h0m6 0h0m4 0h0m3 0h0m0 0h0m2 0h0m5 0h0m2 0h0m6 0h0m1 0h0m3 0h0m8 0h0m11 0h0m5 0h0m-68 1h0m1 0h0m2 0h0m2 0h0m1 0h0m1 0h0m1 0h0m1 0h0m4 0h0m6 0h0m0 0h0m1 0h0m8 0h0m0 0h0m1 0h0m1 0h0m6 0h0m0 0h0m2 0h0m6 0h0m2 0h0m3 0h0m0 0h0m1 0h0m0 0h0m3 0h0m1 0h0m1 0h0m1 0h0m2 0h0m6 0h0m-61 1h0m1 0h0m2 0h0m1 0h0m14 0h0m2 0h0m0 0h0m0 0h0m1 0h0m2 0h0m1 0h0m1 0h0m1 0h0m2 0h0m3 0h0m0 0h0m1 0h0m3 0h0m1 0h0m0 0h0m1 0h0m0 0h0m1 0h0m0 0h0m0 0h0m2 0h0m1 0h0m2 0h0m3 0h0m1 0h0m1 0h0m1 0h0m2 0h0m0 0h0m10 0h0m25 0h0m-84 1h0m0 0h0m3 0h0m10 0h0m3 0h0m3 0h0m1 0h0m4 0h0m1 0h0m1 0h0m13 0h0m1 0h0m3 0h0m3 0h0m3 0h0m14 0h0m16 0h0m-85 1h0m1 0h0m10 0h0m0 0h0m2 0h0m5 0h0m5 0h0m3 0h0m1 0h0m3 0h0m0 0h0m2 0h0m0 0h0m0 0h0m3 0h0m1 0h0m0 0h0m7 0h0m2 0h0m6 0h0m1 0h0m4 0h0m1 0h0m2 0h0m1 0h0m-51 1h0m2 0h0m4 0h0m0 0h0m9 0h0m4 0h0m1 0h0m2 0h0m0 0h0m2 0h0m1 0h0m5 0h0m2 0h0m1 0h0m1 0h0m1 0h0m2 0h0m0 0h0m0 0h0m3 0h0m3 0h0m4 0h0m0 0h0m0 0h0m18 0h0m-71 1h0m15 0h0m0 0h0m0 0h0m5 0h0m3 0h0m0 0h0m1 0h0m4 0h0m5 0h0m2 0h0m2 0h0m7 0h0m4 0h0m3 0h0m8 0h0m-59 1h0m4 0h0m8 0h0m0 0h0m3 0h0m9 0h0m5 0h0m3 0h0m1 0h0m5 0h0m1 0h0m1 0h0m1 0h0m2 0h0m3 0h0m8 0h0m1 0h0m2 0h0m9 0h0m11 0h0m-70 1h0m8 0h0m1 0h0m3 0h0m1 0h0m4 0h0m1 0h0m0 0h0m2 0h0m2 0h0m1 0h0m1 0h0m2 0h0m0 0h0m1 0h0m1 0h0m1 0h0m3 0h0m0 0h0m2 0h0m5 0h0m2 0h0m1 0h0m2 0h0m2 0h0m14 0h0m-67 1h0m13 0h0m2 0h0m1 0h0m0 0h0m8 0h0m2 0h0m1 0h0m4 0h0m8 0h0m3 0h0m3 0h0m2 0h0m1 0h0m0 0h0m8 0h0m4 0h0m7 0h0m5 0h0m-72 1h0m8 0h0m5 0h0m0 0h0m2 0h0m1 0h0m6 0h0m0 0h0m1 0h0m0 0h0m2 0h0m2 0h0m0 0h0m1 0h0m2 0h0m3 0h0m3 0h0m0 0h0m1 0h0m0 0h0m4 0h0m1 0h0m7 0h0m5 0h0m3 0h0m1 0h0m7 0h0m18 0h0m-73 1h0m2 0h0m3 0h0m2 0h0m1 0h0m1 0h0m1 0h0m0 0h0m3 0h0m10 0h0m2 0h0m7 0h0m1 0h0m3 0h0m9 0h0m2 0h0m5 0h0m6 0h0m3 0h0m-81 1h0m4 0h0m14 0h0m4 0h0m1 0h0m7 0h0m0 0h0m4 0h0m0 0h0m5 0h0m3 0h0m2 0h0m5 0h0m2 0h0m1 0h0m1 0h0m2 0h0m1 0h0m1 0h0m6 0h0m2 0h0m2 0h0m8 0h0m-77 1h0m9 0h0m14 0h0m8 0h0m10 0h0m0 0h0m0 0h0m1 0h0m1 0h0m1 0h0m5 0h0m4 0h0m0 0h0m5 0h0m1 0h0m11 0h0m15 0h0m-80 1h0m12 0h0m5 0h0m0 0h0m0 0h0m2 0h0m7 0h0m6 0h0m1 0h0m1 0h0m1 0h0m1 0h0m6 0h0m3 0h0m2 0h0m1 0h0m1 0h0m6 0h0m0 0h0m1 0h0m1 0h0m4 0h0m5 0h0m9 0h0m2 0h0m-76 1h0m12 0h0m0 0h0m7 0h0m3 0h0m5 0h0m3 0h0m12 0h0m3 0h0m0 0h0m1 0h0m1 0h0m6 0h0m0 0h0m1 0h0m1 0h0m6 0h0m8 0h0m8 0h0m0 0h0m-60 1h0m6 0h0m3 0h0m5 0h0m1 0h0m7 0h0m1 0h0m2 0h0m1 0h0m7 0h0m5 0h0m2 0h0m3 0h0m1 0h0m5 0h0m5 0h0m-69 1h0m13 0h0m0 0h0m9 0h0m1 0h0m0 0h0m1 0h0m4 0h0m2 0h0m4 0h0m2 0h0m4 0h0m0 0h0m5 0h0m2 0h0m1 0h0m2 0h0m5 0h0m0 0h0m0 0h0m4 0h0m-57 1h0m2 0h0m4 0h0m4 0h0m8 0h0m1 0h0m2 0h0m8 0h0m2 0h0m1 0h0m4 0h0m1 0h0m1 0h0m2 0h0m3 0h0m6 0h0m1 0h0m2 0h0m11 0h0m-69 1h0m3 0h0m20 0h0m0 0h0m6 0h0m4 0h0m1 0h0m1 0h0m3 0h0m3 0h0m1 0h0m4 0h0m2 0h0m1 0h0m1 0h0m1 0h0m1 0h0m2 0h0m1 0h0m0 0h0m5 0h0m1 0h0m1 0h0m0 0h0m3 0h0m0 0h0m8 0h0m2 0h0m39 0h0m-104 1h0m17 0h0m12 0h0m1 0h0m5 0h0m5 0h0m2 0h0m3 0h0m20 0h0m-64 1h0m4 0h0m0 0h0m5 0h0m1 0h0m1 0h0m1 0h0m4 0h0m2 0h0m1 0h0m0 0h0m9 0h0m1 0h0m4 0h0m1 0h0m1 0h0m5 0h0m0 0h0m2 0h0m1 0h0m2 0h0m1 0h0m0 0h0m2 0h0m1 0h0m0 0h0m-59 1h0m26 0h0m2 0h0m6 0h0m0 0h0m8 0h0m4 0h0m1 0h0m0 0h0m5 0h0m5 0h0m1 0h0m0 0h0m7 0h0m3 0h0m0 0h0m1 0h0m2 0h0m6 0h0m-63 1h0m4 0h0m2 0h0m0 0h0m2 0h0m4 0h0m3 0h0m2 0h0m2 0h0m11 0h0m0 0h0m1 0h0m1 0h0m0 0h0m3 0h0m1 0h0m3 0h0m17 0h0m10 0h0m4 0h0m2 0h0m-85 1h0m0 0h0m10 0h0m0 0h0m1 0h0m1 0h0m3 0h0m0 0h0m3 0h0m3 0h0m1 0h0m9 0h0m5 0h0m2 0h0m4 0h0m0 0h0m0 0h0m1 0h0m2 0h0m2 0h0m1 0h0m2 0h0m1 0h0m4 0h0m5 0h0m5 0h0m6 0h0m-67 1h0m11 0h0m1 0h0m0 0h0m3 0h0m3 0h0m18 0h0m4 0h0m2 0h0m0 0h0m4 0h0m0 0h0m3 0h0m3 0h0m2 0h0m7 0h0m2 0h0m-53 1h0m1 0h0m2 0h0m5 0h0m1 0h0m0 0h0m1 0h0m3 0h0m1 0h0m2 0h0m5 0h0m2 0h0m2 0h0m1 0h0m3 0h0m9 0h0m2 0h0m2 0h0m6 0h0m2 0h0m5 0h0m-57 1h0m9 0h0m1 0h0m0 0h0m5 0h0m3 0h0m5 0h0m2 0h0m5 0h0m2 0h0m1 0h0m2 0h0m0 0h0m1 0h0m1 0h0m4 0h0m1 0h0m1 0h0m2 0h0m2 0h0m2 0h0m2 0h0m2 0h0m1 0h0m15 0h0m-76 1h0m3 0h0m15 0h0m1 0h0m1 0h0m1 0h0m1 0h0m1 0h0m1 0h0m4 0h0m1 0h0m11 0h0m0 0h0m3 0h0m2 0h0m2 0h0m10 0h0m4 0h0m7 0h0m-76 1h0m7 0h0m9 0h0m1 0h0m25 0h0m13 0h0m1 0h0m1 0h0m0 0h0m2 0h0m7 0h0m-55 1h0m24 0h0m4 0h0m3 0h0m4 0h0m13 0h0m0 0h0m1 0h0m1 0h0m2 0h0m2 0h0m3 0h0m2 0h0m19 0h0m1 0h0m-77 1h0m15 0h0m1 0h0m2 0h0m3 0h0m1 0h0m8 0h0m3 0h0m3 0h0m1 0h0m7 0h0m1 0h0m0 0h0m2 0h0m10 0h0m2 0h0m5 0h0m8 0h0m3 0h0m3 0h0m-81 1h0m13 0h0m3 0h0m1 0h0m5 0h0m1 0h0m0 0h0m6 0h0m3 0h0m4 0h0m2 0h0m1 0h0m2 0h0m3 0h0m0 0h0m0 0h0m2 0h0m3 0h0m1 0h0m3 0h0m1 0h0m3 0h0m-60 1h0m3 0h0m7 0h0m1 0h0m4 0h0m3 0h0m0 0h0m1 0h0m5 0h0m0 0h0m4 0h0m4 0h0m2 0h0m0 0h0m5 0h0m1 0h0m1 0h0m7 0h0m0 0h0m3 0h0m1 0h0m8 0h0m1 0h0m6 0h0m0 0h0m10 0h0m-73 1h0m9 0h0m4 0h0m7 0h0m2 0h0m0 0h0m0 0h0m1 0h0m0 0h0m4 0h0m1 0h0m2 0h0m1 0h0m3 0h0m2 0h0m5 0h0m5 0h0m2 0h0m8 0h0m0 0h0m1 0h0m-52 1h0m1 0h0m5 0h0m4 0h0m1 0h0m5 0h0m2 0h0m4 0h0m1 0h0m0 0h0m4 0h0m5 0h0m1 0h0m1 0h0m3 0h0m2 0h0m8 0h0m3 0h0m15 0h0m2 0h0m-78 1h0m5 0h0m6 0h0m4 0h0m3 0h0m3 0h0m7 0h0m4 0h0m0 0h0m1 0h0m0 0h0m2 0h0m0 0h0m1 0h0m8 0h0m1 0h0m12 0h0m4 0h0m3 0h0m6 0h0m9 0h0m3 0h0m-76 1h0m9 0h0m0 0h0m5 0h0m1 0h0m0 0h0m0 0h0m1 0h0m2 0h0m6 0h0m5 0h0m2 0h0m0 0h0m0 0h0m4 0h0m0 0h0m3 0h0m1 0h0m1 0h0m2 0h0m3 0h0m2 0h0m3 0h0m1 0h0m2 0h0m6 0h0m-44 1h0m15 0h0m12 0h0m1 0h0m15 0h0m1 0h0m-69 1h0m16 0h0m6 0h0m7 0h0m3 0h0m0 0h0m4 0h0m0 0h0m1 0h0m5 0h0m1 0h0m3 0h0m4 0h0m0 0h0m5 0h0m4 0h0m-43 1h0m9 0h0m0 0h0m4 0h0m3 0h0m0 0h0m1 0h0m2 0h0m3 0h0m6 0h0m1 0h0m5 0h0m1 0h0m2 0h0m0 0h0m1 0h0m2 0h0m7 0h0m-33 1h0m7 0h0m5 0h0m3 0h0m6 0h0m3 0h0m5 0h0m8 0h0m7 0h0m3 0h0m1 0h0m-75 1h0m13 0h0m3 0h0m0 0h0m10 0h0m11 0h0m3 0h0m3 0h0m3 0h0m3 0h0m1 0h0m3 0h0m16 0h0m11 0h0m-70 1h0m1 0h0m5 0h0m15 0h0m1 0h0m6 0h0m3 0h0m17 0h0m13 0h0m-54 1h0m2 0h0m8 0h0m4 0h0m16 0h0m1 0h0m6 0h0m2 0h0m4 0h0m2 0h0m1 0h0m12 0h0m4 0h0m3 0h0m-66 1h0m7 0h0m0 0h0m5 0h0m1 0h0m3 0h0m3 0h0m2 0h0m7 0h0m3 0h0m18 0h0m1 0h0m1 0h0m-65 1h0m14 0h0m7 0h0m7 0h0m12 0h0m1 0h0m2 0h0m2 0h0m5 0h0m0 0h0m2 0h0m8 0h0m5 0h0m8 0h0m5 0h0m-70 1h0m30 0h0m15 0h0m1 0h0m7 0h0m18 0h0m-68 1h0m19 0h0m11 0h0m1 0h0m0 0h0m4 0h0m0 0h0m1 0h0m4 0h0m1 0h0m4 0h0m21 0h0m-72 1h0m5 0h0m16 0h0m13 0h0m0 0h0m5 0h0m12 0h0m4 0h0m16 0h0m-61 1h0m1 0h0m3 0h0m5 0h0m2 0h0m2 0h0m0 0h0m11 0h0m2 0h0m25 0h0m-53 1h0m4 0h0m9 0h0m0 0h0m5 0h0m10 0h0m2 0h0m7 0h0m-37 1h0m3 0h0m11 0h0m17 0h0m8 0h0m11 0h0m4 0h0m5 0h0m-69 1h0m16 0h0m1 0h0m9 0h0m13 0h0m1 0h0m-21 1h0m6 0h0m7 0h0m1 0h0m8 0h0m7 0h0m15 0h0m-63 1h0m19 0h0m3 0h0m1 0h0m14 0h0m4 0h0m0 0h0m3 0h0m1 0h0m1 0h0m6 0h0m-45 1h0m7 0h0m24 0h0m1 0h0m7 0h0m5 0h0m6 0h0m6 0h0m8 0h0m4 0h0m-52 1h0m13 0h0m1 0h0m6 0h0m2 0h0m3 0h0m14 0h0m-57 1h0m2 0h0m0 0h0m17 0h0m3 0h0m23 0h0m15 0h0m12 0h0m-64 1h0m13 0h0m3 0h0m6 0h0m3 0h0m6 0h0m9 0h0m1 0h0m-44 1h0m6 0h0m8 0h0m16 0h0m15 0h0m6 0h0m15 0h0m-70 1h0m7 0h0m11 0h0m6 0h0m9 0h0m16 0h0m2 0h0m-30 1h0m3 0h0m7 0h0m7 0h0m10 0h0m13 0h0m-49 1h0m1 0h0m4 0h0m1 0h0m1 0h0m10 0h0m1 0h0m2 0h0m7 0h0m1 0h0m9 0h0m5 0h0m-55 1h0m9 0h0m5 0h0m6 0h0m18 0h0m4 0h0m7 0h0m4 0h0m2 0h0m1 0h0m2 0h0m-60 1h0m21 0h0m9 0h0m0 0h0m4 0h0m23 0h0m-26 1h0m2 0h0m7 0h0m6 0h0m6 0h0m0 0h0m4 0h0m7 0h0m-36 1h0m13 0h0m11 0h0m-53 1h0m31 0h0m7 0h0m13 0h0m14 0h0m-64 1h0m22 0h0m1 0h0m20 0h0m2 0h0m-22 1h0m12 0h0m44 0h0m-53 1h0m0 0h0m3 0h0m5 0h0m3 0h0m7 0h0m7 0h0m9 0h0m-49 1h0m12 0h0m17 0h0m14 0h0m6 0h0m-29 1h0m14 0h0m10 0h0m-35 1h0m32 0h0m0 0h0m5 0h0m3 0h0m19 0h0m-62 1h0m16 0h0m4 0h0m-4 1h0m5 0h0m24 0h0m-45 1h0m42 0h0m-55 1h0m29 0h0m1 0h0m21 0h0m-45 1h0m23 0h0m8 0h0m6 0h0m-4 1h0m20 0h0m-36 1h0m37 0h0m-30 1h0m-23 1h0m6 0h0m28 0h0m-11 1h0m7 0h0m-8 1h0m34 0h0m-17 1h0m1 0h0m-19 1h0m-26 2h0m60 0h0m-56 1h0m57 0h0m-48 1h0m21 1h0m-70 1h0m72 1h0m6 1h0m-34 5h0m33 10h0m10 3h0m-20 7h0" stroke="#8C8C8C" stroke-opacity="0.32" stroke-width="1.1" stroke-linecap="square" fill="none"/>
<path d="M643.1 414.1 643.2 420.2 641.7 431.1 640.3 434.3 636.9 438.7 635.5 439.1 632.8 438.0 628.0 439.9 626.6 439.8 624.5 438.6 621.8 438.3 618.4 434.6 614.9 433.5 613.6 432.2 610.6 421.4 609.6 415.3 608.1 409.6 608.6 400.8 608.3 388.6 608.6 385.0 609.5 381.4 612.0 376.5 613.6 371.8 614.9 370.3 615.6 370.0 617.7 370.5 619.1 370.4 623.2 366.8 625.2 366.7 628.7 369.0 630.7 369.7 633.3 372.9 635.5 373.6 636.9 374.7 640.3 384.7 642.1 388.6 642.6 391.1 642.3 408.1 643.1 414.1ZM640.4 417.8 639.8 421.4 637.6 425.7 630.7 431.7 629.3 432.3 628.0 432.1 624.5 429.8 621.1 429.3 618.4 426.4 616.3 424.9 614.9 422.6 613.2 416.5 613.3 409.3 611.6 398.3 611.5 394.7 612.0 386.2 612.9 384.2 615.6 381.3 619.1 376.6 622.5 374.0 624.5 374.3 632.8 378.3 634.4 380.1 636.9 385.6 638.8 392.3 638.9 400.8 638.3 408.1 640.4 417.8ZM635.6 395.9 636.1 403.2 635.2 411.7 635.6 420.2 634.8 421.9 630.7 426.1 630.0 426.6 628.7 426.6 623.2 423.0 621.7 421.4 619.1 417.4 616.0 409.3 614.5 402.0 614.5 397.1 615.9 389.8 618.4 384.6 619.7 383.0 621.8 382.0 623.4 380.1 624.5 379.6 626.6 379.8 631.3 381.4 632.8 383.8 633.8 389.8 635.6 395.9ZM632.8 398.3 632.4 411.7 632.0 415.3 630.9 417.8 629.3 418.8 628.7 418.8 627.3 417.6 625.2 413.9 622.5 412.9 621.1 411.7 618.9 408.1 617.7 404.7 617.9 402.0 620.1 399.6 620.8 398.3 621.0 391.1 622.1 388.6 623.9 387.9 625.0 388.6 625.9 390.1 626.6 390.4 627.5 389.8 629.3 387.6 630.0 388.5 632.8 398.3ZM628.8 400.8 628.4 403.2 628.0 403.8 627.3 403.7 627.0 402.0 628.0 399.6 628.8 400.8Z" stroke="#5F82DA" stroke-width="0.75" fill="none" stroke-linejoin="round"/>
<line x1="586.18" x2="672.18" y1="404.5" y2="404.5" stroke="#000" stroke-width="0.6" stroke-dasharray="1.3 1.7"/>
<line x1="625.40" x2="625.40" y1="341.5" y2="468.2" stroke="#000" stroke-width="0.6" stroke-dasharray="1.3 1.7"/>
<line x1="590" y1="395.5" x2="667.6" y2="416.3" stroke="#222" stroke-width="1.3"/>
<text x="590.18" y="352.60" font-size="4.7" fill="#111"><tspan font-style="italic">R</tspan> = −0.14, <tspan font-style="italic">p</tspan> &lt; 2.2e-16</text>
<rect x="586.18" y="341.5" width="86.00" height="126.70" fill="none" stroke="#3A3A3A" stroke-width="0.85"/>
<text x="629.18" y="336.9" font-size="7.0" text-anchor="middle" fill="#0A0A0A">Alc Self Admin</text>
<line x1="604.20" x2="604.20" y1="468.2" y2="470.8" stroke="#333" stroke-width="0.7"/>
<text x="604.20" y="478.9" font-size="7.9" text-anchor="middle" fill="#4D4D4D">-4</text>
<line x1="625.40" x2="625.40" y1="468.2" y2="470.8" stroke="#333" stroke-width="0.7"/>
<text x="625.40" y="478.9" font-size="7.9" text-anchor="middle" fill="#4D4D4D">0</text>
<line x1="646.60" x2="646.60" y1="468.2" y2="470.8" stroke="#333" stroke-width="0.7"/>
<text x="646.60" y="478.9" font-size="7.9" text-anchor="middle" fill="#4D4D4D">4</text>
<line x1="667.80" x2="667.80" y1="468.2" y2="470.8" stroke="#333" stroke-width="0.7"/>
<text x="667.80" y="478.9" font-size="7.9" text-anchor="middle" fill="#4D4D4D">8</text>
<line x1="39.8" x2="42.4" y1="342.35" y2="342.35" stroke="#333" stroke-width="0.7"/>
<text x="38.5" y="345.15" font-size="7.8" text-anchor="end" fill="#4D4D4D">5.0</text>
<line x1="39.8" x2="42.4" y1="373.43" y2="373.43" stroke="#333" stroke-width="0.7"/>
<text x="38.5" y="376.23" font-size="7.8" text-anchor="end" fill="#4D4D4D">2.5</text>
<line x1="39.8" x2="42.4" y1="404.50" y2="404.50" stroke="#333" stroke-width="0.7"/>
<text x="38.5" y="407.30" font-size="7.8" text-anchor="end" fill="#4D4D4D">0.0</text>
<line x1="39.8" x2="42.4" y1="435.57" y2="435.57" stroke="#333" stroke-width="0.7"/>
<text x="38.5" y="438.38" font-size="7.8" text-anchor="end" fill="#4D4D4D">-2.5</text>
<line x1="39.8" x2="42.4" y1="466.65" y2="466.65" stroke="#333" stroke-width="0.7"/>
<text x="38.5" y="469.45" font-size="7.8" text-anchor="end" fill="#4D4D4D">-5.0</text>
<text transform="translate(12.8,406) rotate(-90)" font-size="9.3" text-anchor="middle" fill="#000">AUD vs Control</text>
<text transform="translate(20.6,404.8) rotate(-90)" font-size="9.4" text-anchor="middle" fill="#000">(t-stat)</text>
<text x="357.5" y="488.6" font-size="9.25" text-anchor="middle" fill="#000">Differential Expression Statistic (Wald or t-stat)</text>
<text transform="translate(676.2,404.9) rotate(90)" font-size="6.8" text-anchor="middle" fill="#1A1A1A">PFC</text>
</g>
</svg>
</body></html>
